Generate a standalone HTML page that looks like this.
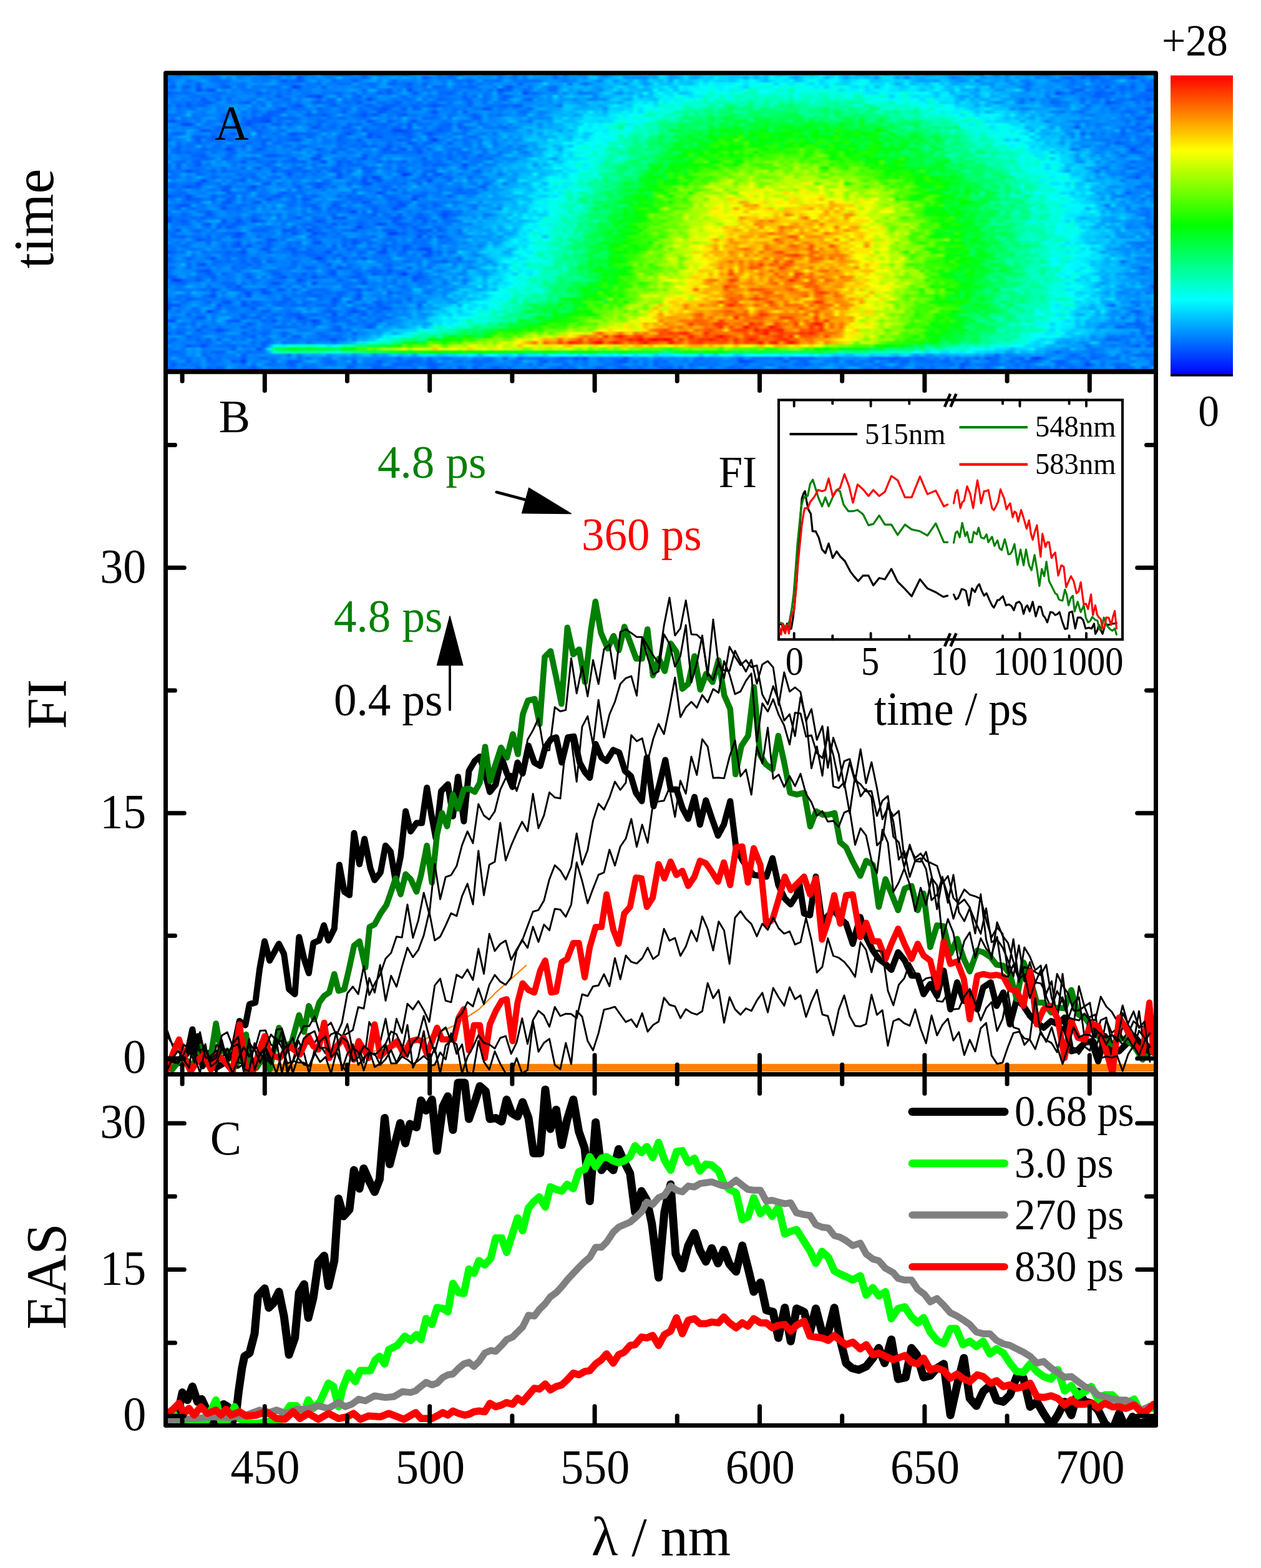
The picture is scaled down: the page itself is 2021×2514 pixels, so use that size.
<!DOCTYPE html>
<html><head><meta charset="utf-8"><title>Figure</title><style>html,body{margin:0;padding:0;background:#fff}#fig{position:relative;width:2021px;height:2514px;overflow:hidden;background:#fff}#fig>svg{position:absolute;left:0;top:0;display:block}#hm{position:absolute;overflow:hidden}#hm>div{position:absolute;left:-4px;right:-4px;top:0;filter:blur(1.2px)}#hm i{display:block;height:5px}</style></head><body><div id="fig"><div id="hm" style="left:266px;top:117px;width:1586px;height:479px"><div><i style="background:linear-gradient(90deg,#00a4ff,#0085ff,#007bff,#0051ff,#0073ff,#0074ff,#007aff,#006eff,#0078ff,#006fff,#005dff,#008dff,#0094ff,#00a1ff,#0080ff,#0071ff,#006dff,#005aff,#008eff,#0063ff,#005eff,#0076ff,#009cff,#0080ff,#0066ff,#006bff,#008bff,#0073ff,#0069ff,#0077ff,#008dff,#00a9ff,#0062ff,#006bff,#0067ff,#0048ff,#0064ff,#0065ff,#0093ff,#0078ff,#0056ff,#0088ff,#0077ff,#0056ff,#006eff,#0070ff,#006bff,#007bff,#004dff,#0077ff,#0094ff,#0095ff,#0094ff,#0097ff,#009fff,#0065ff,#008dff,#0052ff,#006bff,#0058ff,#0096ff,#009dff,#007fff,#00a5ff,#0072ff,#0082ff,#0084ff,#0065ff,#008bff,#00aaff,#0069ff,#0094ff,#007dff,#00abff,#008fff,#0093ff,#0091ff,#0089ff,#0062ff,#00a2ff,#0068ff,#008dff,#0097ff,#007aff,#0090ff,#00aeff,#0095ff,#007cff,#0050ff,#007eff,#008dff,#0092ff,#0086ff,#00a7ff,#0093ff,#00a0ff,#00b3ff,#0095ff,#00a3ff,#00e4ff,#00c6ff,#0090ff,#00adff,#00c2ff,#00d7ff,#00bbff,#00a9ff,#00aaff,#00cdff,#00c6ff,#00b7ff,#00beff,#00bbff,#00d5ff,#00b7ff,#00d4ff,#00dcff,#00d7ff,#00b5ff,#00ecff,#00bcff,#00dbff,#00bbff,#00a4ff,#00d4ff,#00d3ff,#00c8ff,#00d3ff,#00beff,#00b9ff,#00caff,#00fdff,#00dcff,#00bdff,#00d7ff,#00b9ff,#00b5ff,#00d6ff,#00b2ff,#0095ff,#00a4ff,#00bdff,#00bbff,#00d8ff,#00abff,#00c9ff,#00bcff,#00b0ff,#00bfff,#00bbff,#009aff,#00c1ff,#008eff,#00a8ff,#00a8ff,#00adff,#0091ff,#009bff,#009aff,#00b2ff,#008aff,#009aff,#0093ff,#0079ff,#00d1ff,#0093ff,#0070ff,#00afff,#0077ff,#0098ff,#009fff,#007fff,#007fff,#007eff,#0080ff,#0061ff,#0067ff,#0081ff,#009dff,#0091ff,#00a7ff,#0090ff,#0075ff,#0077ff,#0050ff,#0063ff,#0064ff,#0082ff,#008cff,#006fff,#006cff,#0058ff,#0077ff,#007cff,#0084ff,#006cff,#00aaff,#009bff,#007bff)"></i><i style="background:linear-gradient(90deg,#0072ff,#0073ff,#007dff,#0079ff,#0087ff,#008aff,#0099ff,#0094ff,#007dff,#0082ff,#006fff,#0070ff,#00a2ff,#0077ff,#00a5ff,#0077ff,#0081ff,#0091ff,#007dff,#0081ff,#0073ff,#0070ff,#007bff,#006fff,#0097ff,#0079ff,#009cff,#0042ff,#0077ff,#0088ff,#007bff,#0095ff,#0089ff,#0077ff,#0083ff,#00b2ff,#0082ff,#0080ff,#0072ff,#007cff,#0060ff,#007cff,#00b2ff,#0091ff,#008dff,#0095ff,#00a1ff,#008dff,#00a4ff,#0095ff,#0084ff,#00a2ff,#0050ff,#0071ff,#0085ff,#0069ff,#0079ff,#006eff,#0070ff,#00b1ff,#008eff,#007eff,#0098ff,#0081ff,#008eff,#0088ff,#009dff,#0061ff,#0091ff,#0086ff,#0066ff,#0096ff,#006fff,#00a4ff,#008eff,#0091ff,#0089ff,#0098ff,#005fff,#0089ff,#0078ff,#0092ff,#008eff,#009dff,#0085ff,#00c2ff,#00cbff,#0093ff,#0099ff,#00a7ff,#00bcff,#00ceff,#008fff,#0099ff,#0095ff,#0092ff,#008bff,#00b9ff,#009dff,#00dcff,#00d1ff,#009eff,#00a7ff,#00b2ff,#00e3ff,#00b0ff,#00a3ff,#00c6ff,#00d2ff,#00c1ff,#00f1ff,#00d6ff,#00daff,#00bfff,#00d0ff,#00d3ff,#00a4ff,#00dfff,#00b0ff,#00d7ff,#00b6ff,#00fff4,#00e7ff,#00efff,#00f1ff,#00bfff,#00a2ff,#00d1ff,#00f0ff,#00e2ff,#00efff,#00f1ff,#00b9ff,#00dfff,#00fff8,#00c5ff,#00a0ff,#00cbff,#00c5ff,#00d6ff,#00baff,#00c8ff,#0096ff,#00dcff,#00eaff,#00e3ff,#00a2ff,#00c3ff,#007fff,#00c0ff,#00b4ff,#00a1ff,#00b9ff,#00b6ff,#00c3ff,#00b5ff,#00b0ff,#007eff,#008bff,#009aff,#00a7ff,#00a7ff,#00bbff,#008aff,#009cff,#009fff,#0091ff,#00a4ff,#0086ff,#00b2ff,#0091ff,#00a4ff,#008dff,#00aaff,#0071ff,#0092ff,#007fff,#008bff,#009eff,#006eff,#0069ff,#006cff,#0083ff,#0059ff,#007dff,#005fff,#0064ff,#0074ff,#0084ff,#006eff,#0073ff,#007dff,#0074ff,#0045ff,#0072ff,#007aff,#0098ff,#00a7ff,#008dff)"></i><i style="background:linear-gradient(90deg,#007dff,#0067ff,#007bff,#008fff,#0096ff,#006bff,#0083ff,#008cff,#00a2ff,#0083ff,#006fff,#006bff,#0074ff,#006eff,#0090ff,#0092ff,#008bff,#0097ff,#0075ff,#0083ff,#0074ff,#007eff,#0097ff,#0079ff,#0057ff,#0073ff,#006dff,#0057ff,#006cff,#0090ff,#009eff,#0074ff,#0094ff,#0093ff,#0066ff,#007dff,#007bff,#007dff,#005dff,#0075ff,#0090ff,#0097ff,#00a6ff,#007cff,#00a7ff,#008aff,#0063ff,#008cff,#0079ff,#0086ff,#007dff,#009aff,#007cff,#0077ff,#0093ff,#0083ff,#0075ff,#009aff,#0076ff,#0073ff,#0074ff,#005dff,#0077ff,#00a1ff,#0070ff,#007dff,#006cff,#0072ff,#00a1ff,#0093ff,#0074ff,#007eff,#006fff,#0074ff,#0071ff,#0074ff,#0094ff,#0097ff,#0093ff,#0088ff,#0073ff,#008bff,#0084ff,#00a9ff,#00a1ff,#00aeff,#009bff,#007bff,#00b9ff,#00c5ff,#008eff,#00b4ff,#00c4ff,#009dff,#00dcff,#00aeff,#009dff,#00d9ff,#00c8ff,#00b6ff,#00d6ff,#0099ff,#00efff,#00b8ff,#00d4ff,#00c3ff,#00daff,#00ebff,#00c6ff,#00ebff,#00d8ff,#00ceff,#00daff,#00c7ff,#00d2ff,#00fbff,#00dfff,#00fffa,#00f0ff,#00d1ff,#00b9ff,#00deff,#00f0ff,#00efff,#00deff,#00fdff,#00c0ff,#00ccff,#00f1ff,#00ffe2,#00f8ff,#00d1ff,#00f1ff,#00faff,#00fdff,#00d6ff,#00c8ff,#00e1ff,#00eaff,#00fff8,#00fff2,#00c8ff,#00c6ff,#00d3ff,#00d5ff,#00dfff,#00d4ff,#00d3ff,#00e7ff,#00c3ff,#00acff,#009eff,#00a7ff,#00a8ff,#0098ff,#00c8ff,#00bfff,#00a6ff,#0099ff,#008bff,#009bff,#00d0ff,#007eff,#00a3ff,#00b1ff,#00a2ff,#0099ff,#00aeff,#0083ff,#00a4ff,#00b3ff,#0080ff,#007cff,#0094ff,#00a3ff,#00acff,#0099ff,#007cff,#0072ff,#0088ff,#0089ff,#0069ff,#0082ff,#0085ff,#0099ff,#006aff,#0085ff,#0064ff,#0073ff,#007aff,#009eff,#00c2ff,#0085ff,#0081ff,#008fff,#0062ff,#0088ff,#0067ff,#009eff)"></i><i style="background:linear-gradient(90deg,#0099ff,#0083ff,#0069ff,#00a0ff,#0082ff,#007aff,#0086ff,#0057ff,#0088ff,#0091ff,#0083ff,#007bff,#0065ff,#0083ff,#0083ff,#007cff,#0070ff,#0092ff,#0094ff,#0085ff,#008eff,#0098ff,#009dff,#0080ff,#0075ff,#0073ff,#0075ff,#0081ff,#008eff,#0075ff,#007fff,#0069ff,#0093ff,#0079ff,#0080ff,#006eff,#0075ff,#0070ff,#009bff,#0083ff,#007bff,#006aff,#0070ff,#008bff,#00a3ff,#0063ff,#0066ff,#0079ff,#006dff,#0059ff,#007cff,#008dff,#005dff,#0084ff,#0091ff,#0091ff,#0076ff,#00b2ff,#008aff,#006dff,#008eff,#0064ff,#008bff,#006bff,#008dff,#0076ff,#0094ff,#0093ff,#008aff,#0081ff,#0094ff,#005eff,#008aff,#008aff,#0092ff,#009eff,#00d7ff,#0092ff,#009dff,#0096ff,#00b2ff,#006fff,#00bbff,#0091ff,#006eff,#008cff,#009fff,#00a9ff,#00afff,#00c3ff,#00b1ff,#00b5ff,#008cff,#00c2ff,#00d7ff,#00b9ff,#0094ff,#00aaff,#00eeff,#00beff,#00c1ff,#00b9ff,#00e3ff,#00caff,#00c4ff,#00b8ff,#00dcff,#00fcff,#00e3ff,#00fffe,#00edff,#00edff,#00f2ff,#00f0ff,#00fff4,#00fffe,#00e2ff,#00fcff,#00f9ff,#00fffa,#00ffff,#00fffa,#00d8ff,#00fff7,#00ffe5,#00e2ff,#00ffdf,#00fffc,#00f5ff,#00d3ff,#00fff0,#00deff,#00e6ff,#00fffb,#00deff,#00dbff,#00d2ff,#00eaff,#00f9ff,#00fcff,#00f4ff,#00dfff,#00e1ff,#00d4ff,#00ffee,#00e4ff,#00aeff,#00bfff,#00fbff,#00b8ff,#00c6ff,#00d5ff,#00b4ff,#00e1ff,#00eeff,#00baff,#00daff,#00abff,#00a6ff,#00baff,#00bdff,#00adff,#00bcff,#008eff,#0099ff,#008dff,#00b4ff,#00b5ff,#00aaff,#0083ff,#009dff,#009bff,#006dff,#0080ff,#00a1ff,#00a1ff,#0094ff,#0095ff,#0090ff,#008cff,#0082ff,#006fff,#007eff,#007aff,#00b1ff,#0084ff,#007dff,#0077ff,#0075ff,#0079ff,#0089ff,#0080ff,#008cff,#006cff,#0085ff,#008bff,#0064ff,#007bff,#0085ff)"></i><i style="background:linear-gradient(90deg,#0074ff,#006fff,#0054ff,#0095ff,#0067ff,#0061ff,#0088ff,#004fff,#008dff,#0083ff,#0085ff,#007aff,#005fff,#0057ff,#0097ff,#0073ff,#006fff,#009bff,#0071ff,#0076ff,#007aff,#0079ff,#0068ff,#0070ff,#0095ff,#0086ff,#003eff,#0050ff,#0082ff,#0078ff,#0076ff,#008eff,#005bff,#0092ff,#0081ff,#0087ff,#0082ff,#008eff,#007dff,#0073ff,#0089ff,#0081ff,#0066ff,#0099ff,#009aff,#0095ff,#007fff,#0081ff,#0076ff,#0061ff,#007dff,#0082ff,#006eff,#00a0ff,#005fff,#006bff,#006fff,#009bff,#0079ff,#0074ff,#006dff,#006aff,#0065ff,#008fff,#0090ff,#0090ff,#0078ff,#00aeff,#006aff,#0052ff,#007dff,#0083ff,#0091ff,#0071ff,#0098ff,#00afff,#0082ff,#007aff,#006bff,#009aff,#00b1ff,#00a8ff,#00b6ff,#00beff,#00a8ff,#00b9ff,#0095ff,#0099ff,#00b5ff,#00a6ff,#00c9ff,#00daff,#00c7ff,#00b2ff,#00b6ff,#00e4ff,#00b3ff,#00cbff,#00d2ff,#00d4ff,#00efff,#00ceff,#00bbff,#00fffc,#00e9ff,#00f6ff,#00edff,#00fffb,#00ffed,#00ffe5,#00f2ff,#00efff,#00fffa,#00fffd,#00ffed,#00edff,#00c9ff,#00ffec,#00ffe1,#00ffe3,#00ffcb,#00ffde,#00fffc,#00ffda,#00fff0,#00ffd1,#00ffea,#00ffe8,#00fff0,#00fff9,#00e5ff,#00fffd,#00ceff,#00ffed,#00ffe4,#00ffd1,#00fff6,#00e7ff,#00d5ff,#00ffd9,#00d4ff,#00fffb,#00bbff,#00eaff,#00fffc,#00f1ff,#00e1ff,#00ccff,#00cfff,#00f5ff,#00e7ff,#00d5ff,#00d9ff,#00c3ff,#00f0ff,#00ebff,#00bcff,#00c7ff,#00deff,#00b4ff,#00eaff,#00dcff,#00b0ff,#00c8ff,#00d2ff,#0091ff,#00b4ff,#00a2ff,#00a0ff,#00adff,#0096ff,#007cff,#0070ff,#0092ff,#00a0ff,#0093ff,#008bff,#008eff,#00a5ff,#0095ff,#0078ff,#007bff,#0096ff,#0073ff,#007dff,#007dff,#0067ff,#008aff,#0052ff,#0097ff,#0073ff,#0060ff,#007fff,#0057ff,#0087ff,#008eff,#006aff,#0070ff,#008fff)"></i><i style="background:linear-gradient(90deg,#006bff,#0077ff,#007eff,#009bff,#006fff,#0079ff,#0090ff,#0045ff,#0074ff,#0053ff,#0056ff,#00a0ff,#007fff,#0097ff,#007aff,#0086ff,#0071ff,#0072ff,#0078ff,#007bff,#0099ff,#0077ff,#0082ff,#0074ff,#007fff,#0061ff,#008bff,#006fff,#007bff,#0077ff,#008fff,#008aff,#0079ff,#0081ff,#0083ff,#008bff,#0088ff,#009aff,#009dff,#008aff,#0063ff,#00a2ff,#00a8ff,#0075ff,#0073ff,#0052ff,#0089ff,#006cff,#00a2ff,#004aff,#007aff,#008aff,#0076ff,#0070ff,#0081ff,#006fff,#0073ff,#007bff,#0070ff,#007aff,#008aff,#0076ff,#007fff,#0072ff,#0090ff,#0067ff,#0091ff,#0042ff,#0068ff,#005eff,#0095ff,#008aff,#0064ff,#0077ff,#00a2ff,#008cff,#0095ff,#006dff,#006cff,#00a4ff,#00c9ff,#0096ff,#00acff,#008fff,#00bdff,#009fff,#009eff,#0085ff,#00adff,#00bdff,#00d8ff,#00a5ff,#00d8ff,#00bbff,#00c0ff,#00b7ff,#00abff,#00b5ff,#00fcff,#00c5ff,#00d7ff,#00f8ff,#00b6ff,#00f1ff,#00dfff,#00f5ff,#00fff3,#00f8ff,#00faff,#00ffe5,#00ffed,#00f3ff,#00fffd,#00edff,#00ffd3,#00f0ff,#00ffe9,#00ffbb,#00ffd0,#00fff1,#00fff9,#00fff5,#00ffd0,#00ffda,#00ffe2,#00ff9f,#00fff9,#00fff2,#00fff0,#00ffe3,#00ffe4,#00ffee,#00ffdc,#00ffdf,#00fff5,#00d6ff,#00ffe0,#00f0ff,#00f4ff,#00fffb,#00ddff,#00e8ff,#00f4ff,#00f1ff,#00fcff,#00deff,#00e8ff,#00d4ff,#00e5ff,#00efff,#00e2ff,#00c0ff,#00dbff,#00ddff,#00f2ff,#00d7ff,#00c6ff,#00b0ff,#00f6ff,#00afff,#00aaff,#00b6ff,#008eff,#00ceff,#00bcff,#00b5ff,#0096ff,#009aff,#00b5ff,#00b7ff,#00daff,#00aeff,#006cff,#0096ff,#008dff,#00a7ff,#008bff,#0096ff,#007fff,#0092ff,#00a1ff,#0071ff,#0058ff,#0069ff,#009bff,#0082ff,#0070ff,#0067ff,#008bff,#0080ff,#0078ff,#006bff,#0078ff,#0070ff,#0087ff,#0092ff,#004fff,#0058ff,#0078ff)"></i><i style="background:linear-gradient(90deg,#007bff,#0058ff,#006bff,#0073ff,#0070ff,#006fff,#0079ff,#0087ff,#0089ff,#0083ff,#007aff,#006dff,#0071ff,#008aff,#007cff,#008cff,#0080ff,#007bff,#0082ff,#005aff,#0077ff,#006eff,#008bff,#0069ff,#007dff,#0070ff,#0086ff,#0087ff,#0076ff,#0078ff,#007dff,#0085ff,#0073ff,#007dff,#0074ff,#0065ff,#007fff,#0087ff,#006dff,#0097ff,#006dff,#008cff,#0084ff,#005aff,#0077ff,#0057ff,#007bff,#0088ff,#00a3ff,#0088ff,#005bff,#0076ff,#0099ff,#007fff,#009fff,#006bff,#006cff,#005eff,#0073ff,#0094ff,#0069ff,#008cff,#0084ff,#008fff,#0077ff,#007cff,#00abff,#005fff,#0088ff,#0099ff,#008dff,#00a1ff,#0044ff,#0078ff,#006dff,#007eff,#008bff,#0092ff,#0082ff,#00a4ff,#007dff,#00b0ff,#009aff,#0077ff,#007eff,#007fff,#008eff,#00afff,#00d0ff,#00c8ff,#009eff,#0087ff,#00bbff,#00a4ff,#00c6ff,#00bcff,#00fff6,#00aeff,#00e7ff,#00fff4,#00ddff,#00d9ff,#00ffec,#00c1ff,#00c6ff,#00d7ff,#00fff7,#00ffeb,#00fff5,#00ffba,#00fff4,#00ffeb,#00fff1,#00ffcf,#00ffde,#00ffe9,#00ffb2,#00ffb7,#00ffbd,#00fffc,#00fff8,#00ffdf,#00ffdb,#00ffe2,#00ffdd,#00ffbf,#00fff6,#00ffd2,#00ffe2,#00ffe4,#00ffe1,#00ffc8,#00ffd2,#00fff3,#00ffd9,#00ffe2,#00ffdb,#00fff0,#00ffce,#00ffe1,#00edff,#00e8ff,#00e5ff,#00ffef,#00f3ff,#00eeff,#00f8ff,#00ffe6,#00ffd1,#00f1ff,#00ffe3,#00f7ff,#00fffd,#00dcff,#00c1ff,#00e7ff,#00f3ff,#00adff,#00ccff,#00c9ff,#00ccff,#00a7ff,#00a8ff,#00d0ff,#00e0ff,#00b4ff,#00bfff,#00aeff,#00b1ff,#009aff,#009dff,#0091ff,#0097ff,#00afff,#0099ff,#00a2ff,#007fff,#009aff,#0047ff,#0067ff,#007fff,#005eff,#0089ff,#0082ff,#006fff,#007cff,#0059ff,#0064ff,#0071ff,#005bff,#008fff,#006eff,#0091ff,#0078ff,#0080ff,#0068ff,#006eff,#006eff,#0081ff)"></i><i style="background:linear-gradient(90deg,#0095ff,#006eff,#0076ff,#0083ff,#008bff,#0079ff,#0071ff,#0070ff,#0078ff,#0081ff,#006eff,#0070ff,#008aff,#0079ff,#0071ff,#008bff,#008cff,#0089ff,#0087ff,#0073ff,#0080ff,#007fff,#007eff,#0056ff,#0078ff,#0080ff,#0088ff,#0076ff,#007bff,#0058ff,#0059ff,#003cff,#0076ff,#009bff,#009dff,#0069ff,#0088ff,#0097ff,#0071ff,#0056ff,#0095ff,#0071ff,#0074ff,#009dff,#0089ff,#008dff,#009bff,#007bff,#006aff,#008bff,#007bff,#008fff,#0086ff,#006fff,#007fff,#0072ff,#0075ff,#0079ff,#0083ff,#0083ff,#0060ff,#0087ff,#0065ff,#00abff,#006eff,#007dff,#00a0ff,#0077ff,#0062ff,#0065ff,#008aff,#0090ff,#008dff,#0086ff,#007dff,#0093ff,#00aaff,#0082ff,#00deff,#0091ff,#00b1ff,#00c8ff,#00b2ff,#00a7ff,#00b3ff,#00beff,#0070ff,#00b6ff,#00acff,#00acff,#00c0ff,#00c3ff,#00ceff,#00baff,#00eaff,#00a4ff,#00c6ff,#00bdff,#00e4ff,#00e8ff,#00fbff,#00e3ff,#00ffe3,#00ffec,#00f2ff,#00daff,#00eeff,#00eeff,#00ffc5,#00ffce,#00fffa,#00ffac,#00ffe0,#00f3ff,#00ffb4,#00ffae,#00ffc9,#00ffdc,#00ffa8,#00ffd6,#00ffc7,#00ffb8,#00ffbc,#00ffd1,#00ffe0,#00ffaf,#00fdff,#00ffc0,#00ffbd,#00ffbc,#00ffd3,#00ffc1,#00ffb4,#00ffe9,#00ffce,#00ffc9,#00fff3,#00fff0,#00ffae,#00ffbd,#00fff5,#00ffd6,#00ffe1,#00ffc9,#00ffda,#00caff,#00fbff,#00ffd7,#00ffd3,#00e9ff,#00daff,#00f3ff,#00e3ff,#00e9ff,#00c5ff,#00f1ff,#00eaff,#00ddff,#00b3ff,#009fff,#00a9ff,#00c5ff,#0094ff,#00c7ff,#00ddff,#00a6ff,#00adff,#00bfff,#00b9ff,#0095ff,#0099ff,#0099ff,#0093ff,#00a0ff,#009dff,#00acff,#006cff,#00a3ff,#0095ff,#0084ff,#0091ff,#0097ff,#008aff,#007aff,#0083ff,#006eff,#005dff,#0068ff,#0069ff,#007fff,#008cff,#0080ff,#009aff,#0077ff,#006cff,#0069ff,#0063ff,#0072ff,#0096ff)"></i><i style="background:linear-gradient(90deg,#005dff,#0086ff,#007bff,#008cff,#0074ff,#0087ff,#0071ff,#0084ff,#0052ff,#0081ff,#0087ff,#005dff,#008eff,#0065ff,#008eff,#007dff,#0089ff,#0081ff,#0069ff,#0099ff,#0096ff,#006cff,#0086ff,#0082ff,#006eff,#0067ff,#0096ff,#0075ff,#0092ff,#00a2ff,#0082ff,#0064ff,#008dff,#0062ff,#006dff,#00b7ff,#006fff,#0083ff,#0066ff,#0072ff,#0081ff,#0046ff,#006fff,#008cff,#0090ff,#0085ff,#006cff,#0081ff,#0072ff,#006dff,#007fff,#00aaff,#006fff,#0090ff,#0080ff,#005eff,#006aff,#0077ff,#0076ff,#0084ff,#0066ff,#0067ff,#0090ff,#0082ff,#0069ff,#0081ff,#00a5ff,#0072ff,#0060ff,#0091ff,#00aeff,#009dff,#0069ff,#005aff,#009fff,#0089ff,#0099ff,#008aff,#00bcff,#0096ff,#0095ff,#00a1ff,#0086ff,#00a3ff,#00a3ff,#007eff,#008cff,#0095ff,#0091ff,#00c0ff,#00d8ff,#00c8ff,#00a8ff,#00a5ff,#00e8ff,#00d2ff,#00daff,#00c7ff,#00bbff,#00ffd8,#00ecff,#00f7ff,#00f0ff,#00ffd0,#00fff6,#00fff0,#00ffe4,#00ffde,#00ffb1,#00fffd,#00ffc2,#00ffd4,#00ffd2,#00ffd9,#00ffb8,#00ffdc,#00ffcc,#00ffab,#00ffc6,#00ffc7,#00ffa9,#00ffb2,#00ffbf,#00ffb1,#00ffce,#00ff9a,#00ffd8,#00ffde,#00ffac,#00ffdd,#00ffd4,#00ffc0,#00ffa7,#00ffcb,#00ffc9,#00ffcd,#00ffbf,#00ffd2,#00ffbf,#00ffa8,#00ffdd,#00ffe5,#00fff6,#00fff5,#00faff,#00f6ff,#00fbff,#00ffeb,#00ffe9,#00f5ff,#00fffe,#00d8ff,#00ffdd,#00ffd1,#00e5ff,#00ecff,#00e0ff,#00e9ff,#00bdff,#00a7ff,#00d5ff,#00aaff,#00bfff,#00a8ff,#00a6ff,#00c4ff,#00ccff,#00a6ff,#009fff,#00a9ff,#008fff,#0072ff,#0093ff,#0067ff,#009bff,#0087ff,#008dff,#006aff,#0077ff,#0092ff,#00a2ff,#0099ff,#008bff,#0066ff,#008cff,#007dff,#0073ff,#0095ff,#0067ff,#009aff,#006dff,#006bff,#007aff,#005fff,#006bff,#0078ff,#0053ff,#0067ff,#005cff)"></i><i style="background:linear-gradient(90deg,#0070ff,#008fff,#0072ff,#0074ff,#007bff,#0061ff,#007bff,#006dff,#0064ff,#0055ff,#006eff,#008cff,#0094ff,#0073ff,#007dff,#0071ff,#0062ff,#0058ff,#0097ff,#006aff,#007eff,#009bff,#0073ff,#0077ff,#007fff,#0070ff,#007eff,#0070ff,#0092ff,#008bff,#0062ff,#005eff,#006eff,#0069ff,#0067ff,#0090ff,#006bff,#0070ff,#0079ff,#0052ff,#0081ff,#0081ff,#0095ff,#0069ff,#0070ff,#007dff,#006eff,#005dff,#008aff,#0074ff,#007eff,#0069ff,#008bff,#0074ff,#0069ff,#0086ff,#008eff,#0069ff,#0090ff,#009eff,#007fff,#005bff,#008aff,#0092ff,#0069ff,#009dff,#007dff,#007aff,#0090ff,#0086ff,#009bff,#0082ff,#008aff,#0083ff,#0090ff,#0095ff,#0097ff,#008aff,#00a7ff,#0091ff,#00b6ff,#00acff,#009dff,#0094ff,#00a7ff,#00c7ff,#00b5ff,#00c6ff,#00b5ff,#00b9ff,#00b8ff,#009fff,#00d2ff,#00d2ff,#00e2ff,#00f5ff,#00d7ff,#00ffe9,#00d0ff,#00fff3,#00e9ff,#00fff7,#00ffd4,#00f8ff,#00ffda,#00ffd7,#00ffd0,#00ffc8,#00ffb2,#00ffb6,#00ffb1,#00ffa6,#00ffa1,#00ffb5,#00ffcd,#00ffa1,#00ffb3,#00ff79,#00ffba,#00ffc9,#00ff88,#00ffbc,#00ffcb,#00ff82,#00ffc6,#00ff7b,#00ffbc,#00ff9c,#00ff9f,#00ffdb,#00ffaf,#00ffb6,#00ffa5,#00ff9e,#00ff84,#00ffb6,#00ffb2,#00ff7f,#00ffa8,#00ffaa,#00ffe8,#00ffed,#00ffdf,#00ffd9,#00ffca,#00ff9a,#00ffff,#00ffef,#00ffd8,#00ffea,#00ffdb,#00f8ff,#00edff,#00ffce,#00fbff,#00d4ff,#00deff,#00e0ff,#00b5ff,#00e2ff,#00d4ff,#00bfff,#00b4ff,#00e3ff,#00b6ff,#00a6ff,#0088ff,#0095ff,#00b9ff,#00c7ff,#0087ff,#006fff,#009cff,#0096ff,#00abff,#0084ff,#0090ff,#0062ff,#006bff,#007cff,#007fff,#0096ff,#009eff,#0068ff,#009fff,#0071ff,#0076ff,#0094ff,#0048ff,#005dff,#0067ff,#007bff,#0091ff,#0090ff,#0068ff,#0088ff,#0070ff,#0097ff,#0071ff)"></i><i style="background:linear-gradient(90deg,#0090ff,#0068ff,#0088ff,#005dff,#0079ff,#0056ff,#0073ff,#0069ff,#0065ff,#007cff,#008bff,#007fff,#0083ff,#008cff,#0099ff,#0090ff,#0086ff,#00a0ff,#0074ff,#0088ff,#0068ff,#00adff,#0077ff,#007cff,#0093ff,#0076ff,#0065ff,#0052ff,#0075ff,#00a5ff,#0080ff,#0099ff,#008aff,#006fff,#005dff,#0077ff,#0083ff,#0074ff,#0081ff,#0081ff,#0072ff,#005cff,#0072ff,#0081ff,#0064ff,#0061ff,#0064ff,#0071ff,#0075ff,#0079ff,#005dff,#0075ff,#0070ff,#0064ff,#0050ff,#0064ff,#006dff,#007bff,#0082ff,#007dff,#007dff,#0062ff,#008aff,#008dff,#0083ff,#0071ff,#007aff,#0071ff,#0063ff,#0077ff,#0060ff,#005dff,#008fff,#0090ff,#009cff,#0087ff,#0092ff,#009cff,#008dff,#006eff,#00d0ff,#00c1ff,#00bfff,#00a9ff,#009bff,#00b5ff,#00bbff,#009eff,#00b2ff,#00d5ff,#00efff,#00ddff,#00d0ff,#00c3ff,#00ffe4,#00f4ff,#00fff7,#00fffc,#00e1ff,#00ffbf,#00ffd8,#00ffc7,#00fff0,#00ffdd,#00ffab,#00ffce,#00ffd8,#00ffdc,#00ffd8,#00ff9a,#00ffb0,#00ffd5,#00ff79,#00ff76,#00ff82,#00ffca,#00ff97,#00ff71,#00ffb7,#00ffaf,#00ff98,#00ffce,#00ff90,#00ff74,#00ff7e,#00ff63,#00ff8e,#00ff93,#00ff9a,#00ffaf,#00ffb5,#00ffae,#00ff98,#00ffaa,#00ff96,#00ff9e,#00ff93,#00ffae,#00ffe0,#00ffc4,#00ff84,#00ff9d,#00ffc1,#00ffc8,#00ffca,#00ffd3,#00ffcd,#00ffc5,#00ffba,#00ffea,#00ffe7,#00fff7,#00fff4,#00ffd8,#00f1ff,#00ffd3,#00fffc,#00fff7,#00ceff,#00d8ff,#00ceff,#00d1ff,#00a0ff,#00d6ff,#00a3ff,#00c7ff,#00ceff,#00b5ff,#00b1ff,#00a9ff,#00a2ff,#00a5ff,#00b4ff,#00aeff,#00beff,#009bff,#008bff,#0087ff,#0074ff,#0084ff,#0080ff,#00b4ff,#009bff,#00a7ff,#0060ff,#0088ff,#0098ff,#0089ff,#0074ff,#007dff,#007eff,#0082ff,#0084ff,#0093ff,#0081ff,#0083ff,#007aff,#0087ff,#006eff)"></i><i style="background:linear-gradient(90deg,#008bff,#0077ff,#0090ff,#006fff,#007bff,#0079ff,#006aff,#0091ff,#0084ff,#0082ff,#009aff,#0078ff,#007fff,#0098ff,#00b3ff,#0088ff,#009eff,#0086ff,#006bff,#0088ff,#0097ff,#0085ff,#0084ff,#0064ff,#004fff,#007fff,#0060ff,#0075ff,#0070ff,#0081ff,#0090ff,#005cff,#0077ff,#0078ff,#0094ff,#007bff,#0067ff,#0070ff,#009fff,#006aff,#0078ff,#007cff,#0063ff,#0064ff,#004dff,#0064ff,#0084ff,#007cff,#0054ff,#0096ff,#005fff,#0069ff,#009bff,#0082ff,#0073ff,#0097ff,#007aff,#0082ff,#006fff,#007bff,#0078ff,#0090ff,#0072ff,#0078ff,#0052ff,#0059ff,#008bff,#0077ff,#0079ff,#008fff,#007dff,#0083ff,#0080ff,#0063ff,#009dff,#00afff,#00adff,#009aff,#00a0ff,#00a5ff,#00caff,#00c4ff,#00a8ff,#00afff,#00aeff,#00b1ff,#00b2ff,#00beff,#0091ff,#00d9ff,#00cfff,#00c2ff,#00dfff,#00d7ff,#00ffeb,#00deff,#00fffb,#00ffea,#00f9ff,#00ffff,#00ffd7,#00ffe2,#00ffe9,#00ffec,#00ffac,#00ff94,#00ffbf,#00ffa3,#00ff8b,#00ff84,#00ffae,#00ff8c,#00ff7c,#00ff47,#00ff87,#00ff77,#00ff74,#00ff74,#00ffa2,#00ff7f,#00ff5c,#00ff8f,#00ff7d,#00ff94,#00ff78,#00ff74,#00ff6d,#00ff90,#00ff93,#00ff94,#00ff83,#00ff80,#00ff4c,#00ff9a,#00ff78,#00ff9c,#00ff9d,#00ff7a,#00ff8f,#00ff93,#00ffb8,#00ff5c,#00ff74,#00ffc2,#00ffd4,#00ffcc,#00ffb4,#00ffd9,#00ffc1,#00ffda,#00ff8f,#00ffe2,#00ffeb,#00ffb9,#00ffe9,#00fff5,#00fffb,#00fff6,#00e8ff,#00f3ff,#00dcff,#00c2ff,#00cdff,#00ddff,#00eeff,#00d1ff,#00c2ff,#00c5ff,#00c6ff,#0087ff,#00a4ff,#007cff,#0082ff,#0098ff,#00a0ff,#009fff,#009eff,#00b0ff,#009bff,#0096ff,#008aff,#00b8ff,#00a5ff,#007eff,#0078ff,#0096ff,#0099ff,#007dff,#0095ff,#0068ff,#007bff,#0090ff,#0070ff,#007eff,#007cff,#0078ff,#0054ff,#0072ff,#007fff)"></i><i style="background:linear-gradient(90deg,#0083ff,#008aff,#008fff,#0073ff,#0079ff,#00a3ff,#008cff,#007fff,#0078ff,#0092ff,#0095ff,#007bff,#0083ff,#007dff,#0083ff,#00a1ff,#0068ff,#008aff,#0064ff,#0071ff,#008cff,#0060ff,#0066ff,#0061ff,#0070ff,#0083ff,#0091ff,#0073ff,#008aff,#0063ff,#00a5ff,#0070ff,#006eff,#007fff,#007fff,#0079ff,#0059ff,#008aff,#008bff,#006fff,#005fff,#007fff,#0089ff,#0055ff,#0061ff,#0078ff,#006bff,#0071ff,#0072ff,#008cff,#0088ff,#008eff,#008fff,#006eff,#0048ff,#0082ff,#0085ff,#0082ff,#006dff,#00a0ff,#005cff,#008bff,#0086ff,#008fff,#0099ff,#0086ff,#0088ff,#007bff,#0093ff,#0090ff,#0098ff,#0071ff,#006aff,#0090ff,#009eff,#0077ff,#0084ff,#0096ff,#00a9ff,#00aeff,#00c1ff,#00afff,#00baff,#00d3ff,#00beff,#00f6ff,#00c4ff,#00d1ff,#00a7ff,#00dcff,#00d9ff,#00dfff,#00f7ff,#00e0ff,#00fff8,#00d6ff,#00fff5,#00ffc0,#00ffd9,#00ffcc,#00ffe4,#00ffe6,#00ff9e,#00ffa0,#00ff92,#00ffa5,#00ff81,#00ffa5,#00ff81,#00ff7a,#00ffa5,#00ff61,#00ff7c,#00ff64,#00ffa6,#00ff9e,#00ff89,#00ff66,#00ff5a,#00ff69,#00ff78,#00ff66,#00ff77,#00ff70,#00ff65,#00ff80,#00ff64,#00ff9e,#00ff91,#00ff6c,#00ff88,#00ff6e,#00ff6d,#00ff84,#00ff4f,#00ff72,#00ff96,#00ff8f,#00ff83,#00ffaf,#00ff73,#00ff8d,#00ffc0,#00ffb9,#00ff7f,#00ffa1,#00ff71,#00ffb4,#00ffab,#00ff8e,#00ff86,#00ffe1,#00ffc3,#00fff0,#00ffef,#00edff,#00ffe3,#00f1ff,#00efff,#00ffd7,#00fff2,#00e9ff,#00bdff,#00e8ff,#00adff,#00c3ff,#00e1ff,#00dfff,#00caff,#00d1ff,#00bdff,#009eff,#00b0ff,#00cdff,#00a8ff,#00a8ff,#00acff,#0082ff,#0080ff,#0075ff,#0099ff,#008aff,#0075ff,#006eff,#0094ff,#0097ff,#008eff,#0083ff,#008dff,#007eff,#0085ff,#0074ff,#0067ff,#006aff,#0081ff,#009bff,#0066ff,#0066ff,#008aff)"></i><i style="background:linear-gradient(90deg,#0087ff,#006dff,#006eff,#0070ff,#0081ff,#00baff,#006fff,#007eff,#0071ff,#0080ff,#0086ff,#007eff,#0064ff,#0066ff,#008bff,#0085ff,#007aff,#0086ff,#0068ff,#008dff,#0067ff,#005dff,#0063ff,#0074ff,#00abff,#007aff,#0080ff,#0096ff,#0074ff,#0059ff,#006dff,#006eff,#0057ff,#0070ff,#007cff,#009fff,#0085ff,#007dff,#006eff,#0066ff,#004eff,#0072ff,#004fff,#0072ff,#0097ff,#0071ff,#007fff,#0063ff,#0056ff,#007cff,#0074ff,#0084ff,#007aff,#0081ff,#0069ff,#0083ff,#008fff,#006dff,#0075ff,#0092ff,#0083ff,#0075ff,#0059ff,#0075ff,#009eff,#0076ff,#007cff,#006fff,#0085ff,#008aff,#0090ff,#007cff,#0078ff,#00bbff,#0099ff,#0081ff,#0094ff,#00a8ff,#00beff,#00b0ff,#00acff,#00bcff,#009bff,#00acff,#00e2ff,#00d7ff,#00d0ff,#00cbff,#00c0ff,#00ebff,#00efff,#00ffdf,#00eaff,#00fffe,#00fff9,#00fcff,#00ffb8,#00ffb4,#00ffce,#00ffed,#00ffbc,#00ffb2,#00ffc2,#00ffce,#00ff6f,#00ffb9,#00ff77,#00ff9f,#00ff91,#00ff63,#00ff9e,#00ff81,#00ff73,#00ff4e,#00ff58,#00ff73,#00ff93,#00ff4f,#00ff6f,#00ff64,#00ff9c,#00ff6d,#00ff5b,#00ff6e,#00ff52,#00ff40,#00ff37,#00ff79,#00ff9b,#00ffb0,#00ff7b,#00ff9a,#00ff64,#00ffae,#00ff54,#00ff71,#00ff9f,#00ff70,#00ff6a,#00ff6c,#00ff7c,#00ff74,#00ff7e,#00ff95,#00ff8d,#00ffbc,#00ff8a,#00ffc6,#00ffb5,#00ffcd,#00ff9b,#00ffc0,#00ffe1,#00ffcb,#00ffdb,#00ffcd,#00ffe1,#00ffed,#00fff9,#00e1ff,#00fff0,#00fff2,#00d8ff,#00f7ff,#00fdff,#00f7ff,#00f9ff,#00e8ff,#00c3ff,#00f7ff,#00c1ff,#00afff,#00d2ff,#00a3ff,#00beff,#0098ff,#00bdff,#00b7ff,#0092ff,#00a2ff,#00a5ff,#0092ff,#0099ff,#0087ff,#007fff,#0075ff,#008bff,#0090ff,#0094ff,#008dff,#008dff,#0077ff,#009cff,#006dff,#0088ff,#0079ff,#0075ff,#00a4ff,#008bff)"></i><i style="background:linear-gradient(90deg,#0065ff,#007eff,#0070ff,#009fff,#006dff,#0082ff,#0071ff,#006fff,#008cff,#0094ff,#0096ff,#007aff,#006cff,#0088ff,#0077ff,#009cff,#0061ff,#0081ff,#005fff,#0065ff,#0055ff,#005aff,#0083ff,#006bff,#0068ff,#0063ff,#0066ff,#0074ff,#008cff,#007aff,#0078ff,#0076ff,#0083ff,#0069ff,#007eff,#0068ff,#0067ff,#0087ff,#007cff,#0074ff,#0065ff,#0080ff,#00a1ff,#0088ff,#008bff,#0076ff,#0091ff,#0075ff,#00b4ff,#0082ff,#0079ff,#0093ff,#0066ff,#006dff,#006bff,#0079ff,#009dff,#006cff,#00aeff,#0094ff,#009cff,#0080ff,#005dff,#0065ff,#009fff,#007eff,#008cff,#008fff,#00aaff,#00adff,#009bff,#0094ff,#00a8ff,#0084ff,#008eff,#0083ff,#008fff,#0087ff,#00c3ff,#00b3ff,#00deff,#00b9ff,#00c6ff,#00c1ff,#00e6ff,#00e7ff,#00d9ff,#00eaff,#00d9ff,#00e4ff,#00e8ff,#00ffe3,#00f4ff,#00f9ff,#00ffce,#00ffe3,#00fff3,#00ffe6,#00ffd3,#00ffd7,#00ffb2,#00ffca,#00ffc3,#00ff83,#00ff60,#00ff66,#00ff86,#00ff6e,#00ff7a,#00ff3a,#00ff65,#00ff5a,#00ff2c,#00ff39,#00ff58,#00ff78,#00ff6a,#00ff84,#00ff2b,#00ff58,#00ff45,#00ff51,#00ff69,#00ff4c,#00ff49,#00ff55,#00ff4f,#00ff4c,#00ff77,#00ff5f,#00ff69,#00ff72,#00ff5c,#00ffa1,#00ff87,#00ff66,#00ff38,#00ff50,#00ff79,#00ff3c,#00ff69,#00ff85,#00ff76,#00ff4b,#00ff69,#00ff9e,#00ffa8,#00ff85,#00ffb6,#00ffad,#00ff90,#00ffc3,#00ffcb,#00ffb5,#00ffc8,#00ffa6,#00ffcc,#00ffc8,#00ffd2,#00fff5,#00ffd4,#00ffd2,#00fffd,#00f0ff,#00eeff,#00fff0,#00e7ff,#00d3ff,#00b9ff,#00d2ff,#00afff,#00d1ff,#00afff,#009bff,#00c9ff,#00b3ff,#00afff,#0093ff,#00aeff,#00a4ff,#009dff,#00a6ff,#00a7ff,#008dff,#00a8ff,#0093ff,#0086ff,#0093ff,#008aff,#00a0ff,#0086ff,#0079ff,#007dff,#008aff,#005cff,#005eff,#0076ff,#0088ff,#008aff)"></i><i style="background:linear-gradient(90deg,#0074ff,#005bff,#004fff,#0077ff,#006cff,#007bff,#0089ff,#006dff,#0094ff,#0073ff,#0078ff,#007cff,#0055ff,#00a8ff,#0076ff,#0090ff,#0068ff,#0054ff,#005fff,#005eff,#004dff,#0044ff,#0083ff,#0068ff,#007bff,#008cff,#006eff,#0079ff,#008fff,#0080ff,#007dff,#0063ff,#0068ff,#0084ff,#0075ff,#0089ff,#0088ff,#0082ff,#0087ff,#007cff,#008fff,#0051ff,#006bff,#0081ff,#0098ff,#0059ff,#0071ff,#0081ff,#0098ff,#006dff,#0053ff,#007fff,#0088ff,#0082ff,#0083ff,#0085ff,#006eff,#0082ff,#0091ff,#007aff,#006fff,#0073ff,#008bff,#0070ff,#009bff,#0088ff,#0084ff,#0098ff,#0092ff,#00bcff,#00b2ff,#0087ff,#0090ff,#0070ff,#00aeff,#00a7ff,#00aaff,#008bff,#00d3ff,#00d1ff,#00b7ff,#00b4ff,#00beff,#00dfff,#00e4ff,#00ddff,#00deff,#00ccff,#00e3ff,#00d5ff,#00ffe4,#00ffee,#00ffea,#00fff5,#00fff5,#00f4ff,#00ffe2,#00ffd0,#00ffc5,#00ff94,#00ff8b,#00ffb5,#00ffae,#00ff6e,#00ffb7,#00ff81,#00ff5e,#00ff67,#00ff74,#00ff4c,#00ff73,#00ff70,#00ff4d,#00ff57,#00ff3f,#00ff34,#00ff2e,#00ff93,#00ff40,#00ff3b,#00ff2c,#00ff52,#00ff54,#00ff3d,#00ff5d,#00ff77,#00ff36,#00ff35,#00ff6a,#00ff2a,#00ff63,#00ff43,#00ff70,#00ff59,#00ff6a,#00ff5d,#00ff47,#00ff42,#00ff76,#00ff27,#00ff78,#00ff91,#00ff6e,#00ff36,#00ff7c,#00ff9d,#00ff94,#00ff76,#00ff7c,#00ff80,#00ff70,#00ff6a,#00ffa0,#00ffa2,#00ffb5,#00ffad,#00ffa2,#00ffbf,#00ffe8,#00ffc8,#00ffba,#00ffe1,#00ffc0,#00ffdd,#00dcff,#00ecff,#00d5ff,#00dbff,#00cbff,#00ddff,#00dcff,#00a4ff,#00d2ff,#00baff,#00ceff,#00acff,#007cff,#00a0ff,#00abff,#00a7ff,#0098ff,#0082ff,#007dff,#007fff,#0077ff,#008aff,#008dff,#0095ff,#008aff,#0081ff,#008bff,#007dff,#0067ff,#008fff,#0074ff,#0077ff,#0092ff,#0086ff,#0089ff)"></i><i style="background:linear-gradient(90deg,#00a2ff,#0091ff,#0088ff,#007cff,#004fff,#0046ff,#0068ff,#00a4ff,#007bff,#0071ff,#0084ff,#008fff,#007eff,#008bff,#007eff,#0074ff,#006aff,#0049ff,#0071ff,#0077ff,#007aff,#0088ff,#0061ff,#005eff,#0087ff,#005bff,#007bff,#007dff,#0085ff,#0069ff,#007eff,#005dff,#0085ff,#0077ff,#006dff,#007dff,#008fff,#0061ff,#0073ff,#0062ff,#008aff,#0082ff,#0064ff,#006fff,#0061ff,#0075ff,#0088ff,#006cff,#007aff,#0053ff,#0096ff,#0063ff,#0078ff,#0073ff,#008dff,#0072ff,#006bff,#005cff,#0091ff,#0055ff,#0094ff,#0096ff,#00a2ff,#006fff,#0072ff,#0086ff,#009aff,#0075ff,#009fff,#007cff,#00a1ff,#0096ff,#009fff,#009bff,#00b0ff,#0080ff,#00bdff,#00a0ff,#00b0ff,#00abff,#00cdff,#00d1ff,#00c3ff,#00c6ff,#00fff6,#00e1ff,#00f9ff,#00ebff,#00ffea,#00ffd8,#00ffd3,#00ffb5,#00ffb8,#00efff,#00ffe1,#00ffe8,#00ffad,#00ffac,#00ffc5,#00ff72,#00ff87,#00ff61,#00ff90,#00ff5b,#00ff4f,#00ff71,#00ff58,#00ff5e,#00ff64,#00ff46,#00ff85,#00ff39,#00ff42,#00ff66,#00ff2d,#00ff77,#00ff5f,#00ff24,#00ff29,#00ff4a,#00ff0e,#00ff43,#00ff3e,#00ff33,#00ff25,#00ff2a,#00ff51,#00ff43,#00ff25,#00ff14,#00ff31,#00ff22,#00ff24,#00ff5c,#00ff46,#00ff05,#00ff45,#00ff30,#00ff6c,#12ff00,#00ff5f,#00ff41,#00ff44,#00ff7d,#00ff66,#00ff46,#00ff79,#00ff58,#00ff7d,#00ff5c,#00ff40,#00ffa2,#00ff8c,#00ffac,#00ffb9,#00ffa9,#00ffa7,#00ffab,#00ffb5,#00faff,#00ffe3,#00ecff,#00ffd8,#00ffd6,#00ffee,#00f2ff,#00fffa,#00fff6,#00fbff,#00daff,#00d7ff,#00eeff,#00ccff,#00c9ff,#00c3ff,#00c8ff,#00baff,#00a2ff,#00a3ff,#009bff,#00a1ff,#00a1ff,#0072ff,#00b0ff,#0078ff,#008dff,#0072ff,#007dff,#0085ff,#008dff,#0086ff,#008dff,#0076ff,#0098ff,#005cff,#007fff,#0080ff,#0070ff,#007dff)"></i><i style="background:linear-gradient(90deg,#006cff,#0086ff,#0075ff,#008aff,#007fff,#0081ff,#007dff,#006dff,#0084ff,#0088ff,#0074ff,#0064ff,#006fff,#008fff,#005cff,#0080ff,#0073ff,#0084ff,#005eff,#007fff,#0067ff,#0087ff,#009bff,#0076ff,#009fff,#007eff,#008cff,#00acff,#0094ff,#0081ff,#004eff,#0067ff,#0080ff,#006bff,#0066ff,#0083ff,#005fff,#0060ff,#0086ff,#00a1ff,#006bff,#007dff,#0082ff,#006bff,#0067ff,#007fff,#0062ff,#0066ff,#0099ff,#0052ff,#00a2ff,#0095ff,#0070ff,#0090ff,#007fff,#0064ff,#006bff,#0069ff,#009dff,#0062ff,#0062ff,#0076ff,#0079ff,#00abff,#007bff,#0077ff,#0079ff,#0078ff,#0065ff,#008dff,#0085ff,#0094ff,#00b6ff,#00b4ff,#00b7ff,#0092ff,#00adff,#00a6ff,#00b0ff,#00b5ff,#00bbff,#00e0ff,#00c4ff,#00fcff,#00f2ff,#00e9ff,#00fdff,#00f2ff,#00faff,#00ffd9,#00ffe9,#00ff76,#00fff2,#00fffa,#00ffa9,#00ffcb,#00ffc3,#00ffc2,#00ffab,#00ffa2,#00ff78,#00ff86,#00ff75,#00ff57,#00ff5d,#00ff6d,#00ff76,#00ff81,#00ff7c,#00ff30,#00ff57,#00ff46,#00ff34,#00ff32,#00ff16,#00ff2d,#00ff44,#00ff53,#00ff27,#00ff32,#00ff2d,#00ff50,#00ff26,#00ff17,#00ff2b,#00ff18,#00ff2d,#00ff35,#00ff0b,#00ff32,#00ff25,#00ff5c,#00ff17,#00ff41,#00ff34,#00ff37,#00ff30,#00ff4b,#00ff5d,#00ff33,#00ff3b,#00ff51,#00ff2d,#00ff2b,#00ff64,#00ff4b,#00ff56,#00ff8d,#00ff95,#00ffae,#00ff4f,#00ff8e,#00ff8f,#00ff82,#00ff6d,#00ff92,#00ff7a,#00ff8b,#00ff56,#00ffd9,#00ffda,#00ffea,#00ffcd,#00fff4,#00ffdb,#00deff,#00ffe5,#00fff2,#00ffe3,#00fbff,#00e9ff,#00e6ff,#00a5ff,#00c0ff,#00ccff,#00e3ff,#00b9ff,#008fff,#00d9ff,#0091ff,#009dff,#0084ff,#004cff,#00a1ff,#0086ff,#009bff,#007bff,#0092ff,#00a6ff,#0091ff,#0080ff,#0070ff,#007cff,#0062ff,#0076ff,#0083ff,#005dff,#005cff,#00a2ff)"></i><i style="background:linear-gradient(90deg,#0076ff,#00a0ff,#0085ff,#0087ff,#007fff,#00a2ff,#0097ff,#0077ff,#0054ff,#0061ff,#0073ff,#0064ff,#0083ff,#0083ff,#007dff,#0087ff,#007eff,#0082ff,#0080ff,#0061ff,#0075ff,#007aff,#008dff,#0070ff,#006dff,#009eff,#0089ff,#0094ff,#009bff,#0075ff,#0089ff,#007bff,#0066ff,#007cff,#0080ff,#0085ff,#0070ff,#006cff,#0063ff,#008bff,#0054ff,#0073ff,#006dff,#006cff,#007aff,#006fff,#004eff,#0049ff,#0050ff,#0060ff,#0073ff,#0075ff,#0076ff,#007aff,#006dff,#0058ff,#006bff,#006dff,#009dff,#008cff,#0067ff,#007cff,#0099ff,#008aff,#0097ff,#008dff,#008cff,#009aff,#0081ff,#0084ff,#008fff,#00b1ff,#00a8ff,#0089ff,#00bfff,#00b4ff,#00c8ff,#00bdff,#00beff,#0097ff,#00cbff,#00a9ff,#00d1ff,#00ffef,#00eeff,#00f5ff,#00efff,#00fff9,#00e6ff,#00fff1,#00ffe0,#00ffd8,#00fff5,#00f7ff,#00ffcd,#00ffc9,#00ffbd,#00ff97,#00ffc6,#00ff78,#00ff9f,#00ff31,#00ff42,#00ff4c,#00ff6e,#00ff4d,#00ff46,#00ff56,#00ff54,#00ff13,#00ff30,#0aff00,#00ff08,#00ff2a,#00ff14,#00ff20,#00ff51,#00ff18,#00ff38,#0cff00,#00ff05,#00ff69,#00ff20,#00ff3a,#13ff00,#00ff1d,#00ff12,#00ff0f,#00ff40,#00ff1d,#08ff00,#00ff39,#00ff13,#00ff2f,#21ff00,#14ff00,#00ff25,#00ff30,#00ff1c,#00ff2f,#00ff34,#00ff46,#03ff00,#06ff00,#00ff37,#00ff75,#00ff7b,#00ff50,#00ff7e,#00ff79,#00ff64,#00ff7d,#00ff5c,#00ffa6,#00ff87,#00ffb4,#00ff97,#00ffd9,#00ffb2,#00ff9d,#00ffd4,#00ffc7,#00ffe3,#00ffd7,#00ffeb,#00ffe3,#00f2ff,#00fffe,#00fff0,#00e7ff,#00feff,#00f7ff,#00d9ff,#00a7ff,#00ecff,#00a9ff,#00b7ff,#00bbff,#00d5ff,#00aaff,#008eff,#00a7ff,#00b9ff,#007fff,#009dff,#008cff,#008eff,#0082ff,#0090ff,#0091ff,#00b1ff,#0057ff,#009dff,#007cff,#0065ff,#005fff,#0094ff,#005dff,#00a2ff)"></i><i style="background:linear-gradient(90deg,#005dff,#0084ff,#0068ff,#0060ff,#0072ff,#00a8ff,#0081ff,#007fff,#008bff,#0091ff,#0066ff,#0081ff,#007aff,#0071ff,#0050ff,#0091ff,#008cff,#0074ff,#00c6ff,#0061ff,#0077ff,#007fff,#006dff,#0079ff,#0098ff,#0067ff,#004fff,#006dff,#0069ff,#006bff,#006cff,#007cff,#00a7ff,#0080ff,#00a7ff,#0077ff,#0069ff,#0050ff,#007bff,#0088ff,#00abff,#0051ff,#0066ff,#006bff,#0073ff,#0074ff,#0062ff,#0071ff,#005eff,#005eff,#007bff,#0091ff,#006cff,#004eff,#006aff,#0076ff,#0077ff,#008fff,#0069ff,#0077ff,#006dff,#009eff,#0086ff,#007cff,#0076ff,#0097ff,#006eff,#00a5ff,#00aaff,#009fff,#009cff,#009dff,#00b2ff,#009fff,#00c0ff,#008fff,#00cfff,#00b8ff,#00d9ff,#00cdff,#00c1ff,#00caff,#00ceff,#00f8ff,#00c6ff,#00d0ff,#00ffed,#00fff1,#00f2ff,#00ffdd,#00feff,#00ffd0,#00fff1,#00ffb0,#00ffb3,#00ffa5,#00ffde,#00ffb2,#00ffb9,#00ff85,#00ff79,#00ff98,#00ff69,#00ff58,#00ff42,#00ff45,#00ff37,#00ff17,#00ff62,#00ff06,#00ff52,#00ff26,#00ff35,#00ff18,#00ff23,#0cff00,#00ff50,#06ff00,#00ff0b,#13ff00,#00ff20,#10ff00,#00ff0e,#00ff01,#00ff0b,#03ff00,#16ff00,#00ff1b,#00ff57,#00ff11,#02ff00,#00ff30,#00ff29,#00ff4b,#00ff08,#00ff39,#00ff03,#01ff00,#1cff00,#02ff00,#00ff05,#00ff22,#11ff00,#00ff6b,#00ff5d,#00ff11,#00ff5c,#00ff6f,#00ff6b,#00ff3c,#00ff3b,#00ff53,#00ff7d,#00ff7e,#00ff6b,#00ff93,#00ff84,#00ffc1,#00ff84,#00ffa5,#00ffba,#00ffd2,#00f7ff,#00ffb2,#00ffe8,#00ffe5,#00fff1,#00ffdf,#00fffe,#00ffd7,#00fff7,#00e2ff,#00d8ff,#00fff4,#00c1ff,#00b4ff,#00a4ff,#00baff,#00b2ff,#00c2ff,#008dff,#007eff,#00c1ff,#0059ff,#0092ff,#0067ff,#0093ff,#0075ff,#0092ff,#0079ff,#0085ff,#005eff,#007bff,#0080ff,#007bff,#008dff,#0090ff,#00aeff,#0062ff)"></i><i style="background:linear-gradient(90deg,#007fff,#0077ff,#0084ff,#0095ff,#00a5ff,#00a2ff,#0066ff,#0062ff,#0066ff,#0076ff,#0055ff,#0070ff,#0057ff,#006dff,#0073ff,#0091ff,#007aff,#0072ff,#008aff,#0066ff,#0090ff,#0077ff,#0083ff,#0072ff,#007bff,#006dff,#0065ff,#0076ff,#0086ff,#005eff,#0077ff,#0091ff,#0078ff,#0091ff,#008dff,#0060ff,#006aff,#0091ff,#0093ff,#0081ff,#0080ff,#0046ff,#0073ff,#0054ff,#0073ff,#0076ff,#0075ff,#0080ff,#0077ff,#005cff,#0073ff,#0090ff,#00a6ff,#005fff,#007cff,#0091ff,#0085ff,#007dff,#0093ff,#00a4ff,#007fff,#0070ff,#0065ff,#0091ff,#00a4ff,#0088ff,#0089ff,#0090ff,#00c0ff,#0087ff,#00a9ff,#0091ff,#00b6ff,#00b7ff,#00cbff,#00acff,#00a8ff,#00b4ff,#00b1ff,#00e2ff,#00cfff,#00b0ff,#00e6ff,#00e0ff,#00c1ff,#00ecff,#00fffc,#00fbff,#00ffff,#00fbff,#00fff9,#00ff9a,#00ffe2,#00ffa5,#00ff97,#00ffa2,#00ffd2,#00ff6e,#00ff90,#00ff32,#00ff73,#00ff82,#00ff34,#00ff4f,#00ff37,#00ff1a,#00ff4a,#00ff50,#00ff2b,#04ff00,#00ff21,#00ff1e,#18ff00,#10ff00,#00ff04,#3bff00,#00ff1c,#00ff05,#00ff29,#0dff00,#1bff00,#00ff0a,#00ff33,#02ff00,#00ff0e,#0bff00,#00ff2f,#03ff00,#00ff25,#0dff00,#00ff07,#00ff10,#00ff0c,#05ff00,#2aff00,#00ff19,#00ff09,#00ff2c,#00ff13,#00ff42,#00ff21,#10ff00,#00ff17,#00ff3c,#00ff3b,#00ff48,#00ff28,#00ff4c,#00ff59,#00ff14,#00ff2e,#00ff4c,#00ff76,#00ff45,#00ff34,#00ff79,#00ff79,#00ff83,#00ff69,#00ff90,#00ffa2,#00ffbf,#00ffd5,#00ffb7,#00ffca,#00ffe0,#00fffd,#00ffec,#00f8ff,#00fff6,#00ffef,#00fff7,#00fff6,#00bcff,#00efff,#00b0ff,#00c9ff,#00bbff,#00c3ff,#009aff,#00b2ff,#007bff,#00b9ff,#007eff,#00c1ff,#0081ff,#0086ff,#0080ff,#008eff,#007dff,#0077ff,#006eff,#0078ff,#0094ff,#0070ff,#007cff,#006eff,#0078ff,#0080ff)"></i><i style="background:linear-gradient(90deg,#007eff,#0062ff,#0085ff,#0079ff,#0085ff,#00acff,#0078ff,#0053ff,#008eff,#0065ff,#0068ff,#006aff,#0080ff,#0059ff,#0069ff,#0069ff,#0085ff,#007aff,#0077ff,#0074ff,#0062ff,#0062ff,#0088ff,#006bff,#0076ff,#006aff,#005aff,#005bff,#0084ff,#00a0ff,#0079ff,#009aff,#0074ff,#0078ff,#0083ff,#005fff,#0072ff,#0071ff,#0081ff,#004eff,#008bff,#008bff,#007eff,#007dff,#0074ff,#0070ff,#007bff,#005dff,#0066ff,#0069ff,#00a1ff,#0077ff,#00a1ff,#0064ff,#0033ff,#0073ff,#007eff,#009bff,#006dff,#0087ff,#006aff,#0082ff,#008aff,#0070ff,#009fff,#0094ff,#0078ff,#00a3ff,#0088ff,#00a1ff,#008fff,#008cff,#00bfff,#00d2ff,#00c6ff,#00c2ff,#00b1ff,#00f0ff,#00cbff,#00daff,#00c8ff,#00bfff,#00f1ff,#00faff,#00dcff,#00f0ff,#00fff8,#00fff0,#00f8ff,#00faff,#00ffe2,#00ffba,#00ffaa,#00ffb6,#00ff72,#00ffba,#00ffa0,#00ff79,#00ff70,#00ff59,#00ff78,#00ff72,#00ff73,#00ff2b,#00ff4b,#00ff2a,#00ff0f,#00ff21,#00ff47,#00ff1f,#00ff06,#2bff00,#0aff00,#00ff1a,#65ff00,#22ff00,#0eff00,#00ff21,#00ff2f,#00ff03,#08ff00,#00ff14,#0eff00,#00ff07,#00ff2e,#36ff00,#00ff37,#22ff00,#00ff15,#00ff4a,#00ff1f,#23ff00,#00ff30,#00ff19,#26ff00,#00ff29,#0bff00,#00ff3e,#00ff1a,#00ff21,#00ff1f,#00ff27,#09ff00,#00ff51,#00ff08,#00ff30,#00ff4c,#00ff29,#00ff28,#00ff42,#00ff50,#00ff1a,#00ff55,#00ff7e,#00ff31,#00ff59,#00ff83,#00ffa2,#00ff73,#00ffa3,#00ffad,#00ffbe,#00ffdd,#00ff8c,#00ffbb,#00ffba,#00ffee,#00ffc8,#00c4ff,#00f3ff,#00bcff,#00feff,#00ffff,#00ebff,#00bcff,#00cdff,#00c1ff,#00c8ff,#00d2ff,#009fff,#00bfff,#00b1ff,#00b2ff,#0086ff,#0089ff,#0085ff,#0076ff,#0077ff,#0072ff,#0087ff,#0070ff,#0088ff,#0073ff,#00a2ff,#007cff,#0076ff,#005fff,#008aff,#0094ff)"></i><i style="background:linear-gradient(90deg,#0075ff,#0087ff,#009fff,#0068ff,#008aff,#0079ff,#0076ff,#0064ff,#0078ff,#007aff,#0087ff,#006cff,#0076ff,#00a0ff,#007dff,#0085ff,#007fff,#0065ff,#0079ff,#007cff,#0058ff,#009fff,#0071ff,#006cff,#007eff,#0086ff,#0089ff,#007bff,#0098ff,#008bff,#007dff,#008aff,#0074ff,#0076ff,#0085ff,#0069ff,#006bff,#007aff,#0076ff,#0072ff,#006bff,#0099ff,#0076ff,#008bff,#0085ff,#0062ff,#007cff,#0080ff,#008eff,#0059ff,#0062ff,#008aff,#0067ff,#0064ff,#0081ff,#0079ff,#008eff,#0055ff,#008bff,#0090ff,#0072ff,#0072ff,#0098ff,#006cff,#00baff,#00a1ff,#006fff,#0090ff,#009aff,#00aaff,#0091ff,#00a3ff,#00a0ff,#00a4ff,#00a5ff,#00c4ff,#00bcff,#00d2ff,#00d2ff,#00d4ff,#00fffd,#00f5ff,#00f9ff,#00deff,#00ffe7,#00fff5,#00fff1,#00fffa,#00ffeb,#00ffac,#00ffb7,#00ffc0,#00ffab,#00ffb2,#00ff84,#00ff9e,#00ff98,#00ff4f,#00ff6c,#00ff45,#00ff6b,#00ff59,#00ff2d,#00ff2c,#00ff2d,#00ff26,#00ff58,#00ff0b,#00ff12,#00ff3d,#14ff00,#23ff00,#3fff00,#01ff00,#22ff00,#00ff2c,#55ff00,#05ff00,#12ff00,#05ff00,#00ff10,#00ff23,#1fff00,#00ff21,#1fff00,#02ff00,#1dff00,#0cff00,#00ff02,#00ff0c,#1eff00,#24ff00,#29ff00,#00ff23,#00ff05,#00ff04,#2aff00,#00ff0c,#00ff40,#00ff21,#00ff52,#16ff00,#00ff0b,#00ff0d,#00ff70,#00ff31,#00ff51,#00ff2e,#00ff17,#00ff61,#00ff1f,#00ff4c,#00ff44,#00ff69,#00ff5d,#00ff4e,#00ffbe,#00ff72,#00ff79,#00ff7a,#00ff8e,#00ffb6,#00ffbf,#00ffd8,#00ffb5,#00ffbb,#00fff2,#00fff6,#00fffb,#00fffc,#00fffe,#00ffe6,#00e0ff,#00e4ff,#00ddff,#00e2ff,#00adff,#00cfff,#00b6ff,#008dff,#00cbff,#0098ff,#0090ff,#008cff,#0098ff,#0092ff,#00a9ff,#0096ff,#0071ff,#0081ff,#0056ff,#0068ff,#0079ff,#0085ff,#0082ff,#0066ff,#0072ff,#0076ff,#0081ff)"></i><i style="background:linear-gradient(90deg,#0086ff,#0077ff,#008fff,#005fff,#007bff,#006fff,#0073ff,#00adff,#0074ff,#0092ff,#0077ff,#006bff,#008eff,#0060ff,#006eff,#0079ff,#005fff,#0099ff,#0072ff,#0080ff,#0062ff,#007cff,#0078ff,#0091ff,#0071ff,#006bff,#008cff,#0072ff,#0062ff,#007aff,#007cff,#008dff,#0089ff,#008dff,#0095ff,#0065ff,#0080ff,#0075ff,#006aff,#0077ff,#005dff,#0072ff,#0060ff,#007eff,#007bff,#004fff,#007eff,#0071ff,#0088ff,#008cff,#0068ff,#0073ff,#006cff,#0090ff,#0092ff,#00a0ff,#0079ff,#0087ff,#0080ff,#008dff,#007aff,#0073ff,#00a2ff,#006dff,#0098ff,#00bfff,#0077ff,#008dff,#009dff,#0075ff,#00a2ff,#0083ff,#007eff,#00aaff,#0098ff,#00c8ff,#00cdff,#00d8ff,#00b8ff,#00bcff,#00e1ff,#00bbff,#00f9ff,#00fff6,#00ffdd,#00fff9,#00f6ff,#00ffce,#00fff7,#00ffbc,#00ffc6,#00fff1,#00ffb4,#00ff98,#00ff83,#00ff80,#00ffad,#00ff65,#00ff7c,#00ff6a,#00ff3d,#00ff67,#00ff17,#00ff23,#00ff5d,#00ff3a,#00ff3c,#00ff26,#00ff05,#16ff00,#32ff00,#00ff02,#21ff00,#00ff0a,#07ff00,#02ff00,#36ff00,#00ff17,#05ff00,#00ff13,#1dff00,#21ff00,#2dff00,#00ff2f,#04ff00,#0bff00,#25ff00,#00ff02,#2cff00,#2aff00,#18ff00,#00ff41,#00ff1c,#2aff00,#02ff00,#00ff27,#00ff2b,#00ff0b,#00ff05,#00ff47,#00ff1b,#14ff00,#12ff00,#00ff23,#00ff4e,#00ff19,#00ff4c,#00ff0a,#00ff26,#00ff76,#00ff49,#00ff61,#00ff90,#00ff34,#00ff63,#00ff72,#00ff76,#00ff85,#00ff99,#00ff84,#00ffa6,#00ff8e,#00ffca,#00ffcc,#00ff95,#00ffc6,#00ffdb,#00ffb6,#00ffe3,#00efff,#00fcff,#00ffee,#00fffd,#00d0ff,#00e5ff,#00cbff,#00ceff,#00c3ff,#00caff,#00b1ff,#00cbff,#009bff,#00adff,#0082ff,#007aff,#0099ff,#007fff,#0082ff,#0076ff,#009dff,#0087ff,#0089ff,#0067ff,#0071ff,#006dff,#0076ff,#0083ff,#0078ff,#0065ff)"></i><i style="background:linear-gradient(90deg,#00a0ff,#0090ff,#0067ff,#0064ff,#007eff,#0074ff,#007eff,#0077ff,#0061ff,#0072ff,#006eff,#0076ff,#0072ff,#0041ff,#0067ff,#0096ff,#0070ff,#009fff,#0072ff,#005bff,#006bff,#0084ff,#007cff,#008eff,#007eff,#0088ff,#0075ff,#005cff,#008dff,#008eff,#007dff,#005aff,#0077ff,#008eff,#0071ff,#006dff,#0064ff,#008aff,#008fff,#0071ff,#008cff,#007eff,#00a7ff,#007bff,#0054ff,#0061ff,#008cff,#0067ff,#0051ff,#0098ff,#006bff,#005cff,#0087ff,#0062ff,#0092ff,#00afff,#0081ff,#0071ff,#006bff,#006dff,#00b2ff,#0084ff,#008dff,#007dff,#0070ff,#009cff,#0086ff,#0096ff,#0083ff,#0089ff,#0093ff,#0078ff,#0099ff,#00baff,#0097ff,#00acff,#00aeff,#00e7ff,#00cdff,#009bff,#00e9ff,#00fff7,#00fff0,#00ffdc,#00ffe6,#00ffe0,#00ffeb,#00ffe8,#00ffce,#00ff9c,#00ff95,#00ffb8,#00ffba,#00ff70,#00ff80,#00ff9a,#00ff70,#00ff6c,#00ff85,#00ff71,#00ff6e,#00ff1f,#00ff30,#00ff15,#00ff1d,#00ff1a,#00ff14,#00ff17,#00ff35,#00ff06,#04ff00,#00ff0b,#0dff00,#04ff00,#17ff00,#13ff00,#3fff00,#48ff00,#40ff00,#1cff00,#00ff01,#2dff00,#17ff00,#0bff00,#2eff00,#32ff00,#29ff00,#66ff00,#2eff00,#1cff00,#3aff00,#2fff00,#0bff00,#2dff00,#00ff05,#00ff1b,#00ff0a,#23ff00,#00ff15,#00ff3f,#00ff1d,#0fff00,#0fff00,#00ff0d,#00ff11,#00ff09,#07ff00,#00ff17,#00ff50,#00ff10,#00ff22,#00ff68,#00ff83,#00ff61,#00ff2e,#00ff4f,#00ffad,#00ff7c,#00ff77,#00ff92,#00ff7f,#00ffcf,#00ffa0,#00ffa2,#00ffa6,#00ffc7,#00ffad,#00ffe6,#00ffc9,#00ffea,#00ffdb,#00ffc2,#00f4ff,#00e4ff,#00f0ff,#00ccff,#00d9ff,#00e9ff,#00c4ff,#00d1ff,#00caff,#0073ff,#0083ff,#00a7ff,#00b7ff,#009cff,#008fff,#007cff,#008eff,#0087ff,#009dff,#00a6ff,#0084ff,#004aff,#0079ff,#008dff,#007bff,#009bff,#0069ff)"></i><i style="background:linear-gradient(90deg,#005aff,#008fff,#006eff,#0064ff,#0074ff,#0065ff,#0071ff,#0069ff,#006eff,#008fff,#0068ff,#0084ff,#0088ff,#006bff,#005fff,#008cff,#0090ff,#0077ff,#0071ff,#0075ff,#007cff,#007cff,#0074ff,#008bff,#0086ff,#0077ff,#0097ff,#008dff,#00a4ff,#007aff,#009cff,#0073ff,#0074ff,#007cff,#0059ff,#008bff,#0088ff,#006cff,#0079ff,#0097ff,#0078ff,#0076ff,#008cff,#0075ff,#0061ff,#006dff,#005bff,#006bff,#0072ff,#0074ff,#0070ff,#004fff,#007cff,#0088ff,#0074ff,#006dff,#008dff,#0067ff,#008aff,#0066ff,#006bff,#0071ff,#009bff,#009cff,#006aff,#009aff,#00a0ff,#006eff,#008cff,#008dff,#00bcff,#008dff,#0077ff,#0092ff,#00bcff,#00a1ff,#00d7ff,#00d9ff,#00e4ff,#00c2ff,#00eeff,#00dcff,#00f2ff,#00f6ff,#00ffea,#00fff4,#00ffba,#00fffe,#00ffd3,#00ffb6,#00ffbf,#00ff7c,#00ffa1,#00ff77,#00ff78,#00ff7c,#00ff97,#00ff8e,#00ff82,#00ff5b,#00ff4b,#00ff1c,#00ff62,#00ff48,#00ff01,#1aff00,#00ff0b,#00ff07,#36ff00,#02ff00,#06ff00,#2bff00,#3bff00,#01ff00,#45ff00,#15ff00,#40ff00,#33ff00,#01ff00,#38ff00,#1eff00,#23ff00,#20ff00,#35ff00,#18ff00,#1eff00,#20ff00,#5dff00,#2aff00,#10ff00,#64ff00,#3aff00,#15ff00,#00ff05,#0dff00,#43ff00,#00ff03,#00ff0e,#00ff10,#1cff00,#24ff00,#0fff00,#0aff00,#00ff36,#00ff0a,#00ff54,#00ff18,#00ff6c,#00ff76,#00ff44,#00ff44,#00ff39,#00ff6c,#00ff2f,#00ff8b,#00ff55,#00ff6e,#00ff86,#00ff9c,#00ff7b,#00ff82,#00ffb0,#00ff83,#00ff5a,#00ffc4,#00ff8e,#00ff95,#00ffc1,#00ffa8,#00ffb5,#00ffd2,#00ffca,#00faff,#00e7ff,#00e6ff,#00e9ff,#00ffe3,#00b0ff,#00e8ff,#00beff,#00d7ff,#00d4ff,#00a4ff,#00baff,#00c6ff,#0099ff,#0080ff,#008fff,#00a4ff,#008aff,#0079ff,#00a1ff,#007cff,#0063ff,#0060ff,#006eff,#008cff,#007eff,#0080ff)"></i><i style="background:linear-gradient(90deg,#006dff,#0078ff,#0096ff,#007eff,#007aff,#0084ff,#0063ff,#0068ff,#005bff,#0081ff,#008bff,#008bff,#0086ff,#005eff,#0073ff,#009bff,#008aff,#009cff,#0088ff,#00a3ff,#006fff,#0058ff,#005bff,#0065ff,#0075ff,#0070ff,#0086ff,#007eff,#008eff,#009dff,#007cff,#004fff,#0086ff,#0090ff,#0093ff,#0087ff,#0085ff,#0082ff,#0091ff,#009dff,#0051ff,#0077ff,#0084ff,#0068ff,#008cff,#008bff,#008aff,#008bff,#007eff,#0079ff,#007dff,#0079ff,#007fff,#0089ff,#006eff,#0077ff,#007eff,#0066ff,#007eff,#007bff,#0066ff,#0082ff,#0083ff,#005bff,#007cff,#007dff,#0074ff,#0080ff,#00abff,#00c0ff,#009fff,#00a0ff,#008fff,#0091ff,#00adff,#00b0ff,#00d6ff,#00f8ff,#00c7ff,#00cfff,#00fbff,#00cfff,#00ffd4,#00ffea,#00ffec,#00ffde,#00ffd2,#00ffe2,#00ffc9,#00ffa9,#00ffa9,#00ffc9,#00ffb3,#00ff94,#00ff9f,#00ff71,#00ff91,#00ff72,#00ff56,#00ff58,#00ff3a,#00ff53,#00ff2c,#08ff00,#03ff00,#37ff00,#00ff38,#04ff00,#0dff00,#25ff00,#2dff00,#00ff02,#28ff00,#00ff00,#13ff00,#18ff00,#27ff00,#00ff0a,#51ff00,#0cff00,#3bff00,#4bff00,#47ff00,#65ff00,#30ff00,#44ff00,#38ff00,#59ff00,#0fff00,#36ff00,#5eff00,#84ff00,#56ff00,#00ff07,#0bff00,#43ff00,#07ff00,#00ff0e,#21ff00,#0dff00,#02ff00,#1eff00,#00ff38,#00ff4a,#0eff00,#00ff53,#00ff33,#00ff45,#00ff3a,#00ff58,#00ff3d,#00ff26,#00ff41,#00ff56,#00ff75,#00ff49,#00ffad,#00ffb5,#00ff85,#00ff8a,#00ff6a,#00ff7b,#00ffc3,#00ffb1,#00ffd6,#00ff9a,#00ffcf,#00ffcb,#00ffca,#00ffa9,#00ffc9,#00fffb,#00ffe6,#00ffdb,#00e0ff,#00e8ff,#00ffd4,#00fffb,#00eeff,#00d6ff,#00d2ff,#00b6ff,#0090ff,#00d7ff,#00b0ff,#008dff,#00b0ff,#0084ff,#00b6ff,#0099ff,#008dff,#006bff,#0089ff,#009dff,#008dff,#0074ff,#007eff,#0075ff,#0081ff)"></i><i style="background:linear-gradient(90deg,#007eff,#0072ff,#008fff,#0088ff,#007aff,#007cff,#0074ff,#006fff,#0063ff,#006aff,#0077ff,#009eff,#0064ff,#0067ff,#007cff,#008bff,#0074ff,#006dff,#005fff,#0073ff,#0084ff,#007cff,#007fff,#0083ff,#0086ff,#0076ff,#0058ff,#0091ff,#0096ff,#0086ff,#004cff,#005eff,#009aff,#00a2ff,#0073ff,#007bff,#0065ff,#0087ff,#0079ff,#0067ff,#0051ff,#0089ff,#006aff,#0079ff,#00a0ff,#0081ff,#00a4ff,#00a5ff,#008bff,#0091ff,#0082ff,#0078ff,#0058ff,#0094ff,#0074ff,#0072ff,#008cff,#005dff,#0078ff,#008bff,#0062ff,#0081ff,#0074ff,#0073ff,#007aff,#0067ff,#008cff,#0095ff,#0087ff,#008aff,#0085ff,#009fff,#00a6ff,#00caff,#00dfff,#00c0ff,#00cfff,#00b1ff,#009bff,#00d4ff,#00e4ff,#00e5ff,#00dfff,#00e9ff,#00f3ff,#00ffe1,#00ffeb,#00ffd5,#00ffbf,#00ff99,#00ffc6,#00ffd9,#00ffc8,#00ff99,#00ff90,#00ff64,#00ff51,#00ff85,#00ff62,#00ff33,#00ff38,#06ff00,#00ff29,#00ff07,#00ff50,#00ff23,#24ff00,#3eff00,#16ff00,#00ff25,#1dff00,#2fff00,#2eff00,#21ff00,#20ff00,#1cff00,#43ff00,#2cff00,#64ff00,#50ff00,#34ff00,#3bff00,#52ff00,#6eff00,#49ff00,#64ff00,#5dff00,#3cff00,#31ff00,#5cff00,#54ff00,#42ff00,#3fff00,#00ff07,#0eff00,#16ff00,#46ff00,#12ff00,#12ff00,#00ff3e,#00ff0c,#03ff00,#00ff09,#00ff08,#00ff37,#00ff1e,#00ff1d,#34ff00,#00ff09,#00ff3f,#00ff28,#00ff39,#00ff54,#00ff4f,#00ff3f,#00ff48,#00ff3e,#00ff9e,#00ff71,#00ff5c,#00ffab,#00ffa2,#00ff77,#00ffa2,#00ff94,#00ffaf,#00ffaf,#00ffbc,#00ffca,#00ffc5,#00ffe6,#00fff1,#00ffd2,#00fff1,#00ffe1,#00e6ff,#00ffde,#00c3ff,#00fff6,#00d6ff,#00d6ff,#00beff,#0098ff,#00abff,#00c1ff,#00a5ff,#00c1ff,#0096ff,#0092ff,#00a8ff,#008cff,#008bff,#009bff,#009eff,#00aaff,#0088ff,#006cff,#005fff,#0071ff)"></i><i style="background:linear-gradient(90deg,#0066ff,#009bff,#007dff,#006eff,#0069ff,#008aff,#006aff,#005bff,#0091ff,#0083ff,#00a2ff,#0080ff,#009bff,#0078ff,#0077ff,#007aff,#0051ff,#0088ff,#0084ff,#0067ff,#0078ff,#006eff,#005bff,#008dff,#006fff,#006bff,#0065ff,#006cff,#0061ff,#0095ff,#0077ff,#0075ff,#0041ff,#009fff,#0089ff,#0057ff,#006fff,#005eff,#0087ff,#006aff,#008aff,#0085ff,#0082ff,#0062ff,#0084ff,#0068ff,#0075ff,#0070ff,#005dff,#008eff,#0075ff,#0080ff,#0064ff,#006dff,#0077ff,#0067ff,#0085ff,#0090ff,#0072ff,#007dff,#009dff,#007eff,#0071ff,#0075ff,#0093ff,#00aeff,#0087ff,#0092ff,#00a2ff,#008cff,#009eff,#00b8ff,#00a9ff,#00c0ff,#00b6ff,#00d2ff,#00c0ff,#00f4ff,#00cdff,#00bbff,#00e8ff,#00fffe,#00f1ff,#00ffed,#00ffe8,#00ffed,#00ffce,#00f3ff,#00ff96,#00ffa4,#00ffc8,#00ffbc,#00ff88,#00ff62,#00ff60,#00ff81,#00ff9f,#00ff73,#00ff58,#00ff3a,#00ff5b,#00ff3d,#00ff1f,#00ff1f,#00ff24,#05ff00,#34ff00,#33ff00,#61ff00,#00ff13,#02ff00,#1bff00,#52ff00,#49ff00,#05ff00,#00ff08,#60ff00,#49ff00,#68ff00,#53ff00,#7cff00,#71ff00,#81ff00,#4fff00,#70ff00,#45ff00,#87ff00,#34ff00,#62ff00,#3aff00,#2eff00,#59ff00,#6bff00,#41ff00,#3bff00,#0fff00,#3dff00,#2dff00,#27ff00,#3dff00,#00ff17,#0aff00,#01ff00,#58ff00,#00ff2f,#00ff14,#08ff00,#0dff00,#00ff29,#00ff32,#00ff4a,#00ff2f,#00ff60,#00ff53,#00ff38,#00ff3a,#01ff00,#00ff88,#00ff7a,#00ff78,#00ff5c,#00ff5d,#00ff9f,#00ff84,#00ffba,#00ff9b,#00ffa5,#00ffb5,#00ffb5,#00ff96,#00ffc5,#00fffc,#00ffd6,#00ffec,#00ffc9,#00ffe5,#00fff5,#00f8ff,#00faff,#00d1ff,#00d9ff,#00ccff,#0091ff,#0093ff,#00d0ff,#00c1ff,#0089ff,#00adff,#0096ff,#0081ff,#0097ff,#0091ff,#0086ff,#0069ff,#007aff,#007eff,#0079ff,#007dff,#0066ff)"></i><i style="background:linear-gradient(90deg,#009eff,#006dff,#0097ff,#0056ff,#0096ff,#0078ff,#0073ff,#0052ff,#0085ff,#006cff,#0094ff,#0091ff,#009aff,#009bff,#006dff,#008aff,#0083ff,#0089ff,#008cff,#0090ff,#006eff,#0062ff,#007fff,#00abff,#007aff,#0090ff,#006eff,#0095ff,#0079ff,#008cff,#006eff,#008fff,#008eff,#0095ff,#0081ff,#0057ff,#007bff,#0068ff,#0068ff,#006aff,#006fff,#0093ff,#0083ff,#00b6ff,#007eff,#0076ff,#008fff,#006bff,#007aff,#0071ff,#007dff,#0087ff,#0064ff,#0074ff,#0061ff,#0064ff,#0066ff,#007bff,#0093ff,#0082ff,#0047ff,#0081ff,#0071ff,#00a8ff,#007bff,#0078ff,#0082ff,#00b3ff,#009bff,#00aaff,#00b9ff,#00b9ff,#00bbff,#00daff,#0087ff,#00c8ff,#00afff,#00cbff,#00edff,#00dcff,#00f4ff,#00f4ff,#00ffe3,#00ffd5,#00e6ff,#00ffea,#00ffdb,#00ffac,#00ff9b,#00ffa5,#00ff82,#00ff82,#00ff77,#00ff91,#00ff51,#00ff75,#00ff7a,#00ff21,#00ff34,#11ff00,#00ff56,#00ff0c,#00ff09,#00ff17,#05ff00,#09ff00,#00ff07,#11ff00,#0cff00,#12ff00,#36ff00,#4cff00,#0bff00,#22ff00,#00ff02,#48ff00,#85ff00,#4cff00,#38ff00,#2eff00,#4cff00,#42ff00,#9cff00,#70ff00,#5cff00,#78ff00,#9bff00,#82ff00,#88ff00,#5aff00,#93ff00,#55ff00,#6dff00,#1fff00,#4aff00,#34ff00,#2dff00,#55ff00,#30ff00,#40ff00,#15ff00,#26ff00,#00ff03,#2cff00,#00ff08,#00ff0f,#09ff00,#22ff00,#00ff34,#00ff4e,#00ff39,#00ff35,#00ff45,#00ff3c,#00ff27,#00ff0f,#00ff72,#00ff4b,#00ff6b,#00ff3a,#00ff8a,#00ff7c,#00ff6e,#00ff64,#00ff9a,#00ffc6,#00ff93,#00ffaa,#00ffc9,#00ffba,#00ffc3,#00ffeb,#00ffcd,#00ffe1,#00ffc4,#00fffa,#00ddff,#00fbff,#00eeff,#00f4ff,#00b6ff,#00beff,#00dbff,#00c0ff,#00d1ff,#00c9ff,#00a0ff,#00a0ff,#0086ff,#00a0ff,#0093ff,#0084ff,#0076ff,#008aff,#0083ff,#0079ff,#0080ff,#0089ff,#005dff)"></i><i style="background:linear-gradient(90deg,#0067ff,#006eff,#0092ff,#005bff,#008fff,#0083ff,#0072ff,#006fff,#0076ff,#008cff,#007bff,#008aff,#0066ff,#008bff,#007dff,#0084ff,#0060ff,#00aaff,#0073ff,#0056ff,#008bff,#007dff,#0067ff,#0066ff,#0095ff,#0083ff,#006aff,#005cff,#007eff,#00a4ff,#0076ff,#0078ff,#006aff,#0078ff,#0061ff,#0068ff,#007aff,#0076ff,#0081ff,#008cff,#0059ff,#006bff,#0066ff,#0084ff,#0075ff,#006bff,#0094ff,#006cff,#006cff,#0099ff,#0080ff,#0081ff,#007aff,#007eff,#0072ff,#008eff,#007cff,#009eff,#00aaff,#007dff,#0061ff,#0093ff,#009bff,#007eff,#008bff,#0090ff,#00a5ff,#009eff,#00bcff,#00aaff,#00c1ff,#00aaff,#00b0ff,#00d3ff,#00c1ff,#00b1ff,#00dfff,#00d3ff,#00fff9,#00f7ff,#00dfff,#00f1ff,#00f8ff,#00ffe3,#00f1ff,#00f8ff,#00ffcd,#00ffc2,#00ff98,#00ff9b,#00ff70,#00ff6e,#00ff55,#00ff76,#00ff99,#00ff74,#00ff92,#00ff2d,#00ff0a,#00ff2f,#00ff4a,#00ff02,#09ff00,#00ff0b,#10ff00,#16ff00,#0dff00,#29ff00,#41ff00,#21ff00,#0cff00,#47ff00,#6bff00,#30ff00,#59ff00,#6aff00,#74ff00,#66ff00,#79ff00,#4aff00,#49ff00,#4aff00,#45ff00,#7aff00,#79ff00,#52ff00,#c3ff00,#72ff00,#67ff00,#95ff00,#a1ff00,#21ff00,#01ff00,#8dff00,#62ff00,#36ff00,#13ff00,#73ff00,#76ff00,#4cff00,#53ff00,#00ff13,#25ff00,#0cff00,#16ff00,#00ff0b,#00ff07,#00ff15,#00ff26,#00ff1d,#00ff29,#00ff20,#00ff32,#00ff16,#00ff23,#00ff24,#00ff43,#00ff68,#00ff6a,#00ff4e,#00ff63,#00ff59,#00ff64,#00ff65,#00ff74,#00ff88,#00ff9c,#00ffa2,#00ffc8,#00ffdb,#00ff9e,#00fff0,#00ffe1,#00ffee,#00ffea,#00fff2,#00d7ff,#00ffd8,#00ffd5,#00daff,#00b4ff,#00e0ff,#00d0ff,#00c9ff,#009dff,#009bff,#009eff,#0071ff,#007eff,#00a8ff,#0093ff,#008cff,#0069ff,#006bff,#007dff,#008cff,#006cff,#007dff,#0061ff)"></i><i style="background:linear-gradient(90deg,#005eff,#0067ff,#0072ff,#007cff,#006dff,#0049ff,#0065ff,#006bff,#007eff,#0077ff,#005fff,#0087ff,#0062ff,#0074ff,#0076ff,#0078ff,#0085ff,#007aff,#0085ff,#007aff,#008aff,#008dff,#0054ff,#007cff,#0067ff,#0061ff,#006fff,#0070ff,#0065ff,#0064ff,#007fff,#0060ff,#0097ff,#006eff,#005cff,#0063ff,#008bff,#005eff,#0082ff,#00baff,#006bff,#005fff,#007dff,#00acff,#0083ff,#007cff,#0081ff,#005bff,#0069ff,#0085ff,#0079ff,#009aff,#006cff,#0064ff,#005dff,#00abff,#009eff,#007cff,#0093ff,#009dff,#0086ff,#0094ff,#006cff,#0063ff,#009cff,#0085ff,#00b3ff,#0089ff,#00bdff,#009aff,#00a0ff,#00aaff,#00acff,#00b2ff,#00c8ff,#00bcff,#00c1ff,#00bdff,#00d2ff,#00cbff,#00f0ff,#00e1ff,#00eaff,#00fff7,#00ffea,#00ffca,#00ffd3,#00ffc6,#00ffbd,#00ffac,#00ffa5,#00ff69,#00ff85,#00ffa2,#00ff78,#00ff55,#00ff39,#00ff37,#00ff0e,#00ff56,#0dff00,#00ff16,#00ff05,#11ff00,#00ff3d,#3cff00,#07ff00,#41ff00,#3fff00,#4cff00,#66ff00,#47ff00,#70ff00,#6fff00,#4fff00,#8eff00,#7bff00,#51ff00,#97ff00,#9fff00,#b0ff00,#4cff00,#a1ff00,#a0ff00,#62ff00,#77ff00,#a9ff00,#90ff00,#c2ff00,#77ff00,#a8ff00,#56ff00,#3fff00,#81ff00,#90ff00,#6cff00,#61ff00,#70ff00,#70ff00,#36ff00,#45ff00,#63ff00,#37ff00,#37ff00,#00ff00,#05ff00,#0fff00,#16ff00,#1bff00,#02ff00,#00ff2c,#4bff00,#00ff28,#00ff28,#00ff4c,#00ff15,#00ff39,#00ff3b,#00ff49,#00ff6a,#00ff98,#00ff87,#00ff49,#00ff6a,#00ff87,#00ff74,#00ff8f,#00ff87,#00ffa5,#00ffcd,#00ffb3,#00ffbb,#00ffdc,#00fffa,#00ffe2,#00ffe6,#00f5ff,#00feff,#00f0ff,#00cdff,#009dff,#00d8ff,#00c0ff,#00ceff,#00c4ff,#009bff,#006cff,#00a9ff,#0083ff,#008fff,#0090ff,#0075ff,#009dff,#009bff,#008aff,#0067ff,#007aff,#0077ff,#00aeff)"></i><i style="background:linear-gradient(90deg,#0080ff,#0090ff,#006cff,#007aff,#00a0ff,#008aff,#0094ff,#0065ff,#0075ff,#0087ff,#0072ff,#0085ff,#008cff,#0084ff,#0088ff,#006aff,#0078ff,#0073ff,#0069ff,#0096ff,#0079ff,#0097ff,#007cff,#0096ff,#0085ff,#004fff,#0079ff,#0085ff,#006eff,#0082ff,#006dff,#0083ff,#0079ff,#00a3ff,#009fff,#004dff,#007aff,#0078ff,#00a9ff,#00a1ff,#0072ff,#0069ff,#0083ff,#008bff,#0092ff,#0077ff,#009eff,#0077ff,#0036ff,#004eff,#0095ff,#0087ff,#0058ff,#009bff,#005dff,#004eff,#0083ff,#0074ff,#0095ff,#006fff,#008aff,#0085ff,#0078ff,#007cff,#00a7ff,#00a1ff,#00a3ff,#006eff,#0094ff,#00bcff,#0089ff,#00b5ff,#00c1ff,#00b5ff,#00fffb,#00aeff,#00b7ff,#00d0ff,#00dbff,#00ecff,#00d1ff,#00ffec,#00fdff,#00ffc8,#00ffc6,#00ffc8,#00fffc,#00ff93,#00ff98,#00ff7e,#00ff80,#00ff70,#00ff98,#00ff9b,#00ff6f,#00ff66,#00ff35,#00ff07,#00ff39,#00ff2c,#00ff26,#45ff00,#00ff22,#2fff00,#00ff1d,#39ff00,#54ff00,#50ff00,#60ff00,#6eff00,#73ff00,#61ff00,#44ff00,#79ff00,#99ff00,#abff00,#90ff00,#70ff00,#a0ff00,#6cff00,#93ff00,#92ff00,#9dff00,#b5ff00,#7bff00,#b7ff00,#72ff00,#87ff00,#a7ff00,#87ff00,#89ff00,#6fff00,#b4ff00,#53ff00,#7aff00,#61ff00,#77ff00,#7aff00,#47ff00,#4dff00,#44ff00,#3bff00,#45ff00,#29ff00,#02ff00,#26ff00,#13ff00,#1bff00,#1fff00,#13ff00,#00ff2a,#00ff0c,#00ff22,#00ff46,#00ff5e,#00ff49,#00ff4c,#00ff28,#00ff50,#00ff4c,#00ff78,#00ff6b,#00ff67,#00ff63,#00ffa6,#00ff82,#00ff58,#00ff79,#00ff94,#00ffe9,#00ffe0,#00ffcf,#00ffe0,#00ffd8,#00ffeb,#00ffeb,#00ffef,#00f9ff,#00feff,#00fff4,#00fffc,#00c2ff,#00c1ff,#00d7ff,#00b5ff,#00b9ff,#0093ff,#00c6ff,#0092ff,#0083ff,#0089ff,#0078ff,#0087ff,#007aff,#0064ff,#0076ff,#0082ff,#0062ff,#0062ff)"></i><i style="background:linear-gradient(90deg,#0067ff,#006aff,#006cff,#0079ff,#0091ff,#0074ff,#008bff,#00abff,#008eff,#0080ff,#0067ff,#0077ff,#0084ff,#006dff,#0084ff,#0081ff,#0069ff,#0077ff,#0063ff,#007bff,#009aff,#0079ff,#006eff,#0066ff,#0099ff,#006cff,#007cff,#0072ff,#0078ff,#008eff,#007cff,#007bff,#0092ff,#008dff,#0080ff,#0052ff,#007aff,#0087ff,#0075ff,#0095ff,#0055ff,#0079ff,#0044ff,#005cff,#0097ff,#0096ff,#0078ff,#007eff,#006cff,#0094ff,#0093ff,#0068ff,#0062ff,#006eff,#0070ff,#0088ff,#006cff,#0064ff,#0085ff,#0090ff,#009aff,#005fff,#0088ff,#007eff,#007cff,#009eff,#0099ff,#0097ff,#00a8ff,#009fff,#0099ff,#00bdff,#00b8ff,#00cfff,#00c9ff,#00b6ff,#00deff,#00fff4,#00f1ff,#00f4ff,#00dbff,#00fff6,#00fff3,#00ffd6,#00ffcd,#00ffd6,#00ffcc,#00ffca,#00ff79,#00ffac,#00ff9d,#00ff8b,#00ff56,#00ff73,#00ff8f,#00ff2a,#00ff27,#01ff00,#00ff1b,#00ff0c,#00ff46,#2bff00,#0cff00,#5bff00,#0eff00,#10ff00,#28ff00,#4dff00,#41ff00,#2cff00,#55ff00,#71ff00,#91ff00,#57ff00,#84ff00,#89ff00,#87ff00,#bfff00,#86ff00,#71ff00,#59ff00,#74ff00,#7bff00,#8cff00,#c2ff00,#c5ff00,#82ff00,#a9ff00,#b2ff00,#b9ff00,#9eff00,#5eff00,#61ff00,#8fff00,#a6ff00,#8aff00,#84ff00,#92ff00,#7eff00,#6eff00,#67ff00,#58ff00,#2eff00,#20ff00,#1eff00,#27ff00,#05ff00,#3bff00,#1eff00,#14ff00,#00ff11,#00ff04,#31ff00,#04ff00,#00ff16,#0dff00,#00ff3d,#00ff07,#00ff22,#00ff43,#00ff6d,#00ff6c,#00ff5b,#00ff7c,#00ff92,#00ff91,#00ff84,#00ff63,#00ff7f,#00ff7f,#00ffce,#00ffcc,#00ffc0,#00ffd7,#00ffc3,#00ffe7,#00ffdf,#00edff,#00fff2,#00ffdf,#00fff7,#00daff,#00e0ff,#00caff,#00b2ff,#00caff,#008fff,#009eff,#00b2ff,#0091ff,#00a1ff,#009bff,#0075ff,#0070ff,#0053ff,#0094ff,#008cff,#006bff,#0074ff)"></i><i style="background:linear-gradient(90deg,#006aff,#00b7ff,#007eff,#0096ff,#008dff,#007aff,#0088ff,#007bff,#0043ff,#0077ff,#0080ff,#009fff,#007aff,#009aff,#006bff,#006cff,#0053ff,#00a3ff,#0075ff,#006eff,#0082ff,#0077ff,#0081ff,#009eff,#0085ff,#0095ff,#007eff,#007eff,#00a5ff,#0090ff,#007fff,#00abff,#006dff,#006eff,#0096ff,#0096ff,#0098ff,#0082ff,#006cff,#0080ff,#0048ff,#0089ff,#006eff,#0047ff,#0082ff,#0082ff,#0068ff,#0082ff,#0074ff,#0086ff,#0066ff,#0075ff,#0083ff,#0040ff,#008eff,#008cff,#0084ff,#0060ff,#00a4ff,#008fff,#00b9ff,#0073ff,#0094ff,#00a5ff,#0089ff,#0083ff,#0092ff,#00e0ff,#00bcff,#0093ff,#0090ff,#00e3ff,#00d9ff,#00c5ff,#00c2ff,#00d4ff,#00e9ff,#00fff2,#00fbff,#00fff2,#00ffdf,#00ffe0,#00fffe,#00ffab,#00ffed,#00ffbf,#00ff90,#00ffbe,#00ff5a,#00ff82,#00ff9e,#00ff70,#00ff78,#00ff4c,#00ff7f,#00ff1a,#00ff23,#00ff22,#00ff18,#27ff00,#00ff14,#00ff06,#00ff0e,#36ff00,#3eff00,#16ff00,#6aff00,#39ff00,#33ff00,#50ff00,#54ff00,#8dff00,#aeff00,#e1ff00,#83ff00,#69ff00,#96ff00,#bfff00,#7fff00,#93ff00,#adff00,#b6ff00,#78ff00,#a5ff00,#c1ff00,#b5ff00,#c4ff00,#a6ff00,#b4ff00,#c3ff00,#a9ff00,#b9ff00,#b4ff00,#99ff00,#7bff00,#d4ff00,#74ff00,#a0ff00,#a0ff00,#5fff00,#3bff00,#78ff00,#6bff00,#2dff00,#50ff00,#63ff00,#5eff00,#45ff00,#19ff00,#34ff00,#01ff00,#00ff05,#20ff00,#1aff00,#03ff00,#00ff25,#00ff1f,#00ff30,#00ff38,#00ff3c,#00ff4c,#00ff6e,#00ff82,#00ff52,#00ff5f,#00ff67,#00ff83,#00ff76,#00ffad,#00ff98,#00ffaf,#00ffab,#00ffaa,#00ffdc,#00ffd5,#00eeff,#00ffe9,#00ffe3,#00ffec,#00fffc,#00ffe9,#00f2ff,#00f0ff,#00ceff,#009bff,#00a9ff,#00b2ff,#00a6ff,#00bbff,#00aeff,#00a9ff,#0072ff,#009aff,#0097ff,#0098ff,#008cff,#0091ff,#008dff,#0095ff)"></i><i style="background:linear-gradient(90deg,#0054ff,#0074ff,#0065ff,#0079ff,#0078ff,#0073ff,#0071ff,#004dff,#0071ff,#0074ff,#0082ff,#0069ff,#0097ff,#0077ff,#0072ff,#008eff,#007fff,#0087ff,#0093ff,#00a3ff,#005dff,#0059ff,#009aff,#0067ff,#007eff,#008fff,#006aff,#0081ff,#0086ff,#006aff,#0066ff,#0053ff,#0060ff,#006fff,#008fff,#0086ff,#008cff,#0059ff,#0084ff,#0071ff,#0055ff,#004cff,#0084ff,#0076ff,#0073ff,#0070ff,#0077ff,#0071ff,#0066ff,#0092ff,#0092ff,#005eff,#00a4ff,#007cff,#0086ff,#0072ff,#0082ff,#00a7ff,#007cff,#0079ff,#009eff,#0086ff,#0072ff,#00a2ff,#006bff,#0075ff,#00aeff,#00b8ff,#0071ff,#00a6ff,#00a8ff,#00bdff,#00a1ff,#00c6ff,#00f6ff,#00deff,#00abff,#00f8ff,#00ffd6,#00ffe6,#00edff,#00efff,#00ffe0,#00ffb2,#00ffc9,#00ff80,#00ff9c,#00ff8c,#00ff8b,#00ff86,#00ff6e,#00ff6d,#00ff1f,#00ff3b,#00ff52,#00ff4d,#00ff13,#00ff2b,#00ff1a,#29ff00,#00ff13,#0cff00,#00ff11,#2dff00,#06ff00,#52ff00,#3aff00,#59ff00,#38ff00,#afff00,#8bff00,#b4ff00,#c3ff00,#c1ff00,#57ff00,#baff00,#92ff00,#f7ff00,#a4ff00,#68ff00,#78ff00,#91ff00,#c6ff00,#abff00,#b6ff00,#c1ff00,#b9ff00,#d1ff00,#ffeb00,#ebff00,#4fff00,#90ff00,#d6ff00,#bcff00,#a6ff00,#eaff00,#0aff00,#52ff00,#91ff00,#84ff00,#84ff00,#6eff00,#94ff00,#4eff00,#22ff00,#5bff00,#37ff00,#2eff00,#35ff00,#43ff00,#00ff08,#00ff12,#00ff06,#09ff00,#13ff00,#0aff00,#00ff02,#00ff17,#00ff14,#00ff37,#00ff45,#00ff32,#00ff53,#00ff6a,#00ff80,#00ff64,#00ff98,#00ff8b,#00ff7e,#00ffb5,#00ff86,#00ffdd,#00ffa7,#00ffc4,#00ffb7,#00ffd3,#00fff0,#00e1ff,#00e1ff,#00faff,#00caff,#00ffdf,#00baff,#00c4ff,#00e4ff,#00d1ff,#00cfff,#00a3ff,#00bdff,#00a9ff,#00b1ff,#00aaff,#0090ff,#0093ff,#009fff,#007bff,#0074ff,#0085ff,#0062ff)"></i><i style="background:linear-gradient(90deg,#007cff,#006eff,#0066ff,#007bff,#0066ff,#0050ff,#0065ff,#005eff,#0087ff,#009dff,#008eff,#0078ff,#0065ff,#0055ff,#0088ff,#0074ff,#007eff,#006aff,#004aff,#0076ff,#0078ff,#0091ff,#0094ff,#0080ff,#0081ff,#008dff,#0074ff,#0055ff,#0082ff,#009cff,#0067ff,#004dff,#0076ff,#007fff,#0067ff,#0092ff,#0099ff,#0074ff,#00a9ff,#0094ff,#006eff,#0078ff,#0085ff,#0077ff,#0063ff,#006aff,#0095ff,#0073ff,#008bff,#0088ff,#00b7ff,#0087ff,#0083ff,#0096ff,#0080ff,#0067ff,#007eff,#0085ff,#007eff,#006dff,#0093ff,#009bff,#0093ff,#0067ff,#0063ff,#00a7ff,#008eff,#00b7ff,#00acff,#00a8ff,#00b4ff,#00beff,#00bfff,#00b8ff,#00e9ff,#00ceff,#00e3ff,#00f6ff,#00e2ff,#00f6ff,#00e6ff,#00ffe4,#00ffde,#00ffc9,#00ffce,#00ffb4,#00ff9d,#00ffaa,#00ff72,#00ff81,#00ff89,#00ff5d,#00ff48,#00ff60,#00ff57,#00ff3f,#10ff00,#00ff13,#0bff00,#21ff00,#2dff00,#31ff00,#5dff00,#6fff00,#35ff00,#7dff00,#50ff00,#75ff00,#c3ff00,#d5ff00,#beff00,#9cff00,#a3ff00,#acff00,#86ff00,#ddff00,#bdff00,#faff00,#b3ff00,#70ff00,#e7ff00,#adff00,#a9ff00,#deff00,#d3ff00,#b2ff00,#f4ff00,#d2ff00,#b3ff00,#b7ff00,#dcff00,#fffd00,#91ff00,#87ff00,#b5ff00,#e0ff00,#89ff00,#94ff00,#97ff00,#7bff00,#37ff00,#7fff00,#7eff00,#9fff00,#72ff00,#27ff00,#4cff00,#28ff00,#7cff00,#54ff00,#30ff00,#00ff12,#00ff18,#00ff1b,#31ff00,#14ff00,#00ff14,#00ff42,#00ff2f,#00ff54,#00ff2d,#00ff50,#00ff23,#00ff5c,#00ff8a,#00ff63,#00ff4d,#00ff9a,#00ff5a,#00ff9f,#00ffb3,#00fff0,#00ff8d,#00ffa6,#00ffc5,#00fcff,#00ffd0,#00fff8,#00ffff,#00fff7,#00e1ff,#00fffe,#00c1ff,#00d3ff,#00f8ff,#00b8ff,#00a6ff,#00c4ff,#00a2ff,#0090ff,#008fff,#009eff,#0093ff,#0097ff,#0069ff,#0075ff,#0067ff,#0086ff,#0063ff)"></i><i style="background:linear-gradient(90deg,#0080ff,#008cff,#007fff,#006eff,#0084ff,#0093ff,#0080ff,#0076ff,#0090ff,#0078ff,#006fff,#0085ff,#0053ff,#0062ff,#00a3ff,#0089ff,#008aff,#0063ff,#0062ff,#0085ff,#0072ff,#008bff,#00a0ff,#0099ff,#00a4ff,#0070ff,#00a7ff,#0063ff,#007eff,#007eff,#0084ff,#0080ff,#006eff,#0096ff,#0087ff,#009aff,#00a0ff,#00a3ff,#0063ff,#007eff,#007dff,#0073ff,#007cff,#008cff,#0064ff,#007dff,#005bff,#008fff,#006bff,#00a1ff,#0082ff,#0091ff,#007cff,#0086ff,#0090ff,#006fff,#0080ff,#0075ff,#007aff,#005dff,#007aff,#006cff,#0073ff,#0092ff,#0073ff,#009bff,#0098ff,#0097ff,#00a8ff,#00b7ff,#00d1ff,#00d3ff,#00ccff,#00b0ff,#00c7ff,#00f7ff,#00c4ff,#00e6ff,#00ffdd,#00f6ff,#00ffd2,#00ffd7,#00fff0,#00fffb,#00ffd4,#00ffd3,#00ff9b,#00ff90,#00ff8f,#00ff8c,#00ff60,#00ff5d,#00ff31,#00ff2a,#00ff42,#09ff00,#00ff20,#00ff12,#0cff00,#00ff06,#33ff00,#3cff00,#21ff00,#98ff00,#6eff00,#77ff00,#3aff00,#60ff00,#71ff00,#8eff00,#cbff00,#e4ff00,#7aff00,#a2ff00,#bfff00,#bfff00,#d3ff00,#dbff00,#ffe800,#dfff00,#ddff00,#f5ff00,#bbff00,#a8ff00,#b6ff00,#b2ff00,#8eff00,#ffed00,#dcff00,#afff00,#aeff00,#faff00,#abff00,#e6ff00,#e2ff00,#d9ff00,#d2ff00,#91ff00,#8dff00,#83ff00,#98ff00,#c0ff00,#a4ff00,#95ff00,#4fff00,#97ff00,#70ff00,#4eff00,#59ff00,#24ff00,#19ff00,#16ff00,#24ff00,#00ff46,#0cff00,#00ff1b,#00ff11,#00ff49,#00ff25,#00ff65,#01ff00,#00ff33,#00ff5e,#00ff4e,#00ff56,#00ff71,#00ff86,#00ffa2,#00ff62,#00ff8a,#00ff8f,#00ffc4,#00ffaf,#00ffa9,#00ffc9,#00ffd4,#00ffdc,#00ffbd,#00fff2,#00ffec,#00f7ff,#00eaff,#00d1ff,#00d1ff,#00ddff,#00a1ff,#00beff,#00b3ff,#0095ff,#00a2ff,#00b1ff,#00a8ff,#0080ff,#008eff,#007eff,#008cff,#008bff,#006aff,#006eff)"></i><i style="background:linear-gradient(90deg,#009bff,#007cff,#0071ff,#006dff,#0068ff,#0084ff,#008eff,#007fff,#0079ff,#008fff,#0089ff,#009bff,#0094ff,#0053ff,#0071ff,#0075ff,#0070ff,#007aff,#00adff,#0077ff,#0075ff,#007fff,#0090ff,#0074ff,#005aff,#006fff,#0075ff,#006cff,#0071ff,#0095ff,#007eff,#008fff,#0095ff,#0083ff,#0093ff,#0083ff,#0076ff,#0087ff,#0064ff,#00b2ff,#0095ff,#007cff,#007fff,#0049ff,#006aff,#009aff,#0083ff,#0085ff,#0069ff,#0075ff,#0083ff,#0077ff,#0065ff,#0081ff,#0079ff,#0071ff,#00a3ff,#009eff,#0070ff,#0068ff,#0068ff,#0075ff,#0069ff,#0090ff,#00a5ff,#00a0ff,#0094ff,#00afff,#00b1ff,#00aeff,#00e2ff,#00e9ff,#00c6ff,#00c7ff,#00e0ff,#00e9ff,#00f4ff,#00eeff,#00fff7,#00ebff,#00ffcd,#00ffae,#00fffb,#00ff9e,#00ffa7,#00ffd2,#00ff95,#00ff80,#00ff67,#00ff5b,#00ff81,#00ff3e,#00ff52,#00ff46,#00ff3e,#00ff23,#00ff3a,#00ff3e,#3eff00,#1cff00,#0eff00,#53ff00,#56ff00,#4bff00,#7aff00,#13ff00,#7eff00,#b3ff00,#96ff00,#93ff00,#8aff00,#a4ff00,#c2ff00,#7fff00,#61ff00,#f5ff00,#f1ff00,#e9ff00,#e7ff00,#f6ff00,#b9ff00,#ddff00,#e2ff00,#d6ff00,#ffd900,#eeff00,#c5ff00,#efff00,#ffeb00,#dfff00,#d2ff00,#feff00,#c2ff00,#91ff00,#fcff00,#e2ff00,#77ff00,#b6ff00,#caff00,#7fff00,#b2ff00,#c1ff00,#c8ff00,#95ff00,#9cff00,#a3ff00,#59ff00,#47ff00,#52ff00,#46ff00,#3cff00,#17ff00,#0fff00,#00ff08,#00ff02,#00ff25,#00ff47,#00ff2b,#00ff0d,#00ff53,#00ff03,#00ff65,#00ff31,#00ffae,#00ff3a,#00ff3c,#00ff5e,#00ff9e,#00ff70,#00ffc7,#00ff77,#00ffb9,#00ffd9,#00ffc6,#00ffff,#00ffdd,#00ffec,#00ffe8,#00ffe7,#00d7ff,#00ebff,#00c1ff,#00f5ff,#00cdff,#00f8ff,#00dcff,#0099ff,#00a5ff,#00a8ff,#0086ff,#00bfff,#009eff,#005dff,#007fff,#0081ff,#0084ff,#00afff,#0075ff,#0064ff)"></i><i style="background:linear-gradient(90deg,#007bff,#004bff,#006bff,#0069ff,#0073ff,#0048ff,#0072ff,#008bff,#008eff,#0089ff,#005bff,#0076ff,#0068ff,#0076ff,#0061ff,#00abff,#006bff,#008cff,#009aff,#0064ff,#006fff,#0078ff,#0063ff,#0052ff,#0078ff,#006fff,#0069ff,#00a1ff,#0068ff,#0077ff,#005dff,#0077ff,#008fff,#0094ff,#0083ff,#005fff,#0084ff,#0058ff,#0079ff,#0066ff,#0075ff,#008fff,#007aff,#00a2ff,#0067ff,#0067ff,#006dff,#0080ff,#0083ff,#0090ff,#0059ff,#0065ff,#0063ff,#0097ff,#007bff,#0075ff,#0086ff,#0056ff,#0080ff,#00a1ff,#008eff,#0078ff,#008bff,#00b3ff,#0095ff,#00c4ff,#0093ff,#00a0ff,#00b1ff,#00beff,#00adff,#00b1ff,#00bbff,#00e7ff,#00e3ff,#00d0ff,#00c7ff,#00f0ff,#00ddff,#00fff3,#00ffcd,#00ffb6,#00ffd9,#00ffc9,#00ff9a,#00ff8e,#00ff88,#00ff84,#00ff86,#00ff43,#00ff68,#00ff57,#00ff30,#00ff2d,#09ff00,#10ff00,#00ff05,#00ff3d,#3eff00,#84ff00,#34ff00,#02ff00,#55ff00,#7aff00,#46ff00,#72ff00,#b3ff00,#8eff00,#ccff00,#d4ff00,#deff00,#9eff00,#dfff00,#fff900,#bdff00,#afff00,#f2ff00,#ffee00,#bcff00,#f6ff00,#cdff00,#deff00,#a7ff00,#b2ff00,#d5ff00,#ffeb00,#d1ff00,#e4ff00,#f1ff00,#f3ff00,#fffa00,#ffe500,#cdff00,#a7ff00,#d5ff00,#deff00,#78ff00,#eeff00,#aeff00,#abff00,#85ff00,#9aff00,#acff00,#9fff00,#8dff00,#5bff00,#3cff00,#6eff00,#36ff00,#18ff00,#00ff0c,#05ff00,#29ff00,#4dff00,#38ff00,#05ff00,#0fff00,#00ff10,#00ff4f,#00ff4b,#16ff00,#00ff74,#00ff5c,#00ff7c,#00ff38,#00ff47,#00ff87,#00ffa6,#00ff7a,#00ffcc,#00ffc7,#00ffa9,#00ff6d,#00ffb8,#00fbff,#00ffa7,#00fffa,#00ffec,#00f9ff,#00ffee,#00fdff,#00d8ff,#00dcff,#00cbff,#00d6ff,#00c0ff,#00c2ff,#00a0ff,#00caff,#008dff,#007aff,#0079ff,#0096ff,#0081ff,#0087ff,#00a5ff,#007aff,#006cff,#008fff)"></i><i style="background:linear-gradient(90deg,#007eff,#007dff,#0075ff,#009cff,#0073ff,#0056ff,#0061ff,#0065ff,#006eff,#0079ff,#0060ff,#0094ff,#008aff,#0059ff,#0068ff,#0095ff,#006aff,#0081ff,#007aff,#008cff,#0079ff,#0053ff,#0074ff,#0077ff,#009bff,#0080ff,#0067ff,#0087ff,#0056ff,#0061ff,#008bff,#0095ff,#0081ff,#00a1ff,#0099ff,#0089ff,#0079ff,#006fff,#0066ff,#005fff,#0072ff,#0070ff,#0074ff,#008bff,#0082ff,#0064ff,#0063ff,#0070ff,#007eff,#007cff,#0041ff,#0081ff,#0080ff,#0093ff,#0093ff,#0089ff,#0080ff,#0086ff,#008fff,#00a0ff,#0092ff,#0092ff,#009eff,#0094ff,#00a1ff,#0099ff,#0091ff,#0098ff,#009cff,#0099ff,#00bfff,#00cbff,#00b5ff,#00b5ff,#00e2ff,#00e7ff,#00f2ff,#00ffe1,#00fff7,#00fff5,#00fffa,#00ff9a,#00ffdf,#00ff7b,#00ff70,#00ffae,#00ff7f,#00ff96,#00ff93,#00ff63,#00ff6f,#00ff69,#00ff22,#00ff30,#08ff00,#00ff16,#06ff00,#00ff24,#1bff00,#3fff00,#68ff00,#46ff00,#4eff00,#58ff00,#2bff00,#9cff00,#a1ff00,#b8ff00,#6eff00,#ddff00,#e7ff00,#ceff00,#b6ff00,#ffd400,#ffef00,#d6ff00,#c0ff00,#f4ff00,#e1ff00,#fffd00,#c2ff00,#f1ff00,#faff00,#fffb00,#b2ff00,#ffe800,#ffd600,#ffee00,#fbff00,#fff100,#fff400,#ffb800,#eaff00,#f3ff00,#efff00,#f5ff00,#9dff00,#ceff00,#c3ff00,#ffed00,#beff00,#fff200,#faff00,#9cff00,#9bff00,#eaff00,#0fff00,#4aff00,#2bff00,#0aff00,#0cff00,#23ff00,#6dff00,#3aff00,#05ff00,#00ff00,#00ff29,#0aff00,#00ff2e,#0cff00,#00ff32,#00ff64,#00ff6e,#00ff31,#00ff41,#00ff49,#00ff50,#00ff81,#00ff64,#00ff81,#00ff8c,#00ffa9,#00ffaa,#00ffe5,#00ffd0,#00ffb7,#00ffdd,#00fff8,#00fffc,#00ffbe,#00ffe4,#00fff8,#00dfff,#00e8ff,#00c9ff,#00bdff,#00b2ff,#0090ff,#00c8ff,#0089ff,#00c0ff,#00a5ff,#00a0ff,#0082ff,#0095ff,#006bff,#0095ff,#007dff,#00a5ff)"></i><i style="background:linear-gradient(90deg,#007cff,#0092ff,#007dff,#0082ff,#0072ff,#0072ff,#0075ff,#006aff,#0096ff,#00afff,#006eff,#0091ff,#005dff,#0054ff,#0078ff,#009bff,#007aff,#0083ff,#0067ff,#0053ff,#009bff,#0076ff,#008aff,#0085ff,#007aff,#0075ff,#0067ff,#008cff,#006aff,#0079ff,#008aff,#0073ff,#008cff,#008cff,#0061ff,#006aff,#0072ff,#008bff,#006cff,#007dff,#0053ff,#0066ff,#0090ff,#0085ff,#0090ff,#006cff,#0077ff,#0056ff,#0065ff,#006cff,#00a7ff,#0076ff,#007dff,#007aff,#0064ff,#007aff,#0078ff,#0082ff,#0072ff,#007fff,#008cff,#00a3ff,#00b4ff,#007dff,#00b5ff,#00a3ff,#00a1ff,#00a8ff,#00b7ff,#00b8ff,#00aaff,#00e9ff,#00d3ff,#00c4ff,#00efff,#00ffed,#00ebff,#00ffe6,#00fff2,#00ffe2,#00ffd7,#00ffd0,#00ffc7,#00ff8d,#00ff85,#00ffa3,#00ff62,#00ff53,#00ff6a,#00ff59,#00ff52,#00ff08,#00ff2c,#00ff13,#00ff52,#00ff01,#26ff00,#00ff16,#35ff00,#18ff00,#3eff00,#11ff00,#54ff00,#50ff00,#3cff00,#67ff00,#a6ff00,#a4ff00,#bbff00,#d0ff00,#d6ff00,#ebff00,#c4ff00,#ffe800,#e3ff00,#ffa700,#ffb000,#dcff00,#f9ff00,#ffeb00,#ffd700,#dbff00,#ffef00,#ffee00,#fdff00,#ffd800,#ffdf00,#bdff00,#fffb00,#ffe600,#fffd00,#ecff00,#f9ff00,#ffa200,#fff200,#fff600,#d5ff00,#edff00,#b8ff00,#ffee00,#ecff00,#fffd00,#b6ff00,#a8ff00,#9eff00,#94ff00,#70ff00,#8fff00,#83ff00,#52ff00,#59ff00,#3eff00,#1fff00,#4cff00,#18ff00,#00ff0f,#00ff25,#00ff28,#00ff40,#03ff00,#00ff03,#00ff16,#00ff45,#00ff2e,#00ff48,#00ffa0,#00ff6a,#00ffb1,#00ffa0,#00ff8a,#00ff72,#00ff6c,#00ffbe,#00ffcd,#00ffaf,#00ffc1,#00ffec,#00ffd2,#00ffde,#00fffe,#00fffa,#00eaff,#00efff,#00deff,#00d7ff,#00d3ff,#00b7ff,#00c3ff,#00bdff,#00b6ff,#00a7ff,#0088ff,#00afff,#0096ff,#0089ff,#0087ff,#00a7ff,#007eff,#009dff)"></i><i style="background:linear-gradient(90deg,#0098ff,#0077ff,#0073ff,#0060ff,#0052ff,#005cff,#00a1ff,#007cff,#0070ff,#008fff,#0087ff,#0076ff,#005fff,#007dff,#007dff,#006bff,#0069ff,#007eff,#0075ff,#008cff,#007bff,#009dff,#0082ff,#00b7ff,#0097ff,#0065ff,#0073ff,#0084ff,#006dff,#0069ff,#005bff,#0080ff,#0099ff,#0081ff,#004fff,#006cff,#0098ff,#0077ff,#008dff,#0097ff,#007bff,#006aff,#006bff,#0078ff,#007fff,#0070ff,#006aff,#0054ff,#004fff,#0099ff,#0094ff,#0068ff,#0067ff,#0087ff,#005dff,#006aff,#008fff,#00b9ff,#0076ff,#0099ff,#0092ff,#007eff,#006dff,#009dff,#008fff,#0095ff,#00b9ff,#008eff,#00bbff,#00c0ff,#00afff,#00d1ff,#00beff,#00e0ff,#00ebff,#00efff,#00f3ff,#00ffe3,#00fff2,#00ffd4,#00ffb3,#00ffb4,#00ffb8,#00fffa,#00ffb0,#00ffa3,#00ff85,#00ff71,#00ff2f,#00ff69,#00ff45,#00ff84,#00ff67,#00ff18,#14ff00,#00ff12,#00ff01,#00ff1a,#36ff00,#30ff00,#42ff00,#48ff00,#5fff00,#79ff00,#78ff00,#59ff00,#cdff00,#8dff00,#e1ff00,#c8ff00,#e8ff00,#f9ff00,#c9ff00,#f0ff00,#e9ff00,#daff00,#ff9900,#ffb200,#ff9300,#fff000,#e1ff00,#cdff00,#faff00,#fbff00,#f9ff00,#fff700,#e7ff00,#ffd400,#ffcd00,#ffe500,#ffd200,#ffc300,#e0ff00,#ffa500,#ffb600,#ffc600,#ffdb00,#ffca00,#dcff00,#c8ff00,#f3ff00,#ddff00,#c6ff00,#9eff00,#78ff00,#bdff00,#aaff00,#86ff00,#6aff00,#3aff00,#95ff00,#65ff00,#1aff00,#29ff00,#0dff00,#36ff00,#00ff36,#00ff21,#00ff32,#00ff0f,#00ff38,#00ff3c,#00ff23,#00ff4f,#00ff76,#00ff89,#00ff4c,#00ff85,#00ff8c,#00ff5c,#00ffa7,#00ff8f,#00ff97,#00ffa0,#00ffd4,#00ff98,#00ffd2,#00ffe1,#00ffc9,#00e6ff,#00f9ff,#00fbff,#00f9ff,#00f4ff,#00eaff,#00fffb,#00c7ff,#00aaff,#006eff,#00e1ff,#0095ff,#009eff,#0085ff,#00a7ff,#00a1ff,#0092ff,#00a5ff,#00a3ff,#0088ff)"></i><i style="background:linear-gradient(90deg,#008cff,#0087ff,#0078ff,#005fff,#0097ff,#0070ff,#0069ff,#007fff,#007bff,#0090ff,#0099ff,#0085ff,#0055ff,#0074ff,#0076ff,#0060ff,#0087ff,#0083ff,#0066ff,#00a9ff,#007dff,#0093ff,#0074ff,#009fff,#007aff,#0076ff,#0081ff,#009bff,#0079ff,#0093ff,#005fff,#0065ff,#0099ff,#0062ff,#0071ff,#005eff,#006fff,#0067ff,#007fff,#007dff,#0080ff,#0080ff,#0056ff,#0076ff,#0080ff,#0082ff,#004eff,#0067ff,#0085ff,#008cff,#0089ff,#0086ff,#0066ff,#0079ff,#0074ff,#0087ff,#007bff,#008dff,#0097ff,#008fff,#00a5ff,#0090ff,#006cff,#00b0ff,#00aeff,#0094ff,#0098ff,#0078ff,#00e5ff,#00bcff,#00b3ff,#00c0ff,#00b5ff,#00dfff,#00f8ff,#00faff,#00efff,#00fff4,#00ffe2,#00ffe7,#00ffc2,#00ffb5,#00ffdd,#00ffd2,#00ffac,#00ff8d,#00ff42,#00ff6f,#00ff61,#00ff5e,#00ff37,#00ff46,#00ff22,#00ff32,#12ff00,#29ff00,#27ff00,#19ff00,#00ff11,#61ff00,#bbff00,#5fff00,#3bff00,#50ff00,#57ff00,#94ff00,#b6ff00,#afff00,#b2ff00,#c9ff00,#ffe500,#fffc00,#c8ff00,#e4ff00,#ffa200,#ffef00,#ffe700,#ffb100,#ffca00,#fff000,#ffd900,#ffbc00,#fff400,#afff00,#ffc600,#ffcb00,#ffdc00,#ffd000,#ffca00,#ff9c00,#f4ff00,#ffc800,#ffd400,#ffa500,#f5ff00,#ffb200,#fff800,#f0ff00,#fff000,#a5ff00,#fffd00,#e1ff00,#b0ff00,#c2ff00,#dcff00,#d4ff00,#85ff00,#a7ff00,#b2ff00,#55ff00,#4eff00,#47ff00,#00ff1a,#00ff09,#09ff00,#00ff12,#00ff44,#00ff0a,#00ff11,#00ff41,#00ff35,#00ff5c,#00ff44,#00ff7b,#00ff49,#00ff80,#00ff89,#00ff6c,#00ff99,#00ff79,#00ff85,#00ff98,#00ff87,#00fff5,#00ffb9,#00ff9f,#00ffc2,#00fff1,#00ffd5,#00ffe6,#00ffdc,#00f4ff,#00f5ff,#00f8ff,#00adff,#00dfff,#00caff,#00c1ff,#009cff,#0093ff,#00a4ff,#00b5ff,#0071ff,#00a8ff,#0091ff,#0070ff,#007bff,#008eff,#0075ff)"></i><i style="background:linear-gradient(90deg,#0080ff,#0071ff,#009bff,#008eff,#0078ff,#0085ff,#0093ff,#006fff,#0072ff,#005aff,#0076ff,#008bff,#008cff,#0077ff,#007dff,#0073ff,#007dff,#008cff,#008cff,#0098ff,#0089ff,#0089ff,#009bff,#0091ff,#009aff,#0084ff,#0080ff,#0090ff,#006bff,#009eff,#007fff,#0072ff,#0086ff,#006bff,#007cff,#006bff,#007bff,#0063ff,#003fff,#0092ff,#005fff,#00b4ff,#005cff,#0073ff,#0074ff,#0085ff,#007aff,#0092ff,#008cff,#006fff,#008aff,#0074ff,#008aff,#0093ff,#007aff,#0073ff,#005aff,#0061ff,#0082ff,#0065ff,#0099ff,#008dff,#00a4ff,#009bff,#0098ff,#00aaff,#00b6ff,#00c3ff,#00daff,#00bcff,#00ceff,#00c2ff,#00b0ff,#00eeff,#00c8ff,#00fffc,#00d7ff,#00fcff,#00ffdf,#00ffed,#00ffe9,#00ff94,#00ffcf,#00ffb9,#00ffbf,#00ff97,#00ff6e,#00ff70,#00ff80,#00ff6b,#00ff3d,#00ff54,#03ff00,#00ff3a,#00ff10,#03ff00,#1cff00,#1eff00,#18ff00,#4fff00,#57ff00,#4dff00,#8bff00,#92ff00,#83ff00,#9cff00,#a4ff00,#adff00,#b7ff00,#ffef00,#fff800,#fff700,#c3ff00,#fff700,#fff600,#f5ff00,#ffb800,#fcff00,#ecff00,#fffb00,#ffee00,#ffe700,#ffd200,#ffda00,#ffb100,#ffd300,#ffde00,#ffe100,#efff00,#fffe00,#feff00,#fffe00,#ff9100,#fff100,#ffa200,#ffd800,#ccff00,#ffc100,#ffec00,#e8ff00,#fffa00,#b6ff00,#b2ff00,#f3ff00,#fffc00,#f9ff00,#8fff00,#a5ff00,#76ff00,#5aff00,#45ff00,#30ff00,#02ff00,#02ff00,#00ff13,#04ff00,#0dff00,#00ff39,#02ff00,#00ff16,#00ff35,#00ff3a,#00ff29,#00ff56,#00ff60,#00ff38,#00ff3f,#00ffba,#00ff5d,#00ff84,#00ffe1,#00ff6e,#00ff86,#00ffbf,#00ffe2,#00ffdb,#00ffd4,#00fff8,#00ffd9,#00ffe0,#00efff,#00f4ff,#00f6ff,#00deff,#00e3ff,#00ffeb,#00e5ff,#00a0ff,#00c8ff,#009aff,#00aaff,#00b1ff,#0090ff,#0084ff,#008bff,#0081ff,#006dff,#0094ff,#0091ff)"></i><i style="background:linear-gradient(90deg,#005fff,#007bff,#0073ff,#0085ff,#005fff,#0070ff,#0088ff,#0095ff,#0083ff,#0054ff,#006cff,#008dff,#0091ff,#007fff,#0081ff,#007bff,#009cff,#008cff,#006dff,#0073ff,#0084ff,#0073ff,#008aff,#0064ff,#0097ff,#0074ff,#0079ff,#0090ff,#0076ff,#0069ff,#007eff,#0082ff,#0087ff,#007bff,#005fff,#00a1ff,#008eff,#0080ff,#007aff,#0080ff,#006eff,#006dff,#0059ff,#0097ff,#006bff,#006dff,#008cff,#0054ff,#008eff,#0079ff,#0079ff,#0060ff,#0070ff,#007bff,#0093ff,#0067ff,#0048ff,#0069ff,#0068ff,#007cff,#0089ff,#0092ff,#0091ff,#00a8ff,#0076ff,#007bff,#0095ff,#00b3ff,#00c4ff,#00afff,#00ebff,#00baff,#00f1ff,#00d4ff,#00e2ff,#00cbff,#00ccff,#00ffee,#00fdff,#00ffc1,#00ffe4,#00ffda,#00ffcf,#00ffa6,#00ff78,#00ff66,#00ff69,#00ff66,#00ff68,#00ff42,#00ff17,#00ff31,#03ff00,#00ff2a,#06ff00,#02ff00,#14ff00,#83ff00,#63ff00,#54ff00,#54ff00,#75ff00,#83ff00,#61ff00,#c6ff00,#a4ff00,#9dff00,#bcff00,#d1ff00,#e8ff00,#ffee00,#eeff00,#fff400,#faff00,#fff500,#eaff00,#ecff00,#ffe600,#ffdf00,#fff800,#fffd00,#e4ff00,#ffbc00,#fff600,#ff7a00,#ff9600,#fff000,#ffb600,#ffe300,#fbff00,#fff200,#ffc700,#ffa800,#ffdf00,#ffda00,#ffd400,#ff9000,#ff8c00,#c1ff00,#f4ff00,#caff00,#b5ff00,#c9ff00,#bdff00,#b6ff00,#8dff00,#95ff00,#91ff00,#95ff00,#a0ff00,#49ff00,#35ff00,#00ff23,#10ff00,#08ff00,#01ff00,#00ff0e,#00ff29,#00ff05,#00ff0e,#00ff4c,#00ff1b,#00ff4b,#00ff58,#00ff47,#00ff37,#00ff70,#00ff92,#00ff5f,#00ff9e,#00ffa2,#00ff95,#00ff90,#00ffc0,#00ffca,#00ffad,#00ff90,#00ffeb,#00ffe6,#00ffeb,#00ebff,#00e5ff,#00ecff,#00daff,#00dbff,#00ccff,#00edff,#00bbff,#00caff,#00b4ff,#00b1ff,#00c3ff,#00b0ff,#00a9ff,#0083ff,#007aff,#006bff,#0093ff,#0058ff)"></i><i style="background:linear-gradient(90deg,#0075ff,#0052ff,#0071ff,#0071ff,#0070ff,#0079ff,#0069ff,#0074ff,#005eff,#0076ff,#006dff,#0080ff,#007aff,#0081ff,#0076ff,#0066ff,#008bff,#0073ff,#005dff,#0074ff,#0090ff,#0086ff,#00b6ff,#006aff,#009aff,#0075ff,#006dff,#0056ff,#0086ff,#009dff,#0066ff,#0075ff,#0072ff,#0099ff,#0058ff,#0063ff,#0052ff,#0097ff,#0091ff,#0078ff,#0075ff,#0069ff,#0079ff,#0077ff,#007cff,#006aff,#005aff,#0057ff,#0073ff,#0093ff,#006aff,#005dff,#0060ff,#0079ff,#00a1ff,#0083ff,#0055ff,#0075ff,#0086ff,#00a8ff,#00a0ff,#00a5ff,#0085ff,#00bdff,#0088ff,#00a5ff,#00a7ff,#00bcff,#00aaff,#00e2ff,#00c2ff,#00cbff,#00fff8,#00deff,#00ffff,#00deff,#00ffd8,#00ffd7,#00f9ff,#00ffc5,#00ffaa,#00ffca,#00ffae,#00ff88,#00ffa6,#00ff57,#00ff63,#00ff7d,#00ff64,#00ff2e,#00ff32,#00ff59,#00ff13,#00ff1e,#00ff08,#08ff00,#00ff00,#6aff00,#43ff00,#6dff00,#6dff00,#4eff00,#6aff00,#6eff00,#e0ff00,#87ff00,#a2ff00,#d4ff00,#98ff00,#baff00,#ceff00,#fff200,#e5ff00,#ceff00,#fff900,#ff8e00,#ffb800,#ffcd00,#ffbe00,#fff700,#ffcb00,#ffe200,#ffaf00,#ffcc00,#ffda00,#fcff00,#e9ff00,#ff9d00,#ff6600,#fffd00,#fff600,#ffb400,#fffe00,#ffbe00,#ffcc00,#eaff00,#ff8d00,#fffe00,#fff500,#ffef00,#ffff00,#c3ff00,#d5ff00,#b1ff00,#76ff00,#c2ff00,#a4ff00,#45ff00,#43ff00,#76ff00,#50ff00,#4bff00,#3cff00,#2bff00,#23ff00,#10ff00,#11ff00,#40ff00,#00ff1f,#00ff2c,#00ff27,#00ff18,#00ff5f,#00ff48,#00ff4d,#00ff73,#00ff8e,#00ff70,#00ff57,#00ff98,#00ffa0,#00ff73,#00ff73,#00ffcf,#00ffb7,#00ff88,#00ffc8,#00ffe7,#00ffd1,#00fffd,#00edff,#00f2ff,#00ccff,#00acff,#00bfff,#00cbff,#00c7ff,#00afff,#00a5ff,#0097ff,#00b5ff,#00d6ff,#00b4ff,#0099ff,#009cff,#00aeff,#006aff,#0086ff,#0061ff)"></i><i style="background:linear-gradient(90deg,#0064ff,#0042ff,#0077ff,#006dff,#0059ff,#006eff,#0094ff,#006bff,#0083ff,#00a1ff,#00a3ff,#00a8ff,#004cff,#007fff,#007aff,#004eff,#0074ff,#007fff,#004bff,#005fff,#0068ff,#009bff,#008dff,#0080ff,#0076ff,#0075ff,#0080ff,#008bff,#0081ff,#0082ff,#0070ff,#004fff,#0063ff,#008eff,#007eff,#0076ff,#007fff,#007cff,#007dff,#0067ff,#0072ff,#007dff,#0072ff,#0076ff,#0082ff,#008bff,#0052ff,#006bff,#0083ff,#0086ff,#006bff,#0088ff,#0053ff,#007eff,#0067ff,#0097ff,#006eff,#006fff,#006eff,#007bff,#00b4ff,#00a6ff,#00baff,#009cff,#00b2ff,#00acff,#00acff,#00c7ff,#00aeff,#00adff,#00d2ff,#00b4ff,#00b7ff,#00ccff,#00d7ff,#00f5ff,#00ffdc,#00ffef,#00ffd0,#00ffc9,#00ffa7,#00ffad,#00ffbe,#00ffab,#00ff8a,#00ff85,#00ffbe,#00ff6a,#00ff78,#00ff40,#00ff33,#00ff09,#00ff19,#00ff12,#00ff22,#06ff00,#22ff00,#29ff00,#67ff00,#38ff00,#40ff00,#78ff00,#75ff00,#70ff00,#abff00,#b0ff00,#b2ff00,#a9ff00,#c5ff00,#c1ff00,#b9ff00,#d7ff00,#ffff00,#fcff00,#d0ff00,#ffbc00,#ffea00,#ffcd00,#ffaa00,#ff7f00,#ffab00,#ff7000,#ffaa00,#ffcb00,#ffcf00,#ffd000,#ffcb00,#ffcc00,#ffbf00,#ffad00,#ff9100,#fff000,#ffc700,#ffa900,#ffc600,#ffd900,#ffbf00,#fdff00,#ffe300,#ffdd00,#ffe300,#fdff00,#90ff00,#9eff00,#a7ff00,#a7ff00,#8fff00,#79ff00,#64ff00,#6eff00,#79ff00,#83ff00,#51ff00,#19ff00,#14ff00,#00ff14,#25ff00,#0fff00,#00ff2a,#00ff40,#00ff19,#00ff22,#00ff53,#00ff34,#00ff37,#00ff9c,#00ff6b,#00ff6d,#00ff95,#00ff96,#00ffa2,#00ffab,#00ffc3,#00f7ff,#00ffc1,#00ffe2,#00ffc2,#00ffdc,#00ffd6,#00faff,#00d5ff,#00ffe8,#00cdff,#00dcff,#00dbff,#00c1ff,#00d8ff,#009dff,#00a2ff,#0098ff,#0098ff,#00aaff,#0092ff,#008aff,#0096ff,#008cff,#007dff,#0087ff,#007dff)"></i><i style="background:linear-gradient(90deg,#0089ff,#0096ff,#0073ff,#0076ff,#0068ff,#006cff,#0088ff,#009bff,#0068ff,#0056ff,#0098ff,#006aff,#0064ff,#0074ff,#005cff,#0065ff,#006cff,#0087ff,#0087ff,#00a4ff,#0084ff,#00a6ff,#008aff,#0092ff,#0067ff,#00adff,#0089ff,#007bff,#0067ff,#0065ff,#0072ff,#007cff,#0072ff,#007cff,#0055ff,#0085ff,#0064ff,#007dff,#0081ff,#0063ff,#006bff,#0080ff,#0072ff,#0047ff,#0057ff,#008aff,#006cff,#0058ff,#0062ff,#0067ff,#0080ff,#0071ff,#006cff,#0087ff,#0077ff,#0084ff,#007bff,#006fff,#009eff,#0084ff,#0088ff,#007bff,#00abff,#009eff,#00a8ff,#00b4ff,#00b9ff,#00b4ff,#00cbff,#00c6ff,#00bdff,#00c2ff,#00e0ff,#00ffeb,#00efff,#00ffe1,#00ffd9,#00f1ff,#00ffd4,#00ffd5,#00ffcf,#00ffae,#00ffbf,#00ff6b,#00ff8a,#00ff65,#00ff6c,#00ff3c,#00ff3f,#00ff5c,#0aff00,#00ff2a,#00ff32,#11ff00,#24ff00,#34ff00,#30ff00,#47ff00,#3aff00,#4fff00,#78ff00,#6bff00,#67ff00,#9dff00,#95ff00,#b2ff00,#afff00,#baff00,#cbff00,#e7ff00,#b5ff00,#8bff00,#eeff00,#e5ff00,#deff00,#ffc800,#ffcf00,#fff800,#ff8000,#ff9700,#ffb000,#ffb400,#ffc100,#ffcc00,#fff500,#ffb000,#ff9400,#ffcf00,#ffb200,#ff9f00,#ffe100,#ff7b00,#ffd000,#ffda00,#ffc500,#ffcc00,#ffd400,#ffd400,#ffd000,#d5ff00,#fffc00,#c3ff00,#daff00,#baff00,#71ff00,#86ff00,#9dff00,#9fff00,#cfff00,#84ff00,#96ff00,#2eff00,#4cff00,#30ff00,#62ff00,#00ff01,#00ff02,#16ff00,#1bff00,#00ff15,#00ff19,#00ff0b,#00ff69,#00ff3e,#00ff69,#00ff8d,#00ff94,#00ff93,#00ff80,#00ff66,#00ff8b,#00ff9a,#00ffd0,#00ffbd,#00ffc3,#00ffae,#00fff7,#00ffcd,#00fff5,#00fff4,#00ffde,#00ffdf,#00edff,#00ddff,#00ecff,#00e0ff,#00b0ff,#009fff,#00cfff,#00a9ff,#00c7ff,#00a3ff,#0089ff,#0089ff,#0096ff,#0082ff,#006dff,#007aff,#0071ff)"></i><i style="background:linear-gradient(90deg,#0077ff,#009eff,#0072ff,#0081ff,#0088ff,#0079ff,#007fff,#009bff,#007cff,#006bff,#009aff,#0055ff,#0083ff,#0051ff,#0067ff,#0083ff,#0096ff,#008cff,#0081ff,#006fff,#0079ff,#0062ff,#007bff,#007fff,#007cff,#008aff,#0056ff,#008fff,#0070ff,#0084ff,#0060ff,#0073ff,#007eff,#005aff,#007dff,#0092ff,#008fff,#008dff,#0078ff,#0038ff,#0072ff,#006dff,#0082ff,#00a1ff,#007fff,#007dff,#0084ff,#0070ff,#0062ff,#007fff,#005bff,#007dff,#008cff,#0092ff,#0070ff,#0064ff,#007eff,#0091ff,#008bff,#008eff,#00a0ff,#00a1ff,#0097ff,#0094ff,#00b3ff,#00afff,#00d1ff,#0097ff,#00caff,#00e7ff,#00b9ff,#00caff,#00f7ff,#00f6ff,#00eaff,#00faff,#00feff,#00ffdc,#00ffc3,#00ffc1,#00ffb8,#00ffb6,#00ffbe,#00ff6e,#00ffac,#00ff75,#00ff6f,#00ff3e,#00ff4c,#00ff58,#00ff35,#00ff36,#00ff0f,#07ff00,#03ff00,#37ff00,#1eff00,#6bff00,#68ff00,#5eff00,#4dff00,#70ff00,#5bff00,#87ff00,#6fff00,#b3ff00,#d3ff00,#bdff00,#efff00,#fffe00,#d1ff00,#ffed00,#ffbb00,#ffdd00,#ffbf00,#f4ff00,#ffd000,#ffcc00,#ffe100,#ff7a00,#ffef00,#ffcc00,#ffc400,#ff6100,#ff9400,#ff7e00,#ffa000,#ffac00,#ffc500,#ffb900,#fcff00,#ffac00,#ffe500,#fff100,#ff6d00,#ffe700,#fff700,#ffa400,#ff9d00,#ffdc00,#baff00,#fff800,#eeff00,#ffdf00,#a9ff00,#5fff00,#75ff00,#aaff00,#75ff00,#c9ff00,#71ff00,#40ff00,#37ff00,#4aff00,#4aff00,#0dff00,#00ff04,#00ff1c,#06ff00,#00ff0d,#00ff24,#00ff37,#00ff12,#00ff4c,#00ff7d,#00ff54,#00ff5b,#00ff6b,#00ff65,#00ff7e,#00ffb1,#00ffae,#00ffa6,#00ffa3,#00ffb7,#00ffbc,#00ffd0,#00ffaf,#00fff0,#00fff7,#00ffe8,#00ffde,#00feff,#00c8ff,#00d8ff,#00b2ff,#00a0ff,#00cfff,#009dff,#009fff,#00a6ff,#00b9ff,#0074ff,#008aff,#0087ff,#009cff,#0077ff,#005bff,#0060ff)"></i><i style="background:linear-gradient(90deg,#0071ff,#0081ff,#0076ff,#004eff,#009eff,#0088ff,#006cff,#0061ff,#007dff,#008eff,#0069ff,#0091ff,#0094ff,#007eff,#0082ff,#007fff,#00a5ff,#0081ff,#005eff,#006cff,#005eff,#0077ff,#0083ff,#0095ff,#0054ff,#005bff,#0060ff,#006fff,#0086ff,#003fff,#006cff,#0068ff,#008bff,#0082ff,#006eff,#0082ff,#0068ff,#0071ff,#0053ff,#007fff,#0075ff,#0088ff,#0071ff,#008fff,#005fff,#0060ff,#0062ff,#0086ff,#006eff,#0084ff,#0075ff,#0053ff,#0065ff,#0051ff,#008eff,#0054ff,#006fff,#0092ff,#008aff,#0067ff,#00baff,#009cff,#00abff,#00a3ff,#0096ff,#0098ff,#00c8ff,#009eff,#00aaff,#00cbff,#00a7ff,#00dcff,#00efff,#00dbff,#00fffb,#00f7ff,#00fff7,#00f9ff,#00ffc4,#00ffd4,#00ff97,#00ffd6,#00ff93,#00ff8a,#00ff80,#00ff76,#00ff6e,#00ff49,#00ff39,#00ff22,#00ff37,#00ff09,#00ff22,#00ff25,#1eff00,#03ff00,#49ff00,#4eff00,#4bff00,#43ff00,#7cff00,#91ff00,#98ff00,#77ff00,#9fff00,#d2ff00,#e5ff00,#a6ff00,#ddff00,#fff600,#f1ff00,#fbff00,#ffd900,#ffc500,#ffa300,#ffbf00,#efff00,#ffa800,#ffb900,#ffdd00,#ffd100,#fffb00,#ffc800,#ff7500,#ffb900,#ffaa00,#fffe00,#ff9400,#ffe300,#ffb300,#ff8c00,#fdff00,#ffcd00,#ffff00,#ffaf00,#ffd100,#ff8b00,#ffb600,#ffc200,#fffa00,#edff00,#ffe000,#d8ff00,#dcff00,#b9ff00,#58ff00,#b0ff00,#a7ff00,#a8ff00,#5bff00,#87ff00,#4fff00,#7bff00,#37ff00,#00ff21,#1cff00,#20ff00,#00ff34,#00ff1b,#00ff32,#00ff19,#00ff23,#00ff14,#00ff65,#00ff65,#00ff44,#00ff98,#00ff75,#00ff71,#00ff87,#00ffa2,#00ff7a,#00ffc8,#00ff99,#00ffb2,#00ff9d,#00ffd7,#00ffcc,#00feff,#00ffeb,#00ffdc,#00fffa,#00ffee,#00f7ff,#00dbff,#00cbff,#00c8ff,#00c9ff,#00d5ff,#00b4ff,#008dff,#00ccff,#009eff,#0097ff,#0097ff,#00a7ff,#009fff,#0075ff,#0085ff)"></i><i style="background:linear-gradient(90deg,#007fff,#0077ff,#0064ff,#008cff,#0086ff,#0097ff,#007eff,#0073ff,#008cff,#0076ff,#007eff,#007fff,#0068ff,#0068ff,#0067ff,#0049ff,#0065ff,#009bff,#0082ff,#0078ff,#007dff,#0077ff,#0076ff,#00a2ff,#0069ff,#0083ff,#0054ff,#0071ff,#008bff,#008cff,#0049ff,#0063ff,#0063ff,#007bff,#0079ff,#006bff,#0094ff,#0095ff,#0090ff,#0085ff,#007dff,#0094ff,#0086ff,#0096ff,#008eff,#0044ff,#003fff,#0065ff,#005fff,#0085ff,#0079ff,#0061ff,#0060ff,#0085ff,#0077ff,#0088ff,#0077ff,#0093ff,#008bff,#006dff,#0092ff,#00bcff,#00b3ff,#00a3ff,#00bcff,#0095ff,#00a8ff,#00d3ff,#00a5ff,#009fff,#00b3ff,#00e7ff,#00d9ff,#00fff0,#00ffc5,#00efff,#00ffe7,#00ffcf,#00ffca,#00ffd1,#00ffc3,#00ffcc,#00ff8f,#00ffc8,#00ff78,#00ff79,#00ff42,#00ff44,#00ff27,#00ff12,#00ff5d,#00ff1c,#00ff03,#01ff00,#00ff0a,#45ff00,#29ff00,#52ff00,#84ff00,#43ff00,#5aff00,#74ff00,#97ff00,#66ff00,#85ff00,#c6ff00,#d7ff00,#d0ff00,#c7ff00,#d9ff00,#fff500,#e5ff00,#ffe200,#ffbf00,#ffd900,#ffcc00,#ffc300,#ffa400,#ffbe00,#ffa600,#ff9900,#ff6800,#ff9600,#ff8500,#ffac00,#ffdf00,#ffbf00,#ff8f00,#ffab00,#ffbc00,#ffdb00,#ffcc00,#ff6b00,#ffa500,#ffac00,#ffca00,#ffe300,#fff300,#ffd200,#ffc600,#ffea00,#f6ff00,#eaff00,#ffff00,#b0ff00,#8fff00,#deff00,#a1ff00,#cfff00,#4bff00,#2fff00,#46ff00,#76ff00,#38ff00,#00ff08,#00ff1b,#00ff25,#00ff1a,#42ff00,#03ff00,#00ff37,#00ff2d,#00ff2f,#00ff2f,#00ff56,#00ff55,#00ff62,#00ff38,#00ff5e,#00ff72,#00ff89,#00ffb9,#00ffc3,#00ffc2,#00ffa9,#00ffa7,#00ffd7,#00ffc3,#00ffff,#00ffe1,#00ffea,#00ffed,#00ffe9,#00e1ff,#00ceff,#00d7ff,#00d0ff,#00b9ff,#00c8ff,#00c9ff,#0090ff,#0097ff,#00a8ff,#00a5ff,#008cff,#008dff,#00b4ff,#0065ff,#009bff)"></i><i style="background:linear-gradient(90deg,#0055ff,#0082ff,#0060ff,#0066ff,#005fff,#007fff,#006fff,#006dff,#0083ff,#0061ff,#008bff,#0070ff,#0073ff,#008eff,#005aff,#0053ff,#0075ff,#008dff,#0090ff,#0065ff,#0082ff,#0072ff,#008eff,#0083ff,#0075ff,#0076ff,#0088ff,#009cff,#00b3ff,#005fff,#006cff,#007fff,#006eff,#0083ff,#0073ff,#007aff,#0072ff,#0096ff,#0093ff,#0081ff,#0078ff,#0077ff,#0066ff,#009fff,#0088ff,#006bff,#007aff,#007fff,#0079ff,#0087ff,#007eff,#0046ff,#0097ff,#0060ff,#008fff,#0050ff,#0067ff,#0081ff,#008dff,#008eff,#0081ff,#0087ff,#009aff,#0099ff,#0091ff,#0096ff,#00b1ff,#0088ff,#00bfff,#00b8ff,#00caff,#00dfff,#00eaff,#00ffeb,#00ffe0,#00ffef,#00b6ff,#00ffed,#00ffc4,#00ffa6,#00ffdb,#00ffaa,#00ffb4,#00ffa5,#00ff69,#00ff46,#00ff41,#00ff5d,#00ff3a,#00ff40,#00ff1d,#00ff17,#00ff21,#37ff00,#2dff00,#2dff00,#1cff00,#3eff00,#54ff00,#26ff00,#44ff00,#8fff00,#b0ff00,#a7ff00,#66ff00,#bcff00,#e9ff00,#d0ff00,#d2ff00,#fffc00,#f4ff00,#a7ff00,#ffe400,#ffc900,#fff000,#ff9d00,#ff9a00,#ffab00,#ffd700,#ff8a00,#ffad00,#ffdb00,#ffd700,#ffa700,#ff8d00,#ff4f00,#ff5900,#fdff00,#ff9900,#ff8d00,#ff8d00,#ffa000,#ffbe00,#ffc300,#ffec00,#ffec00,#ffbc00,#ffff00,#ffd600,#ffb600,#f7ff00,#fffc00,#baff00,#ebff00,#e0ff00,#a1ff00,#b8ff00,#9dff00,#79ff00,#2aff00,#62ff00,#82ff00,#43ff00,#05ff00,#00ff04,#00ff0f,#1dff00,#00ff21,#00ff09,#00ff15,#00ff44,#00ff45,#00ff19,#00ff33,#00ff6c,#00ff34,#00ff99,#00ff81,#00ff6d,#00ff57,#00ff94,#00ffb7,#00ffbd,#00ffc9,#00ffc2,#00ffac,#00ffad,#00ffcb,#00ffcd,#00ffd2,#00feff,#00fff8,#00f4ff,#00ccff,#00caff,#00ccff,#00bbff,#00c0ff,#009dff,#00d1ff,#0098ff,#008aff,#0097ff,#008dff,#00c3ff,#007eff,#0094ff,#0090ff,#0077ff)"></i><i style="background:linear-gradient(90deg,#0083ff,#0075ff,#008cff,#0083ff,#007eff,#009dff,#0079ff,#0053ff,#0065ff,#006bff,#007bff,#006dff,#0092ff,#008fff,#0085ff,#0076ff,#0086ff,#0080ff,#009bff,#0093ff,#007eff,#0054ff,#0054ff,#0080ff,#0071ff,#00a2ff,#0090ff,#0086ff,#008fff,#008bff,#0067ff,#0072ff,#0093ff,#0082ff,#0081ff,#0086ff,#0063ff,#0073ff,#0055ff,#006fff,#006bff,#0072ff,#009eff,#0087ff,#0078ff,#006aff,#0072ff,#0092ff,#0078ff,#009eff,#006eff,#0078ff,#0072ff,#0077ff,#00abff,#0070ff,#0074ff,#006bff,#008dff,#009aff,#0099ff,#00c3ff,#0095ff,#00abff,#00a2ff,#0098ff,#00a2ff,#00a2ff,#00b0ff,#00d8ff,#00faff,#00e4ff,#00cfff,#00fff6,#00fff3,#00ffd2,#00fffd,#00ffe7,#00ffc0,#00ffa4,#00ffc6,#00ff73,#00ff95,#00ff91,#00ff79,#00ff64,#00ff4d,#00ff84,#00ff39,#00ff3a,#13ff00,#00ff2c,#0dff00,#08ff00,#1fff00,#29ff00,#3dff00,#3aff00,#35ff00,#7bff00,#8eff00,#93ff00,#c2ff00,#e8ff00,#97ff00,#ffe800,#ddff00,#dbff00,#f4ff00,#ffe500,#ff9700,#ffe000,#ffd600,#ff8900,#ffdd00,#ffc100,#ffaf00,#ffe400,#ffcc00,#ffde00,#ffd100,#ffd200,#ff4c00,#ff8600,#ffa500,#ffb700,#ff6d00,#ffb900,#ffbd00,#ffb900,#ffc100,#ff9600,#fff200,#ffe200,#ff7a00,#fdff00,#d3ff00,#ffaa00,#ffdb00,#ffd200,#fffa00,#ffda00,#afff00,#b3ff00,#ebff00,#caff00,#d4ff00,#95ff00,#91ff00,#38ff00,#48ff00,#6cff00,#43ff00,#4eff00,#54ff00,#49ff00,#a0ff00,#09ff00,#3dff00,#00ff2b,#00ff34,#00ff0e,#00ff11,#00ff4c,#00ff58,#00ff41,#00ff76,#00ff96,#00ff77,#00ff6d,#00ffb2,#00ffbf,#00ffb3,#00ffd1,#00ffc1,#00ffa1,#00ffcb,#00ffe0,#00ffbb,#00ffbe,#00ffd3,#00fcff,#00f1ff,#00e0ff,#00c7ff,#00d6ff,#00c0ff,#00c5ff,#00d3ff,#00aaff,#00beff,#00b5ff,#00aeff,#00afff,#00acff,#00adff,#0083ff,#008aff,#0098ff)"></i><i style="background:linear-gradient(90deg,#008bff,#008dff,#007bff,#0074ff,#008dff,#006dff,#0082ff,#0089ff,#0092ff,#0062ff,#009eff,#0084ff,#0071ff,#0084ff,#006dff,#004dff,#0097ff,#0077ff,#008dff,#005fff,#007bff,#005cff,#007bff,#0084ff,#0095ff,#0068ff,#007cff,#005fff,#00b0ff,#008bff,#0060ff,#004cff,#0083ff,#0089ff,#007cff,#0088ff,#0066ff,#0077ff,#0051ff,#0066ff,#0092ff,#0060ff,#0072ff,#0086ff,#0070ff,#0090ff,#0067ff,#0084ff,#007fff,#0080ff,#006cff,#0073ff,#006dff,#0089ff,#00a5ff,#0074ff,#0071ff,#0082ff,#007cff,#0093ff,#007fff,#009cff,#00a5ff,#0096ff,#0092ff,#00caff,#0092ff,#00a4ff,#00d9ff,#00deff,#00f8ff,#00e2ff,#00e5ff,#00ecff,#00ffd0,#00ffd1,#00ffdf,#00ffb1,#00ffb8,#00ffa5,#00ffca,#00ffc2,#00ff5c,#00ff84,#00ff57,#00ff72,#00ff54,#00ff38,#00ff09,#00ff2c,#00ff16,#00ff1b,#03ff00,#21ff00,#26ff00,#2eff00,#37ff00,#00ff0c,#89ff00,#6cff00,#78ff00,#7aff00,#b4ff00,#b8ff00,#b5ff00,#b8ff00,#8fff00,#b9ff00,#bcff00,#d4ff00,#ffc700,#fff900,#ffd000,#ff9700,#ff9200,#ffac00,#ffba00,#ffd300,#ffad00,#ffa500,#ff9600,#ffcb00,#ff9e00,#ff7100,#ffba00,#ff9000,#ffdc00,#ffa200,#ff8000,#ff9300,#ffc100,#ffaf00,#ff9e00,#ffc600,#ffe000,#ffc300,#ffbe00,#efff00,#ffeb00,#dfff00,#ffa200,#ffed00,#c6ff00,#ffea00,#e8ff00,#cfff00,#74ff00,#a6ff00,#acff00,#6dff00,#3dff00,#16ff00,#3bff00,#77ff00,#27ff00,#1cff00,#00ff28,#00ff0a,#0dff00,#04ff00,#00ff47,#00ff12,#00ff32,#00ff10,#00ff3f,#00ff46,#00ff2a,#00ff7a,#00ff91,#00ff79,#00ff64,#00ffaf,#00ff97,#00ffb7,#00ff8d,#00ffe1,#00fcff,#00ffc4,#00ffd2,#00ffe5,#00deff,#00ffed,#00e2ff,#00e7ff,#00c5ff,#00b9ff,#00beff,#00c8ff,#00c9ff,#009fff,#00baff,#00b3ff,#0086ff,#007aff,#007aff,#0073ff,#007cff,#007dff,#0085ff)"></i><i style="background:linear-gradient(90deg,#0070ff,#006bff,#0078ff,#007fff,#006aff,#006fff,#009bff,#0093ff,#0091ff,#007eff,#0095ff,#0083ff,#0061ff,#0084ff,#0059ff,#0052ff,#0080ff,#0051ff,#007bff,#0089ff,#0076ff,#005cff,#0076ff,#008cff,#0081ff,#0066ff,#007fff,#006fff,#0083ff,#007cff,#0075ff,#007eff,#0075ff,#009bff,#005cff,#0099ff,#005bff,#0084ff,#0067ff,#009eff,#009aff,#0073ff,#008eff,#007bff,#005fff,#006bff,#006eff,#007aff,#0058ff,#0063ff,#0085ff,#0075ff,#006dff,#0077ff,#009cff,#007fff,#00a1ff,#008dff,#0082ff,#0097ff,#009bff,#0092ff,#009fff,#007cff,#009eff,#00ddff,#00a8ff,#00c0ff,#00d6ff,#00e7ff,#00d2ff,#00eaff,#00d3ff,#00fffe,#00ffe1,#00ffe8,#00ffe0,#00ffc4,#00ffb7,#00ffa7,#00ffaf,#00ff76,#00ff81,#00ff5b,#00ff70,#00ff41,#00ff3d,#00ff37,#00ff52,#00ff09,#02ff00,#10ff00,#3aff00,#0cff00,#00ff03,#28ff00,#1bff00,#3eff00,#73ff00,#24ff00,#a1ff00,#a0ff00,#daff00,#bcff00,#a0ff00,#ddff00,#fff100,#ffff00,#ffe200,#ffc300,#ff9c00,#e8ff00,#ff9f00,#ffc100,#ff9d00,#ffe700,#ffd700,#ffab00,#ffb700,#ffcf00,#ff6100,#ff9c00,#ffa000,#ffc800,#ffaa00,#ff6000,#ff6600,#ff9a00,#ffbc00,#ff4100,#ffb400,#ffb800,#ffc500,#ff4300,#ff9500,#ffdb00,#ffde00,#ffcf00,#f5ff00,#f4ff00,#ff7c00,#fff500,#b2ff00,#e2ff00,#ebff00,#8dff00,#87ff00,#a3ff00,#79ff00,#7aff00,#7dff00,#86ff00,#4fff00,#66ff00,#22ff00,#44ff00,#1dff00,#2dff00,#26ff00,#11ff00,#00ff3a,#00ff36,#00ff48,#00ff2e,#00ff25,#00ff77,#00ff4a,#00ff6d,#00ff7a,#00ff8d,#00ff64,#00ff8f,#00ff5e,#00ff8c,#00ff88,#00ffb6,#00ffcb,#00ffe3,#00ffe6,#00e6ff,#00ffec,#00f5ff,#00ffd2,#00fffd,#00f6ff,#00e1ff,#00f2ff,#00d1ff,#00a9ff,#00bdff,#00b4ff,#008cff,#00b8ff,#0088ff,#007fff,#006fff,#009bff,#0090ff,#0098ff)"></i><i style="background:linear-gradient(90deg,#005dff,#0075ff,#0068ff,#008cff,#007fff,#007cff,#006dff,#0077ff,#0083ff,#009dff,#007eff,#0087ff,#0071ff,#007bff,#007bff,#0091ff,#005bff,#0096ff,#008eff,#007eff,#0051ff,#0060ff,#009aff,#0081ff,#006fff,#0061ff,#005aff,#007eff,#0090ff,#005bff,#0078ff,#0079ff,#007aff,#006fff,#0062ff,#0088ff,#0087ff,#005bff,#0074ff,#007fff,#007cff,#0065ff,#006bff,#0088ff,#0049ff,#008cff,#0068ff,#0086ff,#0057ff,#0068ff,#0078ff,#005aff,#0047ff,#004fff,#0091ff,#007bff,#0098ff,#0080ff,#0080ff,#0095ff,#008dff,#0099ff,#00a3ff,#0096ff,#00bcff,#00daff,#00cbff,#00d1ff,#00cfff,#00b0ff,#00caff,#00ffe3,#00e7ff,#00fdff,#00ffeb,#00fff8,#00ffec,#00ffbd,#00ffe4,#00ffb6,#00ffa2,#00ff8c,#00ff5b,#00ff8b,#00ff77,#00ff47,#00ff46,#00ff1a,#00ff47,#00ff16,#19ff00,#28ff00,#00ff16,#21ff00,#04ff00,#13ff00,#1cff00,#5dff00,#4bff00,#5aff00,#abff00,#53ff00,#a6ff00,#b2ff00,#c4ff00,#d1ff00,#dbff00,#fffe00,#fff200,#ffe900,#ff9000,#f8ff00,#ffc200,#ffbe00,#ff9b00,#ff8a00,#ff6800,#ff9300,#ffbd00,#ffd700,#ff6500,#ff8900,#ffa000,#ffa800,#ff9c00,#ff8d00,#ff7e00,#ff9f00,#ff8300,#ff4c00,#ffd900,#ff7600,#ffc800,#ffaa00,#ff8a00,#ffd500,#ffba00,#fff600,#ffe300,#ffee00,#ffe400,#d5ff00,#dbff00,#f4ff00,#f8ff00,#91ff00,#7eff00,#9bff00,#84ff00,#91ff00,#9cff00,#6cff00,#1eff00,#10ff00,#27ff00,#57ff00,#0fff00,#00ff1e,#05ff00,#0fff00,#1bff00,#00ff59,#00ff1b,#00ff33,#00ff5d,#00ff5e,#00ff5c,#00ff47,#00ff83,#00ff9b,#00ff91,#00ff85,#00ff9c,#00ffba,#00ffc1,#00ffb4,#00ffbf,#00ffea,#00ffca,#00ffd1,#00ffcc,#00ffde,#00fff1,#00d7ff,#00fff2,#00bfff,#00d6ff,#00d1ff,#00a3ff,#009dff,#008fff,#0094ff,#008aff,#009aff,#007aff,#00adff,#0075ff,#007bff,#0099ff)"></i><i style="background:linear-gradient(90deg,#008aff,#004cff,#0067ff,#0077ff,#006cff,#00b1ff,#0087ff,#009cff,#006dff,#007aff,#007bff,#006eff,#0076ff,#0058ff,#0075ff,#005fff,#0046ff,#008bff,#0096ff,#007dff,#0082ff,#005eff,#0078ff,#007dff,#0076ff,#007cff,#0058ff,#006bff,#0064ff,#0069ff,#006bff,#007bff,#0069ff,#0046ff,#0090ff,#0076ff,#0085ff,#0077ff,#0088ff,#0065ff,#0063ff,#00a3ff,#008cff,#0053ff,#004bff,#0083ff,#008aff,#006fff,#0062ff,#0097ff,#0084ff,#007dff,#007dff,#0048ff,#007eff,#005fff,#0097ff,#006fff,#0070ff,#00d7ff,#00b3ff,#00a0ff,#008cff,#00c2ff,#00d3ff,#00c5ff,#00d6ff,#00d6ff,#00a6ff,#00b2ff,#00fcff,#00fff1,#00f8ff,#00e6ff,#00ffee,#00ffad,#00ffc8,#00ffc0,#00ff9e,#00ffac,#00ff8c,#00ffcd,#00ff7d,#00ffa9,#00ff7a,#00ff49,#00ff3a,#00ff48,#00ff66,#00ff28,#00ff08,#07ff00,#00ff02,#25ff00,#0eff00,#34ff00,#57ff00,#aaff00,#78ff00,#74ff00,#77ff00,#b0ff00,#a1ff00,#b3ff00,#b5ff00,#c0ff00,#ffcf00,#c5ff00,#ffe000,#ffbc00,#ffac00,#ffad00,#ffce00,#ff7a00,#ffa500,#ffc200,#ff9500,#ff9500,#ffd500,#ff6800,#ffa300,#ff9200,#ff5800,#ff4300,#ff9200,#ffad00,#ff9200,#ffbc00,#ffc000,#ff6200,#ff6800,#ff9e00,#ff9b00,#ffb400,#ff7b00,#ffb800,#ffe200,#ffc200,#ffee00,#ffed00,#ffe500,#ffff00,#8eff00,#eeff00,#cfff00,#9eff00,#baff00,#69ff00,#0fff00,#b0ff00,#55ff00,#60ff00,#7dff00,#25ff00,#07ff00,#33ff00,#13ff00,#0cff00,#1fff00,#00ff27,#00ff03,#00ff71,#00ff3f,#00ff0b,#00ff4b,#00ff4b,#00ff6e,#00ff6b,#00ff6c,#00ff71,#00ff8e,#00ffad,#00ff96,#00ffd1,#00ffac,#00ffc7,#00ffd1,#00fdff,#00ffdc,#00ffe5,#00ebff,#00fff2,#00e7ff,#00f2ff,#00fcff,#00eeff,#00d1ff,#0099ff,#00b5ff,#00b4ff,#00a7ff,#009aff,#008cff,#00a6ff,#0093ff,#0097ff,#0086ff,#008cff,#0088ff)"></i><i style="background:linear-gradient(90deg,#0066ff,#007fff,#0077ff,#008aff,#008aff,#00a5ff,#006dff,#0091ff,#0085ff,#0071ff,#008cff,#0096ff,#006bff,#006eff,#0072ff,#006fff,#0069ff,#0082ff,#0086ff,#0079ff,#008bff,#008cff,#0093ff,#0086ff,#008dff,#0082ff,#0069ff,#0074ff,#007dff,#0062ff,#0066ff,#0066ff,#0069ff,#007bff,#0070ff,#005eff,#007dff,#0081ff,#0098ff,#006aff,#0086ff,#008dff,#0073ff,#0076ff,#006dff,#0085ff,#0096ff,#006dff,#0076ff,#007eff,#0073ff,#0095ff,#0051ff,#0054ff,#0082ff,#0071ff,#00a1ff,#0086ff,#00a6ff,#0095ff,#00afff,#009bff,#0081ff,#0089ff,#00abff,#00c8ff,#00d3ff,#00cfff,#00c0ff,#00bfff,#00deff,#00ecff,#00fffe,#00ffef,#00ffe2,#00ff99,#00ffd9,#00ffeb,#00ffa0,#00ffbf,#00ff73,#00ffaa,#00ff71,#00ff6c,#00ff54,#00ff27,#00ff62,#00ff6a,#00ff5d,#00ff1e,#14ff00,#00ff22,#33ff00,#22ff00,#33ff00,#56ff00,#8bff00,#71ff00,#6cff00,#44ff00,#b2ff00,#b3ff00,#98ff00,#86ff00,#d6ff00,#d4ff00,#faff00,#fff900,#ffbb00,#fff800,#ffb900,#ffb700,#ffd700,#ff9800,#ff9c00,#fff500,#ff7a00,#ffc500,#ff8f00,#ffbf00,#ffa300,#ff9600,#ff8900,#ff8000,#ff6000,#ff4b00,#ff3700,#ff6a00,#ff9800,#ff5f00,#ffb400,#ff7e00,#ffa100,#ff7600,#ff8100,#ff7900,#ff9800,#ffdf00,#ffff00,#f5ff00,#f2ff00,#ffd500,#d3ff00,#deff00,#eeff00,#b1ff00,#c4ff00,#a3ff00,#85ff00,#33ff00,#4eff00,#70ff00,#78ff00,#50ff00,#72ff00,#85ff00,#05ff00,#00ff12,#00ff18,#00ff12,#1cff00,#00ff53,#00ff20,#00ff04,#00ff18,#00ff2f,#00ff83,#00ff63,#00ff70,#00ff46,#00ffb8,#00ff7e,#00ff90,#00ff8d,#00ff98,#00ffd6,#00ffb8,#00ffe7,#00ffee,#00ffdc,#00ffd0,#00fffb,#00fff0,#00faff,#00fbff,#00d7ff,#00ecff,#00d6ff,#00d0ff,#00a0ff,#00bcff,#00aaff,#008dff,#00bfff,#00a2ff,#009bff,#00aaff,#008bff,#007dff)"></i><i style="background:linear-gradient(90deg,#0088ff,#005dff,#007fff,#0096ff,#0084ff,#0059ff,#0078ff,#0088ff,#007fff,#006cff,#004eff,#0088ff,#007bff,#006aff,#0097ff,#0073ff,#006aff,#0081ff,#005eff,#0075ff,#008aff,#0070ff,#007aff,#008aff,#008aff,#0075ff,#0084ff,#007bff,#0087ff,#0085ff,#0065ff,#003fff,#0068ff,#008bff,#006eff,#008eff,#0051ff,#0080ff,#0069ff,#0078ff,#0050ff,#0086ff,#006eff,#007bff,#007cff,#006cff,#00acff,#00a4ff,#008aff,#0075ff,#007fff,#007eff,#0086ff,#0073ff,#008bff,#0093ff,#007aff,#008fff,#0081ff,#005fff,#00b0ff,#00a4ff,#00a3ff,#00b9ff,#0098ff,#00b8ff,#00c5ff,#00daff,#00e7ff,#00e3ff,#00fffd,#00e1ff,#00e7ff,#00fff4,#00ffeb,#00fff5,#00ffaf,#00ffe3,#00ffb1,#00ff9e,#00ff65,#00ff95,#00ff71,#00ff7b,#00ff76,#00ff44,#00ff49,#00ff34,#00ff56,#00ff09,#0aff00,#00ff17,#16ff00,#2eff00,#34ff00,#4fff00,#6aff00,#63ff00,#7aff00,#61ff00,#a0ff00,#e3ff00,#d0ff00,#58ff00,#84ff00,#c4ff00,#feff00,#edff00,#ffe900,#ffd500,#ffee00,#ffcd00,#ffad00,#ffb800,#ff9600,#ffba00,#ffbe00,#ffb400,#ffe200,#ffb700,#ff6500,#ffd600,#ff7d00,#ff7800,#ffd300,#ff8400,#ff8600,#ff8700,#ffdb00,#ff6e00,#ff5a00,#ff6200,#ffb100,#ff5e00,#ffab00,#ff7900,#ffb100,#ffd800,#f8ff00,#feff00,#beff00,#d1ff00,#efff00,#9dff00,#f0ff00,#b4ff00,#a5ff00,#f8ff00,#9eff00,#38ff00,#7cff00,#8aff00,#53ff00,#4aff00,#37ff00,#2aff00,#00ff0f,#06ff00,#32ff00,#01ff00,#00ff0c,#00ff03,#00ff2d,#00ff25,#00ff56,#00ff2b,#00ff63,#00ff72,#00ff8e,#00ff91,#00ff7a,#00ff8e,#00ffae,#00ffb4,#00ffbb,#00ffac,#00ffde,#00fffc,#00f7ff,#00ffd0,#00ffc4,#00ffe3,#00ebff,#00efff,#00e4ff,#00e7ff,#00e5ff,#00d2ff,#00abff,#00ecff,#00c4ff,#00c3ff,#00a2ff,#00a4ff,#007bff,#0084ff,#0081ff,#0081ff,#0066ff)"></i><i style="background:linear-gradient(90deg,#0068ff,#0065ff,#006fff,#0088ff,#0080ff,#0077ff,#0088ff,#0075ff,#0080ff,#0095ff,#0070ff,#0067ff,#0073ff,#0067ff,#0077ff,#0079ff,#005cff,#0082ff,#006cff,#005cff,#009bff,#005eff,#0070ff,#0082ff,#007eff,#0082ff,#0067ff,#0077ff,#008cff,#0080ff,#0099ff,#0072ff,#0066ff,#008bff,#0094ff,#00a9ff,#0068ff,#0080ff,#0086ff,#00a5ff,#0093ff,#00b5ff,#0097ff,#0070ff,#007dff,#0076ff,#007eff,#008cff,#006bff,#006dff,#0084ff,#0072ff,#00acff,#0082ff,#0068ff,#006cff,#0059ff,#007fff,#0082ff,#007aff,#0089ff,#007fff,#0090ff,#00c5ff,#00a1ff,#008aff,#00baff,#00dcff,#00fffe,#00fff6,#00eeff,#00f7ff,#00ffc7,#00ffe2,#00fff5,#00ffe5,#00fff0,#00ffd1,#00ffb5,#00ff84,#00ffbe,#00ff82,#00ff9c,#00ff6d,#00ff68,#00ff26,#00ff44,#00ff29,#00ff29,#00ff10,#07ff00,#00ff0c,#00ff1d,#4dff00,#56ff00,#55ff00,#59ff00,#94ff00,#60ff00,#83ff00,#85ff00,#c4ff00,#c6ff00,#75ff00,#dbff00,#cbff00,#ebff00,#f3ff00,#ffff00,#ffe900,#ffd300,#ffa600,#ff9a00,#ff6500,#ffaf00,#ff6700,#ffb900,#ff7900,#ffa400,#ff7500,#ffa800,#ffad00,#ff4100,#ffbc00,#ff6500,#ff3f00,#ffba00,#ffbb00,#ffc500,#ff6a00,#ff8300,#ffa600,#ffd100,#ffd600,#ffb200,#ff8b00,#ff9e00,#ffa300,#ffc200,#fdff00,#fffa00,#ffdc00,#f8ff00,#e9ff00,#f8ff00,#b7ff00,#e6ff00,#c8ff00,#8fff00,#83ff00,#64ff00,#81ff00,#32ff00,#27ff00,#20ff00,#38ff00,#00ff01,#55ff00,#01ff00,#00ff05,#16ff00,#00ff22,#00ff08,#00ff2f,#00ff51,#00ff62,#00ff79,#00ff5e,#00ffb0,#00ff9a,#00ff8a,#00ff9b,#00ff84,#00ff9e,#00ffbf,#00ff81,#00ffb3,#00fdff,#00fff2,#00ffb8,#00edff,#00f6ff,#00f4ff,#00eeff,#00e0ff,#00c0ff,#00d7ff,#00c0ff,#00a3ff,#00bdff,#00b9ff,#0064ff,#0095ff,#00aeff,#009aff,#008fff,#007fff,#008cff,#005cff)"></i><i style="background:linear-gradient(90deg,#0097ff,#0076ff,#008aff,#0089ff,#00bdff,#0060ff,#008bff,#0062ff,#004bff,#008aff,#006dff,#0079ff,#0075ff,#0086ff,#0077ff,#0071ff,#0074ff,#005cff,#007cff,#006cff,#007eff,#008fff,#007eff,#0085ff,#007dff,#0082ff,#0063ff,#0087ff,#0079ff,#0088ff,#007aff,#0088ff,#007dff,#0059ff,#0096ff,#007cff,#00a1ff,#006bff,#007eff,#008eff,#0099ff,#0092ff,#0091ff,#009cff,#006fff,#0062ff,#0079ff,#0078ff,#008bff,#009cff,#0096ff,#0072ff,#00a5ff,#0074ff,#0083ff,#009bff,#00a3ff,#00b9ff,#0075ff,#00abff,#009bff,#0089ff,#00a9ff,#00a1ff,#009dff,#00c1ff,#0094ff,#00d5ff,#00c1ff,#00e3ff,#00ffd5,#00fff5,#00e6ff,#00ffb5,#00ffda,#00ffbb,#00ffdc,#00ffe9,#00ff89,#00ffa3,#00ffac,#00ff82,#00ffae,#00ff51,#00ff71,#00ff16,#00ff55,#00ff3e,#00ff56,#00ff07,#1fff00,#25ff00,#37ff00,#41ff00,#8eff00,#31ff00,#83ff00,#20ff00,#68ff00,#9eff00,#a2ff00,#aeff00,#beff00,#6cff00,#b6ff00,#ffe900,#bdff00,#e7ff00,#fffd00,#ffc900,#ffbf00,#ff9400,#ffb400,#ff9700,#ffc200,#ff7800,#ffb900,#ff6700,#ff8000,#ff3300,#ffaa00,#ff5600,#ff7400,#ff8100,#ff4600,#ff6700,#ffab00,#ff9400,#ffa900,#ffad00,#ffbc00,#ffd200,#ffaf00,#ffad00,#ffc800,#ff9b00,#ffbb00,#efff00,#ffc700,#feff00,#ffb800,#fff800,#fff300,#aeff00,#baff00,#74ff00,#d1ff00,#beff00,#42ff00,#37ff00,#3bff00,#48ff00,#37ff00,#35ff00,#2eff00,#2dff00,#21ff00,#0dff00,#33ff00,#00ff15,#00ff0b,#00ff16,#00ff15,#00ff49,#00ff61,#00ff3f,#00ff32,#00ff52,#00ff7e,#00ffa5,#00ff6f,#00ff9d,#00ff95,#00ffbe,#00ffa5,#00ffd4,#00ffcb,#00fffb,#00fff4,#00ffd3,#00fffd,#00fbff,#00f1ff,#00ffed,#00efff,#00beff,#00ccff,#00bbff,#00b5ff,#00ceff,#00b5ff,#0095ff,#00a7ff,#0092ff,#008bff,#0096ff,#00a7ff,#0092ff,#007bff)"></i><i style="background:linear-gradient(90deg,#00abff,#006dff,#0067ff,#0097ff,#008cff,#0063ff,#008bff,#007aff,#0082ff,#0070ff,#0098ff,#0076ff,#008cff,#0093ff,#005eff,#007bff,#0067ff,#008bff,#0074ff,#0071ff,#0087ff,#0092ff,#0096ff,#007aff,#007bff,#006dff,#006fff,#0096ff,#006dff,#005eff,#0064ff,#008dff,#007eff,#0073ff,#008aff,#004bff,#006cff,#0066ff,#0084ff,#0076ff,#00a2ff,#0086ff,#0069ff,#0087ff,#007dff,#0062ff,#008bff,#009fff,#008cff,#0057ff,#009eff,#007fff,#0087ff,#0068ff,#00a4ff,#0092ff,#009bff,#008cff,#0087ff,#00beff,#0095ff,#007cff,#0087ff,#00aaff,#00d8ff,#00dfff,#00c5ff,#00eeff,#00b7ff,#00f9ff,#00ffd5,#00f1ff,#00ffdb,#00ffde,#00ffc1,#00ffe0,#00ff99,#00ffaf,#00ff99,#00ffaa,#00ffd0,#00ff7b,#00ff6e,#00ff22,#00ff4f,#00ff44,#00ff3d,#02ff00,#00ff34,#00ff28,#00ff25,#1aff00,#00ff0f,#07ff00,#58ff00,#5eff00,#6bff00,#4eff00,#32ff00,#5aff00,#8cff00,#6bff00,#aaff00,#68ff00,#8bff00,#efff00,#c2ff00,#fffb00,#ffe000,#e0ff00,#ffc500,#ff8600,#ffc100,#ff9a00,#eeff00,#ff7c00,#ffa200,#ff5000,#ff6000,#ff7900,#ffc600,#ffaf00,#ffab00,#ff3500,#ff7200,#ffa200,#ffde00,#ff9b00,#ffa500,#ff6600,#ffd100,#ff9800,#ffcb00,#ff9200,#ffb200,#ffd200,#ffb500,#ffbf00,#ff8000,#f3ff00,#ffd600,#f8ff00,#fff000,#bbff00,#ffef00,#abff00,#dcff00,#abff00,#71ff00,#98ff00,#3bff00,#70ff00,#34ff00,#28ff00,#57ff00,#35ff00,#2eff00,#21ff00,#0cff00,#00ff19,#00ff2f,#00ff0f,#00ff26,#00ff0c,#00ff48,#00ff5d,#00ff83,#00ff42,#00ff43,#00ff6a,#00ff6c,#00ff7e,#00ffb9,#00ffb8,#00ffc9,#00ff9c,#00ffb1,#00ffe0,#00ffa3,#00ffe3,#00fffd,#00f6ff,#00f7ff,#00d9ff,#00ffe4,#00e0ff,#00c7ff,#00c3ff,#00beff,#00bdff,#00bfff,#00beff,#00acff,#008eff,#0082ff,#0067ff,#0077ff,#00a7ff,#009fff)"></i><i style="background:linear-gradient(90deg,#009aff,#0066ff,#008bff,#0092ff,#0085ff,#008aff,#0082ff,#0062ff,#0054ff,#0054ff,#007fff,#0086ff,#008aff,#008aff,#007aff,#006aff,#008cff,#008eff,#00a4ff,#00a2ff,#0085ff,#006fff,#0060ff,#0072ff,#0080ff,#007fff,#009aff,#008bff,#0089ff,#0079ff,#0080ff,#00a7ff,#0083ff,#0065ff,#005aff,#0096ff,#007dff,#0087ff,#0067ff,#0071ff,#0086ff,#0067ff,#0064ff,#0067ff,#007cff,#004cff,#0072ff,#006dff,#006fff,#0092ff,#0088ff,#006dff,#0091ff,#00acff,#0084ff,#0070ff,#0088ff,#00a4ff,#00b5ff,#00a9ff,#0084ff,#00c5ff,#00b9ff,#009cff,#0097ff,#00b6ff,#00a8ff,#00dcff,#00d3ff,#00e6ff,#00ffe8,#00e8ff,#00f8ff,#00e7ff,#00fffd,#00ffdc,#00ffb2,#00ffb2,#00ffc7,#00ff94,#00ffc1,#00ff85,#00ff86,#00ff5e,#00ff70,#00ff31,#00ff0d,#0dff00,#00ff34,#00ff00,#00ff1b,#00ff09,#00ff05,#3bff00,#69ff00,#52ff00,#4dff00,#57ff00,#60ff00,#5fff00,#8bff00,#88ff00,#72ff00,#ceff00,#e4ff00,#ffee00,#e1ff00,#ffc300,#ffcf00,#ffcb00,#e8ff00,#ffb700,#ffcf00,#ff4900,#fff800,#ff7700,#ffc100,#ff9900,#ffe200,#ff8b00,#ffb000,#ff6000,#ffa300,#ff7900,#ff9000,#ffa900,#ff7500,#ffa400,#f8ff00,#ffb600,#ffab00,#ff6e00,#ff6600,#ffa800,#ff7200,#ffb500,#ffd100,#ffbf00,#fff300,#ffce00,#ffbf00,#ffc300,#f3ff00,#f8ff00,#faff00,#c6ff00,#a1ff00,#c7ff00,#a6ff00,#98ff00,#bdff00,#2cff00,#6fff00,#25ff00,#2eff00,#00ff08,#4cff00,#00ff2e,#12ff00,#00ff35,#26ff00,#00ff0d,#00ff37,#00ff2c,#00ff1f,#00ff3e,#00ff62,#00ff23,#00ff4e,#00ff70,#00ff93,#00ff94,#00ffbb,#00ffcd,#00ffaa,#00ff84,#00ffbb,#00ffc7,#00ffb2,#00fff8,#00ffea,#00fdff,#00ddff,#00fffd,#00fcff,#00edff,#00d8ff,#00aaff,#00cbff,#00bdff,#00c0ff,#00aeff,#0098ff,#00c2ff,#0098ff,#007bff,#008aff,#007dff,#008aff)"></i><i style="background:linear-gradient(90deg,#007dff,#0068ff,#0084ff,#0095ff,#0092ff,#0085ff,#00a4ff,#0073ff,#0076ff,#0057ff,#006cff,#0096ff,#005fff,#0073ff,#007fff,#0095ff,#0078ff,#0069ff,#0080ff,#0096ff,#0099ff,#0081ff,#0066ff,#005dff,#007bff,#0084ff,#006eff,#007cff,#005aff,#007fff,#0067ff,#0089ff,#0082ff,#0064ff,#0051ff,#0097ff,#0089ff,#0082ff,#006eff,#005bff,#007dff,#0084ff,#0056ff,#006aff,#006fff,#0066ff,#0083ff,#0066ff,#0037ff,#007dff,#007eff,#005aff,#007cff,#008dff,#00aaff,#0092ff,#00a1ff,#0093ff,#009aff,#0083ff,#0081ff,#00bbff,#00baff,#00a6ff,#0095ff,#00adff,#00c6ff,#00d4ff,#00edff,#00f7ff,#00c5ff,#00fff3,#00ffec,#00e2ff,#00fffd,#00ffcb,#00ffb2,#00ffbf,#00ffd0,#00ff9f,#00ff96,#00ff6a,#00ff80,#00ff5a,#00ff67,#00ff47,#00ff61,#00ff35,#00ff03,#00ff15,#00ff18,#05ff00,#00ff08,#15ff00,#58ff00,#a8ff00,#61ff00,#3fff00,#74ff00,#acff00,#7eff00,#b5ff00,#8aff00,#c2ff00,#d4ff00,#bcff00,#fff200,#ffdd00,#f2ff00,#ffae00,#ffff00,#ff9500,#ffae00,#ff3700,#ffa600,#ff9300,#ffee00,#ffb100,#ffa700,#ff7000,#ffa500,#ffbd00,#ff5600,#ffa600,#ff8000,#f9ff00,#ff3c00,#ff4c00,#ffb000,#ff6300,#ffc100,#ffbd00,#ff9300,#ff9d00,#ffa000,#ffa000,#fff400,#ffd100,#ffef00,#f2ff00,#ffcb00,#f8ff00,#ceff00,#ccff00,#b6ff00,#eaff00,#a0ff00,#d5ff00,#64ff00,#a6ff00,#9fff00,#a0ff00,#37ff00,#50ff00,#45ff00,#00ff0d,#00ff0e,#00ff03,#00ff46,#00ff3f,#00ff08,#0dff00,#00ff40,#00ff1c,#00ff50,#00ff6a,#00ff73,#00ff7c,#00ff58,#00ff63,#00ff6d,#00ff62,#00ffa9,#00ffbd,#00ffcd,#00ff90,#00ffd1,#00ffb3,#00ffe6,#00f3ff,#00fff9,#00ffed,#00ffe0,#00eeff,#00e8ff,#00d3ff,#00b7ff,#00b9ff,#00aaff,#00c6ff,#009fff,#00a1ff,#0089ff,#0089ff,#0085ff,#0077ff,#0088ff,#0089ff,#008fff)"></i><i style="background:linear-gradient(90deg,#005fff,#0060ff,#005dff,#0081ff,#009aff,#0078ff,#0078ff,#0064ff,#0077ff,#007aff,#0058ff,#0082ff,#0082ff,#0071ff,#007eff,#0095ff,#007fff,#0059ff,#0078ff,#00a4ff,#0069ff,#009bff,#0078ff,#0065ff,#0050ff,#0081ff,#0074ff,#006eff,#0069ff,#007aff,#004aff,#0070ff,#0065ff,#007fff,#0070ff,#0079ff,#0080ff,#006aff,#0061ff,#005fff,#0072ff,#009dff,#0097ff,#0096ff,#0079ff,#009aff,#0086ff,#0073ff,#007fff,#0087ff,#0051ff,#005aff,#006cff,#0088ff,#0083ff,#0081ff,#00a6ff,#00afff,#0081ff,#00bcff,#009aff,#00a7ff,#00c2ff,#00d2ff,#009fff,#00ccff,#00dfff,#00d6ff,#00e5ff,#00fff6,#00ffe6,#00ffe9,#00fff6,#00ffcf,#00ffce,#00ffbd,#00ffc7,#00ffb7,#00ffae,#00ff72,#00ff99,#00ff75,#00ff9f,#00ff8a,#00ff5b,#00ff51,#00ff3a,#00ff2b,#0cff00,#00ff2a,#00ff01,#35ff00,#3bff00,#29ff00,#48ff00,#8fff00,#6cff00,#bfff00,#6fff00,#dfff00,#deff00,#90ff00,#ceff00,#a1ff00,#c8ff00,#ffd800,#ffd000,#ffe600,#fff100,#ffc100,#ffe800,#ffb200,#ffb100,#ff9900,#ff6400,#ffd200,#ffe200,#ff9900,#ffd600,#ff8c00,#ffc000,#ff8700,#ff9900,#ff5a00,#ff8f00,#ff9900,#ff3d00,#ff8c00,#ff7300,#ff6a00,#ff9d00,#ff7700,#ff8f00,#ff9b00,#ffde00,#ff6c00,#ff8c00,#ff8900,#cdff00,#ffda00,#efff00,#fbff00,#fffb00,#ffe700,#a8ff00,#d0ff00,#93ff00,#76ff00,#67ff00,#86ff00,#9eff00,#acff00,#6cff00,#22ff00,#2dff00,#18ff00,#00ff03,#00ff1b,#00ff26,#00ff19,#00ff1d,#00ff13,#00ff2a,#00ff30,#00ff6c,#00ff77,#00ff48,#00ff6a,#00ffa3,#00ff77,#00ff7d,#00ff9f,#00ff94,#00ffcf,#00ffbe,#00ffc4,#00ffbe,#00ffbb,#00ffcd,#00fffa,#00e3ff,#00ffdd,#00feff,#00ceff,#00d9ff,#00efff,#00f0ff,#00a5ff,#00b4ff,#00c5ff,#00a8ff,#00bbff,#009fff,#0086ff,#009bff,#00a0ff,#009aff,#0084ff,#0076ff)"></i><i style="background:linear-gradient(90deg,#008bff,#0084ff,#0049ff,#003cff,#0065ff,#0071ff,#0075ff,#0056ff,#0078ff,#009bff,#0062ff,#0083ff,#0077ff,#0077ff,#007fff,#0098ff,#0084ff,#0082ff,#006fff,#007aff,#0089ff,#0077ff,#0072ff,#0076ff,#0075ff,#008fff,#0094ff,#0045ff,#0068ff,#0086ff,#007fff,#007fff,#0092ff,#008eff,#0090ff,#005cff,#0077ff,#0082ff,#009fff,#0071ff,#0062ff,#008aff,#0087ff,#00a6ff,#0074ff,#0091ff,#0068ff,#0094ff,#007fff,#009aff,#0051ff,#0076ff,#0075ff,#0075ff,#0099ff,#0094ff,#0078ff,#00a4ff,#008aff,#00a6ff,#006cff,#009eff,#00c0ff,#00e0ff,#00a8ff,#00eaff,#00d4ff,#00c2ff,#00f0ff,#00fffb,#00f9ff,#00ffdc,#00ffe8,#00ffb1,#00ffad,#00ffc5,#00ff9e,#00ffc2,#00ffa3,#00ff5f,#00ff7a,#00ff8f,#00ff79,#00ff7f,#00ff79,#00ff75,#00ff5b,#00ff2a,#00ff06,#00ff20,#0aff00,#19ff00,#3dff00,#32ff00,#4cff00,#71ff00,#8bff00,#90ff00,#7cff00,#b9ff00,#ddff00,#f2ff00,#f8ff00,#d1ff00,#eaff00,#fff800,#ffe200,#ffe900,#ff9700,#ff6f00,#ff7d00,#ffcd00,#ff9e00,#ff3800,#ff5200,#ffc900,#ffad00,#ff8100,#ffc700,#ff9d00,#ffcb00,#ff6400,#ffb400,#ff9e00,#ff7a00,#ff2100,#ff6200,#ff9600,#ffef00,#ff5500,#ff7a00,#ffe800,#ff5b00,#ff7400,#ffab00,#ff9f00,#ff8700,#ffaa00,#ffca00,#ffe200,#ffc900,#e2ff00,#fdff00,#c3ff00,#c6ff00,#c5ff00,#deff00,#7aff00,#a7ff00,#96ff00,#7bff00,#94ff00,#1dff00,#58ff00,#37ff00,#35ff00,#30ff00,#24ff00,#00ff19,#00ff3c,#00ff16,#00ff1c,#00ff32,#00ff58,#00ff45,#00ff90,#00ff7e,#00ff4b,#00ff84,#00ff97,#00ffa7,#00ffa1,#00ffb0,#00ffa6,#00ffb4,#00ffcd,#00ff98,#00ffca,#00ffc5,#00ffcd,#00ffe8,#00ffe1,#00c4ff,#00eaff,#00caff,#00f6ff,#00e5ff,#00b5ff,#00a4ff,#00bfff,#00b0ff,#00a5ff,#009dff,#00a3ff,#0095ff,#0085ff,#008bff,#008dff,#007fff)"></i><i style="background:linear-gradient(90deg,#0094ff,#007bff,#0074ff,#0068ff,#0060ff,#0086ff,#008bff,#0084ff,#0099ff,#007eff,#0088ff,#0081ff,#0066ff,#0069ff,#0067ff,#0093ff,#0063ff,#008bff,#0071ff,#008cff,#0083ff,#0072ff,#0052ff,#0058ff,#0080ff,#0084ff,#007dff,#006dff,#0078ff,#00a7ff,#0040ff,#0084ff,#007cff,#0081ff,#0078ff,#0083ff,#0077ff,#006cff,#0071ff,#0077ff,#004fff,#0086ff,#0076ff,#0086ff,#007fff,#007fff,#006cff,#0095ff,#0076ff,#008eff,#0090ff,#0075ff,#0077ff,#0075ff,#0094ff,#009cff,#006dff,#0093ff,#00c8ff,#00abff,#007fff,#00c6ff,#00cdff,#00cbff,#00b5ff,#00dfff,#00b2ff,#00e6ff,#00dfff,#00edff,#00fff4,#00ffdf,#00fffd,#00ffd1,#00ffc7,#00ffc7,#00ff79,#00ffa8,#00ff95,#00ff68,#00ff71,#00ff73,#00ff34,#00ff52,#00ff65,#00ff18,#00ff25,#12ff00,#24ff00,#00ff04,#00ff15,#2aff00,#1eff00,#4eff00,#5fff00,#18ff00,#31ff00,#5eff00,#79ff00,#b6ff00,#5cff00,#94ff00,#c1ff00,#aaff00,#e1ff00,#ffe900,#dfff00,#ffdc00,#ff9c00,#ff9500,#ffd400,#ffaa00,#ff9500,#ff6200,#ff9e00,#ffa200,#ff8b00,#ff7f00,#ffa200,#ffcc00,#ffa300,#ff7500,#ff5b00,#ffcf00,#ff7900,#ff7600,#ff9500,#ff7a00,#ff7000,#ff5000,#ff8e00,#ff9a00,#ff8200,#ffaf00,#ff9f00,#ff8d00,#ffd200,#ffea00,#ffc100,#ffcb00,#feff00,#f3ff00,#efff00,#a9ff00,#e3ff00,#faff00,#a0ff00,#aeff00,#d8ff00,#9bff00,#71ff00,#73ff00,#68ff00,#4cff00,#1dff00,#5eff00,#1bff00,#24ff00,#25ff00,#00ff11,#00ff0b,#00ff0a,#00ff50,#00ff3a,#00ff3f,#00ff4c,#00ff67,#00ff5b,#00ff80,#00ff7d,#00ff5c,#00ff8c,#00ffaa,#00ffa0,#00ffae,#00ffce,#00ffc6,#00ffbd,#00ffe3,#00ffea,#00e0ff,#00ffef,#00f2ff,#00e4ff,#00e2ff,#00d1ff,#00b1ff,#0092ff,#00b1ff,#00c6ff,#00b9ff,#009fff,#00b8ff,#0092ff,#00b2ff,#0084ff,#009aff,#0081ff,#0076ff)"></i><i style="background:linear-gradient(90deg,#0066ff,#0079ff,#008dff,#0070ff,#0083ff,#00acff,#0099ff,#0087ff,#009bff,#0063ff,#0089ff,#0081ff,#0085ff,#0061ff,#0072ff,#004aff,#008aff,#0095ff,#0096ff,#008cff,#0091ff,#0075ff,#007aff,#007cff,#0090ff,#0070ff,#0098ff,#0098ff,#0069ff,#0093ff,#008fff,#0091ff,#0086ff,#0087ff,#0094ff,#00a4ff,#0067ff,#0077ff,#007fff,#009cff,#009eff,#007fff,#0079ff,#008eff,#006bff,#00a0ff,#008dff,#0071ff,#0069ff,#0087ff,#0098ff,#0078ff,#0086ff,#00a4ff,#008eff,#0088ff,#0088ff,#009aff,#0090ff,#00a2ff,#00a8ff,#00b0ff,#00aeff,#00f4ff,#0099ff,#00e1ff,#00d0ff,#00efff,#00eaff,#00ffff,#00ffe0,#00fcff,#00ffd4,#00ffc9,#00ffd4,#00ffb7,#00ffa4,#00ff85,#00ff67,#00ff74,#00ff80,#00ff5e,#00ff4f,#00ff30,#00ff39,#00ff17,#00ff12,#19ff00,#2aff00,#00ff24,#3fff00,#1fff00,#27ff00,#25ff00,#7cff00,#41ff00,#55ff00,#99ff00,#86ff00,#c3ff00,#8eff00,#a4ff00,#f7ff00,#f8ff00,#e6ff00,#ffef00,#ffca00,#fff400,#fff000,#ffb100,#ffad00,#ffae00,#ff3200,#ff6b00,#ff6200,#ffd200,#ffb700,#ff9600,#ffa600,#ff8700,#ffa300,#ffa900,#ff9200,#ff9900,#ff7b00,#ff8b00,#ffe200,#ffbd00,#ff5900,#ff7100,#ff5600,#ff9300,#ffb700,#ffa700,#ff8b00,#ff8e00,#ffd700,#ffc800,#ffd500,#ffe000,#ffcf00,#fbff00,#fdff00,#fffe00,#fffd00,#d6ff00,#e2ff00,#bdff00,#a5ff00,#4bff00,#77ff00,#9dff00,#6aff00,#04ff00,#26ff00,#17ff00,#1cff00,#40ff00,#1bff00,#00ff0b,#00ff0a,#00ff2c,#00ff0c,#00ff2e,#00ff4a,#00ff5b,#00ff73,#00ff6e,#00ff70,#00ff7b,#00ff94,#00ffb2,#00ffb8,#00ff8e,#00ff85,#00ffa2,#00ffc5,#00fff6,#00ffdf,#00ffd7,#00ffef,#00fff6,#00fffb,#00ffe6,#00ddff,#00c9ff,#00a7ff,#00d4ff,#00b3ff,#00daff,#0097ff,#0093ff,#00afff,#00a2ff,#00c4ff,#00a6ff,#008cff,#004eff,#008eff)"></i><i style="background:linear-gradient(90deg,#0082ff,#0092ff,#007fff,#0073ff,#007aff,#0078ff,#0083ff,#0076ff,#0066ff,#007aff,#0055ff,#0072ff,#0094ff,#007cff,#0068ff,#0065ff,#0065ff,#0076ff,#0075ff,#006eff,#0051ff,#007dff,#008cff,#005dff,#0062ff,#0095ff,#0061ff,#007eff,#009dff,#0078ff,#006fff,#006aff,#0069ff,#007bff,#0091ff,#0089ff,#007dff,#0071ff,#0067ff,#005aff,#0083ff,#0061ff,#007dff,#009aff,#0085ff,#0079ff,#0092ff,#0088ff,#0075ff,#0073ff,#00bcff,#00baff,#0083ff,#007dff,#0080ff,#00a7ff,#008bff,#0084ff,#008eff,#00c3ff,#00ceff,#00c7ff,#00b4ff,#00a2ff,#00b1ff,#00cbff,#00b4ff,#00fffa,#00fff0,#00ffde,#00ffce,#00ffec,#00ffc9,#00ffb6,#00ffee,#00ffe0,#00ffb2,#00ff9b,#00ff58,#00ff74,#00ff73,#00ff2d,#00ff5a,#00ff26,#04ff00,#00ff1b,#00ff36,#00ff1c,#00ff10,#1cff00,#47ff00,#15ff00,#50ff00,#73ff00,#7eff00,#70ff00,#5eff00,#5fff00,#67ff00,#98ff00,#6eff00,#caff00,#beff00,#efff00,#fff200,#ffed00,#ff5e00,#ffe200,#ffaf00,#ffb100,#ffaf00,#ffb600,#ff5600,#ff9800,#ff8200,#ff8f00,#ffaf00,#ff5600,#ff5c00,#ff5100,#ff6c00,#ff8400,#ff8800,#ff9500,#ff7900,#ff5200,#ff8700,#ffc900,#ffbd00,#ff9a00,#ff5300,#ff8400,#ffa600,#ff9300,#ffaa00,#ffd200,#fffb00,#ffa800,#e3ff00,#ffbc00,#d2ff00,#ffe500,#e6ff00,#fffc00,#feff00,#d7ff00,#91ff00,#a7ff00,#7bff00,#5bff00,#56ff00,#1aff00,#8eff00,#68ff00,#2bff00,#7cff00,#08ff00,#00ff09,#11ff00,#00ff20,#00ff0f,#00ff26,#00ff3c,#00ff4b,#00ff86,#00ff68,#00ff2b,#00ffae,#00ff9d,#00ff9a,#00ffd6,#00ff9f,#00ff96,#00ffbd,#00ffb7,#00ffab,#00ffc1,#00ffda,#00ffe6,#00ffd5,#00e4ff,#00eaff,#00ffec,#00edff,#00e4ff,#00d8ff,#00f0ff,#00beff,#00aeff,#00b6ff,#00b7ff,#0098ff,#0089ff,#008fff,#0099ff,#0089ff,#0087ff,#0073ff,#008eff)"></i><i style="background:linear-gradient(90deg,#0083ff,#008aff,#0090ff,#00acff,#0094ff,#0070ff,#00b2ff,#009cff,#0096ff,#0089ff,#005eff,#0095ff,#0073ff,#00a1ff,#00a4ff,#008bff,#0067ff,#0049ff,#0083ff,#0089ff,#004fff,#005cff,#007fff,#007aff,#007fff,#0089ff,#0077ff,#0090ff,#0077ff,#005bff,#0078ff,#0079ff,#006eff,#006aff,#007aff,#0066ff,#0068ff,#0088ff,#0086ff,#0057ff,#009eff,#0093ff,#008aff,#0080ff,#00acff,#0057ff,#007aff,#006bff,#0080ff,#0081ff,#009fff,#00abff,#0077ff,#006fff,#0097ff,#0095ff,#0080ff,#00a2ff,#00c0ff,#00cfff,#00a9ff,#00cbff,#00c4ff,#00d1ff,#00dcff,#00faff,#00fffc,#00fff2,#00fdff,#00ffdf,#00ffc9,#00ffc7,#00ffe3,#00ffd5,#00ffad,#00ffd8,#00ffb8,#00ff88,#00ff73,#00ff80,#00ff79,#00ff5d,#00ff4e,#00ff46,#01ff00,#00ff29,#00ff04,#53ff00,#06ff00,#1dff00,#1fff00,#22ff00,#3bff00,#62ff00,#56ff00,#9dff00,#75ff00,#b3ff00,#94ff00,#b6ff00,#a1ff00,#bbff00,#b9ff00,#a5ff00,#dcff00,#ffee00,#ffe100,#ffc500,#ffa500,#ffc700,#ffeb00,#ffb400,#ff9000,#ff6b00,#ff9100,#ffa500,#ffd600,#ff9b00,#ffb900,#ff8100,#ff5200,#ff5900,#ffc800,#ff9600,#ffaa00,#ff8300,#ff8100,#ff7e00,#ff7300,#ffb800,#ff5400,#ff3200,#ff5600,#ff9400,#ff6a00,#ffcd00,#ffc100,#ffc200,#feff00,#ffef00,#e6ff00,#ffb000,#d5ff00,#eaff00,#b9ff00,#c4ff00,#7fff00,#adff00,#75ff00,#95ff00,#6fff00,#22ff00,#73ff00,#92ff00,#30ff00,#6cff00,#2fff00,#33ff00,#00ff03,#00ff53,#00ff0f,#00ff21,#00ff5a,#00ff47,#00ff7c,#00ff53,#00ff76,#00ff81,#00ff81,#00ff70,#00ff9f,#00ffc7,#00ff86,#00ffbf,#00ffae,#00ffb8,#00ffc3,#00feff,#00ffdf,#00ffe0,#00faff,#00fffc,#00cfff,#00d1ff,#00e3ff,#00deff,#00bbff,#00aeff,#009aff,#00ccff,#0089ff,#0080ff,#008cff,#00a0ff,#007eff,#00a2ff,#0070ff,#0082ff,#0078ff)"></i><i style="background:linear-gradient(90deg,#009bff,#0081ff,#008eff,#0069ff,#0072ff,#0071ff,#0089ff,#0099ff,#0076ff,#0067ff,#004cff,#0098ff,#0082ff,#0095ff,#009cff,#006dff,#0084ff,#0046ff,#0095ff,#0088ff,#0088ff,#0076ff,#007eff,#0090ff,#0065ff,#0084ff,#006eff,#0074ff,#006dff,#0074ff,#0061ff,#0062ff,#0079ff,#0073ff,#007fff,#005cff,#0076ff,#008bff,#0076ff,#004cff,#0092ff,#008fff,#007fff,#007dff,#0089ff,#006cff,#009bff,#0088ff,#007cff,#0076ff,#0089ff,#0088ff,#00a3ff,#008dff,#0097ff,#00a6ff,#0085ff,#00d0ff,#00a7ff,#00baff,#00adff,#00e2ff,#00d0ff,#00e0ff,#00b8ff,#00ddff,#00ffee,#00fffc,#00f2ff,#00fff1,#00ffb6,#00ffbd,#00ffc8,#00ffb7,#00ff90,#00ff9c,#00ffb3,#00ff6c,#00ff8d,#00ff67,#00ff93,#00ff79,#00ff6f,#00ff40,#00ff10,#00ff08,#06ff00,#21ff00,#32ff00,#00ff01,#40ff00,#06ff00,#39ff00,#67ff00,#58ff00,#adff00,#e7ff00,#c0ff00,#eeff00,#acff00,#c3ff00,#ffe500,#e3ff00,#f6ff00,#fff200,#bbff00,#ffd900,#ffed00,#ffe400,#ffbd00,#ffaf00,#ffb300,#ff7200,#ff7100,#ff7b00,#ff5e00,#ffbe00,#ffa200,#ff6700,#ffa300,#ff6600,#ff8200,#ff7700,#ff6b00,#ffb300,#ff9d00,#ff9800,#ff7e00,#ff5200,#ffcf00,#ff6500,#ff6c00,#ffae00,#ffa700,#ff6200,#ff7d00,#ffd800,#ffe500,#ffdb00,#e1ff00,#ffc500,#faff00,#a9ff00,#cbff00,#ffff00,#b6ff00,#a0ff00,#7aff00,#3aff00,#5dff00,#5aff00,#3aff00,#3aff00,#39ff00,#05ff00,#50ff00,#14ff00,#00ff35,#04ff00,#00ff49,#02ff00,#00ff2c,#00ff49,#00ff42,#00ff61,#00ff47,#00ff70,#00ffa7,#00ff9f,#00ff7d,#00ff8a,#00ff86,#00ff88,#00ffa9,#00ffb2,#00ff96,#00ffc7,#00ffd3,#00fffb,#00ffd7,#00ffe8,#00fffc,#00deff,#00ebff,#00fdff,#00c1ff,#00d5ff,#00b9ff,#00abff,#00c0ff,#0098ff,#00a1ff,#0091ff,#008aff,#008aff,#00a0ff,#00a0ff,#00aeff,#0088ff)"></i><i style="background:linear-gradient(90deg,#008eff,#0074ff,#0078ff,#006bff,#007aff,#005aff,#0066ff,#0075ff,#0071ff,#007cff,#0073ff,#0081ff,#006cff,#007cff,#0083ff,#0075ff,#0090ff,#0090ff,#0093ff,#0093ff,#0093ff,#0084ff,#007aff,#0090ff,#0065ff,#005aff,#008aff,#0085ff,#0075ff,#009dff,#009eff,#0068ff,#007aff,#0082ff,#0052ff,#0065ff,#00adff,#009eff,#0068ff,#0059ff,#00a3ff,#0090ff,#009cff,#0070ff,#008fff,#0078ff,#007dff,#0078ff,#008dff,#005aff,#009cff,#008bff,#0089ff,#009dff,#00a9ff,#00adff,#009aff,#0096ff,#00bdff,#00a6ff,#00c7ff,#00adff,#00c0ff,#00ccff,#00d7ff,#00f1ff,#00fff0,#00f2ff,#00ffeb,#00ffd6,#00ff90,#00fff4,#00ff9e,#00ffa9,#00ffa6,#00ffb0,#00ffa5,#00ff6d,#00ffa9,#00ff49,#0fff00,#00ff0d,#00ff09,#00ff1c,#00ff1a,#21ff00,#03ff00,#00ff1f,#30ff00,#90ff00,#1eff00,#4bff00,#5aff00,#3fff00,#64ff00,#84ff00,#b6ff00,#a7ff00,#9fff00,#a3ff00,#e8ff00,#f4ff00,#ffe800,#ffd900,#faff00,#aeff00,#ffff00,#ffe100,#ffac00,#ffd700,#ffc300,#ffe800,#ff9200,#ff5200,#ff6d00,#ff6c00,#ff9000,#ff6400,#ff3800,#ff6000,#ff6700,#ff9e00,#ffa100,#ff7700,#ffa100,#ffb600,#ff7c00,#ffbe00,#ffe100,#ffe600,#ff8900,#ff6900,#ff9500,#ffa500,#ff8f00,#ff9000,#ffc400,#ff9700,#ffc800,#ffb200,#e0ff00,#fffa00,#ffff00,#ffdc00,#c5ff00,#faff00,#bcff00,#7aff00,#49ff00,#a1ff00,#73ff00,#66ff00,#6eff00,#49ff00,#03ff00,#20ff00,#0dff00,#00ff44,#1dff00,#00ff2c,#00ff11,#00ff5a,#00ff38,#00ff0a,#00ff3e,#00ff6f,#00ff92,#00ff9c,#00ffa0,#00ff6d,#00ffab,#00ff71,#00ffa6,#00ff92,#00ffbe,#00ff90,#00ffc4,#00ffce,#00ffb1,#00ffb1,#00ffd9,#00ffd2,#00fbff,#00faff,#00d2ff,#00e7ff,#00e1ff,#00b3ff,#00d3ff,#00e2ff,#009cff,#00a7ff,#008fff,#00a9ff,#008cff,#00a2ff,#0091ff,#00a5ff,#0092ff)"></i><i style="background:linear-gradient(90deg,#0079ff,#0060ff,#0090ff,#0087ff,#0068ff,#007aff,#0091ff,#008dff,#007cff,#005fff,#0089ff,#0081ff,#005fff,#004aff,#0087ff,#0095ff,#004fff,#007dff,#005bff,#0070ff,#007aff,#007eff,#006dff,#0069ff,#0060ff,#0077ff,#0069ff,#0098ff,#006fff,#0067ff,#007fff,#007cff,#0084ff,#007eff,#0055ff,#0072ff,#009eff,#0056ff,#0082ff,#0095ff,#007fff,#009fff,#006fff,#005cff,#007cff,#006fff,#0074ff,#0066ff,#0094ff,#007bff,#0092ff,#0073ff,#007bff,#00beff,#00abff,#00a8ff,#00b0ff,#0096ff,#0092ff,#00ccff,#00d4ff,#00d4ff,#00f3ff,#00ffff,#00fff9,#00fbff,#00ffe0,#00ffe7,#00ffdd,#00ffad,#00ff8d,#00ffde,#00ff78,#00ffa2,#00ffb0,#00ff80,#00ff84,#00ff63,#00ff78,#00ff4c,#00ff41,#00ff4f,#01ff00,#00ff20,#40ff00,#3bff00,#28ff00,#51ff00,#00ff49,#40ff00,#1fff00,#57ff00,#00ff02,#62ff00,#70ff00,#a7ff00,#b1ff00,#91ff00,#8cff00,#7eff00,#fffe00,#ffce00,#ffce00,#fff100,#ffd200,#ffcd00,#ffc800,#ffcb00,#ffc200,#ffa000,#ff8a00,#ff4100,#ff7e00,#ff6600,#ff4600,#ffd600,#ffb100,#ffc200,#ff9600,#ff9400,#ff6f00,#ff3a00,#ff9600,#ffb800,#ff6400,#ffd100,#ffb400,#ffdb00,#ff8d00,#ff8200,#ff3000,#ff3900,#ff9d00,#ffc300,#ff8900,#ff8900,#ff9700,#ffd200,#fff200,#ff9100,#deff00,#e7ff00,#c1ff00,#e3ff00,#a2ff00,#78ff00,#78ff00,#96ff00,#72ff00,#78ff00,#3bff00,#75ff00,#3dff00,#12ff00,#13ff00,#05ff00,#0cff00,#04ff00,#13ff00,#08ff00,#12ff00,#00ff41,#00ff4b,#00ff57,#00ff57,#00ff6c,#00ffa5,#00ff51,#00ff7a,#00ff8a,#00ff7d,#00ff76,#00ff96,#00ffb5,#00ffc0,#00ffa7,#00ffbe,#00fbff,#00ffe7,#00ffdf,#00ffe5,#00ffe6,#00cbff,#00ebff,#00daff,#00cbff,#00ebff,#00abff,#00a1ff,#00b0ff,#00c3ff,#0094ff,#009dff,#0074ff,#007cff,#0096ff,#007cff,#0097ff,#0060ff)"></i><i style="background:linear-gradient(90deg,#0083ff,#0050ff,#005fff,#0059ff,#007cff,#008bff,#00a3ff,#008aff,#007dff,#007fff,#00a4ff,#004eff,#0072ff,#006fff,#007fff,#0089ff,#004fff,#0067ff,#006fff,#0067ff,#0077ff,#0096ff,#0074ff,#0062ff,#0070ff,#0077ff,#0061ff,#0073ff,#0061ff,#007aff,#007bff,#0068ff,#0068ff,#0074ff,#005dff,#008bff,#007cff,#00adff,#007eff,#0079ff,#0063ff,#0079ff,#007dff,#0050ff,#0071ff,#0079ff,#0094ff,#0088ff,#0088ff,#00a6ff,#00a7ff,#0058ff,#00b5ff,#0095ff,#00bfff,#00b9ff,#00b7ff,#00c4ff,#00e3ff,#00a2ff,#00feff,#00e5ff,#00d9ff,#00f2ff,#00deff,#00fffa,#00fffe,#00ffd5,#00ffc3,#00ffcd,#00ffb6,#00ffa7,#00ff79,#00ff60,#00ff44,#00ff67,#00ff65,#00ff37,#00ff59,#03ff00,#00ff4d,#00ff56,#00ff24,#00ff1f,#00ff17,#55ff00,#2bff00,#1dff00,#6bff00,#34ff00,#51ff00,#19ff00,#80ff00,#aaff00,#baff00,#b4ff00,#70ff00,#b6ff00,#cdff00,#ffbd00,#d8ff00,#ffee00,#ffd100,#ffd200,#ff7900,#ffbe00,#ffd300,#ff7400,#ff9a00,#ff9d00,#ff8100,#fff100,#ff5c00,#ff2200,#ff6500,#ff6900,#ff9300,#ffab00,#ff5700,#ff8b00,#ffc300,#ff5500,#ff7200,#ffbd00,#ff6100,#ff7100,#ff6d00,#ff7d00,#ffcc00,#ff6300,#ff9e00,#ff6700,#ff6c00,#ff7300,#ffe600,#ff8100,#ff8600,#ff9b00,#ffe200,#ffe900,#f9ff00,#f4ff00,#c1ff00,#dfff00,#d9ff00,#d4ff00,#52ff00,#a1ff00,#80ff00,#7aff00,#43ff00,#2dff00,#3bff00,#51ff00,#30ff00,#12ff00,#2bff00,#22ff00,#19ff00,#00ff32,#00ff4b,#00ff3b,#00ff12,#00ff38,#00ff24,#00ff5a,#00ff67,#00ffc0,#00ff6a,#00ff62,#00ffbb,#00ffba,#00ffb2,#00ffba,#00ffa9,#00ffcc,#00ffbc,#00f9ff,#00e7ff,#00ffe4,#00ffd2,#00ffcb,#00e4ff,#00d1ff,#00d5ff,#00aaff,#00d8ff,#00caff,#008bff,#0064ff,#00b8ff,#00a5ff,#00a3ff,#0094ff,#006cff,#00adff,#0087ff,#00a7ff,#0066ff)"></i><i style="background:linear-gradient(90deg,#005cff,#004aff,#008dff,#0079ff,#007fff,#0095ff,#006cff,#007aff,#009eff,#00a1ff,#0084ff,#0060ff,#008bff,#0072ff,#006bff,#007dff,#0080ff,#0079ff,#0054ff,#0096ff,#008cff,#0074ff,#0098ff,#00a7ff,#007fff,#0079ff,#0085ff,#00a1ff,#009cff,#0074ff,#0097ff,#008dff,#007eff,#0063ff,#008eff,#0091ff,#007dff,#0074ff,#0063ff,#008aff,#009aff,#0058ff,#006fff,#006bff,#0051ff,#0060ff,#0084ff,#0081ff,#007bff,#0090ff,#009dff,#0070ff,#0098ff,#009eff,#0097ff,#00afff,#00d8ff,#00e9ff,#00eaff,#00d8ff,#00ffff,#00d8ff,#00eeff,#00ffff,#00deff,#00ffdb,#00ffde,#00fbff,#00ffb9,#00ffbe,#00ffa8,#00ff9b,#00ff92,#00ff8b,#00ff47,#00ff54,#00ff2f,#00ff46,#00ff28,#00ff59,#00ff28,#00ff53,#00ff21,#25ff00,#11ff00,#37ff00,#4eff00,#33ff00,#68ff00,#33ff00,#83ff00,#57ff00,#8bff00,#cfff00,#96ff00,#9bff00,#5cff00,#beff00,#ffba00,#caff00,#bcff00,#ffde00,#ffe400,#ffd600,#ff8200,#ffbf00,#ffb700,#ffca00,#ffbf00,#ffc100,#ffbb00,#ffac00,#ff8300,#ff8d00,#ff9a00,#ff7900,#ffa700,#fcff00,#ffb600,#ff9800,#ff9000,#ff9700,#ff6e00,#ff8700,#ffa200,#ff9400,#ff9100,#ff5200,#ff8800,#ffb100,#ff8f00,#ff6200,#ff7d00,#ffce00,#ffa100,#ffa200,#ff9100,#ffe900,#ffd600,#c7ff00,#eaff00,#ebff00,#ebff00,#e6ff00,#9dff00,#e2ff00,#70ff00,#a4ff00,#7fff00,#51ff00,#3cff00,#3fff00,#35ff00,#30ff00,#69ff00,#4dff00,#3aff00,#3cff00,#37ff00,#00ff43,#00ff28,#00ff37,#00ff3e,#00ff31,#00ff46,#00ff4e,#00ff57,#00ff78,#00ff7d,#00ffb0,#00ff71,#00ffa7,#00ffc4,#00ffb7,#00ffe2,#00ffb4,#00ffc4,#00fff6,#00f7ff,#00ffd7,#00eaff,#00feff,#00d6ff,#00b5ff,#00c0ff,#009eff,#00ceff,#00d5ff,#00bcff,#00a9ff,#00acff,#008cff,#007eff,#0085ff,#009fff,#0094ff,#009bff,#006bff,#007bff)"></i><i style="background:linear-gradient(90deg,#005fff,#0076ff,#0085ff,#0066ff,#0090ff,#007bff,#0073ff,#006cff,#00a1ff,#0038ff,#0065ff,#0079ff,#00a8ff,#0078ff,#0074ff,#007fff,#0084ff,#0075ff,#0076ff,#007dff,#0057ff,#0062ff,#008eff,#007cff,#007dff,#006aff,#0082ff,#0078ff,#00acff,#008aff,#00a1ff,#0086ff,#006bff,#0059ff,#0061ff,#007dff,#0085ff,#0063ff,#004aff,#0067ff,#0064ff,#008eff,#0072ff,#0060ff,#0083ff,#0077ff,#0084ff,#0095ff,#0081ff,#009cff,#00b0ff,#008eff,#00b7ff,#00afff,#00ccff,#00caff,#00bdff,#00e8ff,#00f1ff,#00c3ff,#00efff,#00f3ff,#00fffd,#00ffbc,#00f8ff,#00ffd4,#00ffb8,#00ffb3,#00ffa1,#00ffcf,#00ff9b,#00ffa0,#00ff44,#00ff31,#00ff60,#00ff60,#00ff22,#00ff4c,#00ff0f,#00ff60,#00ff72,#00ff40,#00ff0b,#0aff00,#08ff00,#00ff08,#6aff00,#5aff00,#5dff00,#75ff00,#8fff00,#85ff00,#4eff00,#93ff00,#52ff00,#d8ff00,#b9ff00,#ffd400,#fffb00,#ffbe00,#f4ff00,#ffbe00,#ffe800,#ffbb00,#ffff00,#ffc900,#ff9d00,#ff9300,#ffb300,#ff9c00,#ff8300,#ff7900,#ff5f00,#ff5500,#ff8b00,#ff9800,#ff5c00,#ffed00,#ffa100,#ff5c00,#ff8200,#ffbc00,#ffe500,#ffc200,#ff8700,#ffc300,#ff8400,#ffcd00,#ff8700,#ff8000,#ff4e00,#ff9400,#ff9800,#ff9800,#fff900,#ffaf00,#ffc700,#ffe000,#ffe300,#bcff00,#ffd000,#ffda00,#a2ff00,#b1ff00,#a6ff00,#b0ff00,#aaff00,#d8ff00,#51ff00,#80ff00,#2bff00,#4aff00,#30ff00,#86ff00,#6aff00,#0aff00,#2dff00,#00ff00,#00ff0f,#15ff00,#00ff45,#00ff49,#00ff24,#00ff69,#00ff33,#00ff3b,#00ff4f,#00ff5d,#00ff93,#00ffb0,#00ffa6,#00ff73,#00ffb8,#00ff9c,#00fff7,#00ffdb,#00ffcf,#00fff4,#00fff5,#00ffc6,#00ffed,#00dbff,#00cbff,#00dbff,#00ccff,#00edff,#009fff,#00f5ff,#00b3ff,#008eff,#008eff,#00b3ff,#0097ff,#0068ff,#005aff,#0080ff,#009cff,#008cff,#0053ff)"></i><i style="background:linear-gradient(90deg,#005fff,#0096ff,#007bff,#008fff,#0090ff,#005fff,#008bff,#0070ff,#007cff,#0093ff,#0077ff,#0085ff,#0081ff,#007fff,#0085ff,#007cff,#0060ff,#007bff,#0093ff,#0069ff,#0071ff,#0085ff,#0060ff,#006cff,#007bff,#0062ff,#005eff,#0052ff,#007cff,#0074ff,#0061ff,#0074ff,#0074ff,#008aff,#0048ff,#008dff,#007aff,#0060ff,#0088ff,#0077ff,#0059ff,#0087ff,#0074ff,#007fff,#0076ff,#009dff,#007bff,#0089ff,#0085ff,#0088ff,#00b8ff,#0092ff,#0087ff,#009aff,#00baff,#00daff,#00ddff,#00bfff,#00fcff,#00dbff,#00dfff,#00e6ff,#00fbff,#00fffd,#00ffe3,#00ffe9,#00ff9f,#00fff3,#00ffb8,#00ff83,#00ff84,#00ff7c,#00ff82,#00ff8f,#00ff83,#00ff4b,#00ff68,#00ff56,#00ff13,#00ff22,#00ff0e,#0dff00,#00ff0d,#18ff00,#17ff00,#00ff00,#12ff00,#4fff00,#6bff00,#70ff00,#94ff00,#73ff00,#b8ff00,#93ff00,#76ff00,#a0ff00,#b5ff00,#fff700,#ffe800,#ff8800,#feff00,#ffd100,#ffb700,#ffad00,#ffb200,#ff9d00,#ff6b00,#ff4f00,#ffab00,#ff9e00,#ff8200,#ffa300,#ff6800,#ff7f00,#ff6600,#ff6900,#ff5200,#ffae00,#ff7d00,#ff2f00,#ff4500,#ff8100,#ff8c00,#ff7500,#ff7600,#ff7900,#ff7c00,#ff9100,#ff6500,#ffe200,#ff5700,#ffca00,#ff7a00,#ff9500,#fffc00,#ffa400,#ffd400,#e4ff00,#fffc00,#ffde00,#ffe500,#ffdf00,#b3ff00,#ffff00,#a1ff00,#67ff00,#91ff00,#61ff00,#6aff00,#71ff00,#0eff00,#39ff00,#57ff00,#48ff00,#0aff00,#29ff00,#17ff00,#03ff00,#00ff2d,#00ff69,#00ff5f,#00ff50,#00ff79,#00ff33,#00ff4b,#00ff99,#00ff7c,#00ff78,#00ff75,#00ff92,#00ffa8,#00ffc3,#00ffb2,#00ffc6,#00fdff,#00fff2,#00ffc7,#00ffd1,#00e9ff,#00e6ff,#00f7ff,#00d9ff,#00acff,#00b1ff,#00dfff,#00ceff,#00a3ff,#00ccff,#0094ff,#0091ff,#0095ff,#009dff,#0078ff,#009fff,#006cff,#007dff,#008fff,#007dff,#006aff)"></i><i style="background:linear-gradient(90deg,#007eff,#008aff,#006aff,#0072ff,#0085ff,#0077ff,#007cff,#0056ff,#005bff,#00a3ff,#0071ff,#009aff,#00a7ff,#00a9ff,#0073ff,#0081ff,#0054ff,#007aff,#006bff,#005eff,#008dff,#0062ff,#0075ff,#0097ff,#0076ff,#006cff,#0079ff,#0049ff,#0057ff,#007eff,#0088ff,#008bff,#0080ff,#0068ff,#0064ff,#006cff,#0068ff,#0087ff,#0089ff,#0071ff,#0091ff,#0074ff,#0081ff,#006eff,#0071ff,#006bff,#0088ff,#009fff,#00b0ff,#008aff,#00aaff,#009cff,#0094ff,#00ccff,#00d6ff,#00e7ff,#00fff4,#00e6ff,#00f9ff,#00fff5,#00fffa,#00fff3,#00ffe8,#00ffc9,#00ffdc,#00ffc9,#00ffc8,#00ffa9,#00ff85,#00ff98,#00ffa1,#00ff7b,#00ff8e,#00ff71,#00ff44,#00ff02,#00ff3a,#00ff47,#00ff03,#00ff17,#00ff1e,#1dff00,#39ff00,#45ff00,#52ff00,#67ff00,#36ff00,#4eff00,#8dff00,#79ff00,#a8ff00,#62ff00,#89ff00,#c9ff00,#a0ff00,#fffb00,#eeff00,#ebff00,#ffc900,#ffa900,#ffa900,#ff9300,#ff9f00,#ffab00,#ffab00,#ffc400,#ff7000,#ff6a00,#ffa500,#ff6200,#ffb000,#ffb100,#ff9000,#ffd400,#ff1c00,#ffa500,#ff6500,#ff7100,#ff5600,#ff5800,#ff7d00,#ff9300,#ffad00,#ff4400,#ff4900,#ff4800,#ff8700,#ff9000,#ffb800,#ff9e00,#ff3700,#ffc100,#ff9900,#ff7b00,#ff9800,#ffa800,#ffb000,#ff9100,#fff900,#fdff00,#a1ff00,#ceff00,#ecff00,#b5ff00,#d9ff00,#9cff00,#a5ff00,#6aff00,#78ff00,#43ff00,#32ff00,#3dff00,#53ff00,#45ff00,#0eff00,#0aff00,#27ff00,#00ff1d,#00ff15,#00ff22,#00ff19,#00ff6a,#00ff75,#00ff70,#00ff5d,#00ff7d,#00ffaf,#00ffab,#00ff6a,#00ff79,#00ffae,#00ffc6,#00ffba,#00ffbb,#00ffc4,#00ffa8,#00ffea,#00fff3,#00fcff,#00ffae,#00fffb,#00f2ff,#00ceff,#00e8ff,#00daff,#00b6ff,#00b8ff,#00caff,#00b9ff,#008dff,#00bbff,#006aff,#0096ff,#00afff,#007bff,#0091ff,#00a2ff,#004dff,#0052ff)"></i><i style="background:linear-gradient(90deg,#0085ff,#0054ff,#004eff,#00a2ff,#008eff,#008eff,#006dff,#007dff,#007dff,#0093ff,#0073ff,#00aaff,#0098ff,#0063ff,#005eff,#005dff,#0097ff,#008cff,#0081ff,#0088ff,#0061ff,#0076ff,#0050ff,#0086ff,#0079ff,#0071ff,#0092ff,#0068ff,#0064ff,#0073ff,#0045ff,#0061ff,#0095ff,#0080ff,#0056ff,#0076ff,#0074ff,#0068ff,#008eff,#0073ff,#006eff,#0086ff,#007dff,#0060ff,#008aff,#0089ff,#008bff,#008bff,#00a1ff,#00b3ff,#00adff,#00acff,#00adff,#00d6ff,#00dcff,#00dcff,#00f2ff,#00ebff,#00e0ff,#00ffe1,#00ffe3,#00ff8d,#00fff4,#00ffd1,#00fff0,#00ffc8,#00ffc1,#00ffbb,#00ffa0,#00ff90,#00ffad,#00ff0b,#00ff3f,#00ff44,#00ff5d,#00ff36,#00ff19,#00ff0a,#00ff10,#0cff00,#17ff00,#13ff00,#1cff00,#3eff00,#5bff00,#8bff00,#8cff00,#95ff00,#5fff00,#b6ff00,#99ff00,#8fff00,#80ff00,#f1ff00,#e0ff00,#efff00,#fff900,#efff00,#feff00,#ff7d00,#ffb300,#ffa300,#ffaa00,#ff7b00,#ff7500,#ff8200,#ff5a00,#ff6500,#ff6b00,#ff9000,#ffa300,#ff2e00,#ff8900,#ff8900,#ff8c00,#ff8300,#ff6b00,#ff7400,#ff7c00,#ff6900,#ff9e00,#ff9300,#ff7000,#ff8000,#ffc000,#ff6600,#ff6100,#ffa900,#ff5f00,#ffa700,#ff4500,#ff8d00,#ff3700,#ffa200,#ffa800,#ff9b00,#ffb900,#ffa600,#fffb00,#95ff00,#c0ff00,#eaff00,#b7ff00,#72ff00,#afff00,#8eff00,#9aff00,#75ff00,#78ff00,#41ff00,#6eff00,#55ff00,#42ff00,#2eff00,#0cff00,#2bff00,#0fff00,#3eff00,#00ff22,#00ff1f,#00ff49,#00ff22,#00ff84,#00ff96,#00ff7e,#00ff54,#00ff98,#00ffb1,#00ff81,#00ff89,#00ff86,#00ffcb,#00ff90,#00ffac,#00ffec,#00ffcd,#00ffd4,#00ffe9,#00ffed,#00f6ff,#00d6ff,#00eaff,#00bfff,#00e1ff,#00adff,#00bdff,#00b0ff,#00bcff,#009fff,#008bff,#00a3ff,#0098ff,#00aaff,#00a2ff,#0060ff,#0090ff,#008fff,#0059ff,#0071ff)"></i><i style="background:linear-gradient(90deg,#006cff,#008bff,#0090ff,#007dff,#0063ff,#0082ff,#0061ff,#009cff,#0076ff,#0084ff,#0073ff,#008bff,#0091ff,#006fff,#008bff,#0080ff,#0089ff,#0051ff,#006eff,#0094ff,#007fff,#0070ff,#007dff,#0093ff,#0067ff,#0092ff,#006dff,#0090ff,#0066ff,#0089ff,#005fff,#0067ff,#008dff,#0082ff,#0074ff,#008eff,#0090ff,#006dff,#0067ff,#0080ff,#0070ff,#0071ff,#0067ff,#0093ff,#00a9ff,#007cff,#0090ff,#0098ff,#00acff,#00b9ff,#00a4ff,#00bcff,#00a1ff,#00a2ff,#00f3ff,#00daff,#00fff6,#00e9ff,#00fff7,#00fffb,#00ffe5,#00ffbe,#00ffb8,#00ffb5,#00ffc9,#00ff70,#00ffaa,#00ff5e,#00ff6d,#00ff3c,#00ff4d,#00ff4c,#00ff35,#00ff20,#00ff22,#00ff0e,#05ff00,#35ff00,#40ff00,#1dff00,#19ff00,#53ff00,#6dff00,#23ff00,#4dff00,#61ff00,#45ff00,#98ff00,#a5ff00,#aaff00,#cdff00,#beff00,#ffee00,#bfff00,#e7ff00,#ffee00,#ffa400,#ffd500,#ffa200,#ffda00,#ff7b00,#ff9400,#ffa700,#ffbd00,#ff8b00,#ff3300,#ff7c00,#ff6200,#ff6500,#ff7d00,#ff2c00,#ff3500,#ff5400,#ff8a00,#ff6e00,#ff6d00,#ffa800,#ff1b00,#ff5800,#ff4100,#ffb600,#ffbd00,#ff3100,#ff7200,#ff6d00,#ff8c00,#ff3300,#ffe400,#ff6f00,#ff4700,#ff1100,#ff2200,#ffc200,#ff6700,#ffa500,#ff6e00,#ffb300,#f4ff00,#ddff00,#f0ff00,#ffdb00,#efff00,#d7ff00,#96ff00,#cfff00,#b5ff00,#a9ff00,#97ff00,#61ff00,#28ff00,#41ff00,#3dff00,#56ff00,#00ff02,#00ff1b,#1dff00,#00ff03,#00ff2c,#00ff09,#00ff1d,#00ff41,#00ff5a,#00ff51,#00ff49,#00ff78,#00ff8b,#00ff85,#00ff70,#00ffa5,#00ffe3,#00ffab,#00ffe4,#00ffed,#00ffca,#00f3ff,#00ffe5,#00fff4,#00cbff,#00fffe,#00efff,#00f3ff,#00f1ff,#00bbff,#00deff,#00a3ff,#00aeff,#00a5ff,#0089ff,#008fff,#0090ff,#0083ff,#0093ff,#0065ff,#006fff,#0064ff,#006aff,#009cff,#007fff,#005eff)"></i><i style="background:linear-gradient(90deg,#008fff,#0071ff,#00a3ff,#007bff,#007bff,#009dff,#0074ff,#0089ff,#005eff,#0072ff,#0089ff,#006aff,#0081ff,#0085ff,#0080ff,#0087ff,#005aff,#0079ff,#007dff,#008eff,#0077ff,#0084ff,#0072ff,#0059ff,#0070ff,#0072ff,#006dff,#0079ff,#0084ff,#008aff,#006fff,#00a9ff,#009cff,#0088ff,#006bff,#005cff,#009bff,#007eff,#008cff,#0088ff,#0079ff,#0050ff,#0073ff,#00c1ff,#0094ff,#009dff,#00b0ff,#0095ff,#009cff,#00baff,#00c4ff,#00e4ff,#00a6ff,#00daff,#00ffca,#00ffbf,#00ffd1,#00fffc,#00ffc7,#00ffce,#00ffd7,#00ffca,#00ff72,#00ff82,#00ffae,#00ff95,#00ff80,#00ff79,#00ff6f,#00ff2f,#00ff38,#00ff37,#00ff1d,#10ff00,#11ff00,#1aff00,#56ff00,#2cff00,#1dff00,#3eff00,#2aff00,#80ff00,#4cff00,#6bff00,#8fff00,#80ff00,#70ff00,#b9ff00,#a9ff00,#d7ff00,#ffeb00,#c5ff00,#ffee00,#ffdc00,#cbff00,#f3ff00,#ffb800,#ffe800,#ffbe00,#ff9700,#ffb300,#ff6e00,#ff9400,#ff6400,#ffad00,#ff7800,#ffb800,#ff9f00,#ff6b00,#ff7d00,#ff6000,#ff2400,#ffb400,#ff4000,#ff8b00,#ff7600,#ff0000,#ff5700,#ff4900,#ff7c00,#ff7b00,#ff0800,#ff3e00,#ff5b00,#ff9e00,#ff9400,#ff5e00,#ff8200,#ff9600,#ff2e00,#ff7e00,#ff2700,#ffd100,#ff5800,#ffab00,#ff6300,#fff100,#ffe700,#f1ff00,#efff00,#f7ff00,#fff400,#bbff00,#8eff00,#ceff00,#89ff00,#7bff00,#78ff00,#18ff00,#40ff00,#44ff00,#31ff00,#12ff00,#27ff00,#0aff00,#00ff0b,#1fff00,#00ff23,#03ff00,#00ff29,#00ff8e,#00ff61,#00ff52,#00ff42,#00ff62,#00ff3c,#00ff84,#00ff9c,#00ff96,#00ffc0,#00ff92,#00ffae,#00ffc2,#00ffad,#00ffd8,#00ffea,#00feff,#00e7ff,#00fff5,#00f0ff,#00e8ff,#00e9ff,#00bdff,#00bbff,#00a7ff,#00b2ff,#0091ff,#007fff,#00a3ff,#009eff,#0060ff,#0069ff,#007dff,#0080ff,#0069ff,#0064ff,#0078ff,#0076ff,#008dff)"></i><i style="background:linear-gradient(90deg,#00a5ff,#007aff,#007fff,#0069ff,#006fff,#0080ff,#0082ff,#004cff,#007fff,#0076ff,#006fff,#004aff,#005cff,#0074ff,#0088ff,#008cff,#007fff,#0081ff,#0065ff,#0087ff,#0075ff,#006bff,#008fff,#0096ff,#0083ff,#0098ff,#0095ff,#0077ff,#0076ff,#0077ff,#0090ff,#008bff,#0086ff,#0076ff,#0068ff,#0056ff,#007eff,#006cff,#00a4ff,#0089ff,#0099ff,#00a1ff,#009aff,#009fff,#00a4ff,#00b7ff,#00d0ff,#00ceff,#00caff,#00d6ff,#00d4ff,#00ffe1,#00fff8,#00faff,#00f8ff,#00ffad,#00ffdd,#00ffab,#00ffaf,#00ff7e,#00ff5e,#00ff6f,#00ff60,#00ff80,#00ff41,#00ff30,#00ff4a,#1bff00,#00ff26,#0cff00,#0bff00,#0cff00,#39ff00,#02ff00,#46ff00,#15ff00,#57ff00,#71ff00,#63ff00,#5bff00,#77ff00,#b9ff00,#83ff00,#8fff00,#adff00,#67ff00,#b9ff00,#fff900,#fffb00,#ffd900,#fffc00,#feff00,#fff900,#fff000,#d2ff00,#ffef00,#ffe400,#ff9000,#ff6a00,#ff5b00,#ff4600,#ff7d00,#ffb400,#ff8b00,#ff8000,#ffc600,#ff6400,#ff8200,#ff5500,#ff4700,#ff7a00,#ff7e00,#ffed00,#ff6700,#ff4200,#ff3b00,#ff4200,#ff7f00,#ff1500,#ff4d00,#ff1c00,#ff4600,#ff2e00,#ff1d00,#ff7d00,#ff8400,#ffb800,#ff4d00,#ff6400,#ff3d00,#ff5500,#ff2e00,#ff8500,#ffb000,#ff8f00,#ff8e00,#ffff00,#fff300,#ffc400,#b0ff00,#a0ff00,#cdff00,#b5ff00,#aeff00,#4aff00,#79ff00,#86ff00,#86ff00,#56ff00,#6cff00,#57ff00,#5eff00,#29ff00,#00ff20,#23ff00,#00ff14,#0aff00,#00ff2c,#00ff37,#00ff1a,#00ff33,#00ff7a,#00ff45,#00ff6d,#00ff68,#00ff65,#00ffa2,#00ffbd,#00ff99,#00ff93,#00ff9e,#00ffa4,#00ffc3,#00ffac,#00ffb5,#00ffc1,#00ffc9,#00d2ff,#00fffc,#00e1ff,#00dfff,#00c5ff,#00d3ff,#00d9ff,#00c9ff,#00c7ff,#00a3ff,#00c1ff,#00b2ff,#00aaff,#00aaff,#009eff,#009cff,#0099ff,#00a5ff,#0067ff,#0089ff,#0071ff,#009dff)"></i><i style="background:linear-gradient(90deg,#009fff,#0056ff,#0082ff,#005dff,#006bff,#00a2ff,#0075ff,#0077ff,#006cff,#007fff,#007fff,#006eff,#007eff,#0098ff,#0095ff,#0095ff,#0053ff,#0079ff,#0079ff,#0074ff,#0060ff,#0070ff,#008dff,#007dff,#005bff,#0075ff,#0094ff,#0090ff,#0094ff,#009aff,#0085ff,#0063ff,#0072ff,#0082ff,#008eff,#0075ff,#0079ff,#0097ff,#005fff,#0088ff,#0080ff,#009cff,#00a8ff,#0093ff,#00cbff,#00dcff,#00a6ff,#00c9ff,#00e6ff,#00f6ff,#00ffe5,#00ffcc,#00ff9f,#00ffc0,#00ffbf,#00ffb6,#00ff7c,#00ffa9,#00ff93,#00ff66,#00ff4b,#00ff78,#00ff32,#00ff64,#00ff42,#00ff2c,#14ff00,#53ff00,#1fff00,#41ff00,#1bff00,#3dff00,#4fff00,#9dff00,#9dff00,#4aff00,#a8ff00,#46ff00,#85ff00,#abff00,#b5ff00,#e6ff00,#ebff00,#ebff00,#c1ff00,#ffea00,#ff9d00,#ff5300,#ffbd00,#ffce00,#ffad00,#ff6b00,#ffba00,#ffe200,#ff6c00,#ff9f00,#ff6f00,#ffb800,#ffb500,#ff4000,#ff5b00,#ff3600,#ff5300,#ff3000,#ff1d00,#ff6600,#ff9400,#ff9d00,#ff2000,#ff6a00,#ff6600,#ff7200,#ff6900,#ff8600,#ff7a00,#ff7700,#ff4400,#ff9f00,#ff5500,#ff4500,#ff0900,#ff7900,#ff6000,#ff3200,#ff5500,#ff5300,#ff5b00,#ff2e00,#ff4700,#ff1b00,#ff4f00,#ff8300,#ff6b00,#ff7000,#ff7f00,#ffa700,#e2ff00,#ffe500,#ffe900,#d3ff00,#c1ff00,#c6ff00,#9fff00,#cfff00,#75ff00,#98ff00,#b0ff00,#50ff00,#3fff00,#5eff00,#51ff00,#3bff00,#0cff00,#00ff08,#18ff00,#08ff00,#00ff21,#00ff29,#00ff3e,#00ff24,#00ff62,#00ff3c,#00ff5d,#00ff75,#00ff75,#00ff70,#00ff8b,#00ffb0,#00ff89,#00ffbd,#00ffa6,#00ffd0,#00ffc4,#00ffed,#00ffe8,#00fff8,#00e6ff,#00ebff,#00ffd6,#00fdff,#00c2ff,#00ccff,#00eaff,#00d2ff,#00ccff,#00b2ff,#00abff,#00b5ff,#009bff,#009eff,#009fff,#0099ff,#009dff,#0077ff,#009eff,#0065ff,#0099ff,#0086ff,#0056ff)"></i><i style="background:linear-gradient(90deg,#005fff,#008cff,#008fff,#0095ff,#0087ff,#005fff,#0073ff,#006fff,#008eff,#009fff,#0095ff,#0082ff,#0074ff,#007bff,#0071ff,#007cff,#0076ff,#006dff,#005bff,#0093ff,#006bff,#0085ff,#00a3ff,#0085ff,#0063ff,#008eff,#0062ff,#005fff,#0098ff,#0080ff,#0082ff,#0075ff,#0063ff,#0071ff,#0077ff,#0069ff,#0088ff,#0088ff,#007dff,#0096ff,#0095ff,#00a6ff,#00c6ff,#00b1ff,#00f9ff,#00e7ff,#00fffa,#00ffed,#00ffda,#00ffdb,#00ffa5,#00ff98,#00ffb0,#00ff90,#00ff50,#00ffc0,#00ff44,#00ff1f,#00ff1d,#00ff46,#0bff00,#07ff00,#00ff3b,#00ff58,#00ff09,#0cff00,#70ff00,#52ff00,#3dff00,#34ff00,#7eff00,#46ff00,#b2ff00,#a2ff00,#e2ff00,#a7ff00,#ccff00,#e7ff00,#a2ff00,#ffdd00,#ffd400,#faff00,#ffda00,#ff9800,#ff7700,#ff8e00,#ff8300,#ffb300,#ff2900,#ff8f00,#ff3b00,#ff1200,#ff4d00,#ff7900,#ff4400,#ff2e00,#ff8500,#ff8100,#ff5e00,#ff4b00,#ff6500,#ff6700,#ff4e00,#ff9100,#ff7400,#ff1800,#ff6200,#ff7900,#ff4200,#ff6600,#ff3600,#ff0a00,#ff3e00,#ff5300,#ff7400,#ff9f00,#ff4900,#ff4b00,#ff4400,#ff8400,#ff6300,#ff5d00,#ff4300,#ff2a00,#ff7100,#ff1f00,#ffe300,#ff5b00,#ff5600,#ff6500,#ff6900,#ff9d00,#ff4000,#ff9c00,#ff9b00,#ffab00,#fffd00,#ffee00,#cfff00,#ffe900,#9aff00,#f0ff00,#b5ff00,#4eff00,#8aff00,#6eff00,#67ff00,#4eff00,#45ff00,#25ff00,#06ff00,#5cff00,#0bff00,#00ff1a,#02ff00,#00ff31,#00ff20,#00ff33,#00ff3a,#00ff48,#00ff67,#00ff5d,#00ff58,#00ff94,#00ff7c,#00ffac,#00ff93,#00ffa0,#00ffbb,#00ff9b,#00ff9b,#00ffdd,#00ffe5,#00fff3,#00ffff,#00f8ff,#00ffec,#00fdff,#00fbff,#00dcff,#00deff,#00bfff,#00bfff,#00afff,#00c2ff,#0080ff,#00a8ff,#00a9ff,#0077ff,#0077ff,#0084ff,#0071ff,#007dff,#0072ff,#008bff,#0081ff,#005fff,#0053ff,#0082ff)"></i><i style="background:linear-gradient(90deg,#006aff,#007bff,#005fff,#0082ff,#0089ff,#006eff,#007bff,#005eff,#007fff,#0054ff,#0094ff,#0059ff,#0093ff,#0094ff,#0069ff,#0087ff,#0068ff,#009eff,#0075ff,#007dff,#008cff,#005fff,#008aff,#0086ff,#0091ff,#0072ff,#0070ff,#007aff,#007eff,#0076ff,#007cff,#0069ff,#0079ff,#0063ff,#004eff,#0073ff,#006bff,#00aaff,#0074ff,#00b2ff,#00a8ff,#00c3ff,#00cfff,#00fffb,#00fff0,#00ffcc,#00ffba,#00ffb7,#00ff80,#00ff95,#00ff66,#00ff99,#00ff85,#00ff0a,#00ff0b,#00ff30,#01ff00,#0eff00,#1bff00,#05ff00,#41ff00,#22ff00,#40ff00,#63ff00,#61ff00,#8fff00,#6dff00,#9cff00,#68ff00,#68ff00,#c8ff00,#fff800,#d3ff00,#c9ff00,#fbff00,#ffe400,#ffa900,#ffbc00,#ffb900,#ff5f00,#ffc000,#ff9200,#ff7500,#ff4100,#ffa400,#ff4600,#ff6a00,#ff3e00,#ff8300,#ff8500,#ff6400,#ff4200,#ff5100,#ff1a00,#ff3a00,#ff0200,#ff4700,#ff1100,#ff0000,#ff2600,#ff0000,#ff1500,#ff8a00,#ff2f00,#ff8000,#ff3f00,#ff5400,#ff2800,#ff3c00,#ff1a00,#ff3f00,#ff5500,#ff2d00,#ff7700,#ff1f00,#ff7000,#ff4600,#ff1500,#ff3a00,#ff6c00,#ff5a00,#ff7100,#ff4900,#ff3a00,#ff2700,#ff5b00,#ff5800,#ff9600,#ff7300,#ff6f00,#ffa900,#ff9d00,#ffa500,#ffba00,#ffe600,#fff800,#fffd00,#fff100,#e4ff00,#aeff00,#70ff00,#c1ff00,#a8ff00,#8dff00,#90ff00,#a1ff00,#40ff00,#58ff00,#21ff00,#20ff00,#41ff00,#29ff00,#21ff00,#07ff00,#09ff00,#00ff3e,#00ff2a,#00ff29,#00ff4c,#00ff41,#00ff6e,#00ff57,#00ff39,#00ff8a,#00ff8b,#00ffb6,#00ffad,#00ffad,#00ff71,#00ffba,#00ffd5,#00ffd2,#00ffde,#00fcff,#00e7ff,#00d3ff,#00e2ff,#00e0ff,#00bcff,#00a8ff,#00a8ff,#00abff,#00b8ff,#009bff,#00b3ff,#008aff,#008fff,#0088ff,#0061ff,#006cff,#0061ff,#007fff,#0076ff,#00a1ff,#0086ff,#009dff,#0062ff,#0073ff,#0069ff)"></i><i style="background:linear-gradient(90deg,#0079ff,#006bff,#007dff,#0086ff,#0079ff,#0083ff,#0087ff,#0072ff,#0069ff,#006bff,#007dff,#009aff,#0075ff,#0076ff,#0093ff,#0083ff,#0093ff,#0087ff,#0063ff,#0086ff,#0059ff,#0069ff,#0086ff,#00aaff,#006aff,#007eff,#007bff,#0089ff,#0091ff,#006fff,#0089ff,#0091ff,#0085ff,#0094ff,#006bff,#0093ff,#00a1ff,#00aeff,#00c3ff,#00ecff,#00e1ff,#00ffdb,#00ffd7,#00ffc6,#00ffa8,#00ffdb,#00ff8d,#00ff74,#00ff41,#00ff0c,#00ff13,#00ff40,#00ff2b,#79ff00,#3eff00,#3aff00,#04ff00,#3aff00,#5bff00,#27ff00,#8bff00,#8aff00,#75ff00,#9bff00,#79ff00,#b4ff00,#72ff00,#bbff00,#f1ff00,#b1ff00,#f0ff00,#f3ff00,#ffc600,#ffa300,#ff6800,#ffed00,#ff5700,#ff8a00,#ff8e00,#ff3800,#ff8400,#ff1c00,#ff3200,#ff3a00,#ff7f00,#ff4d00,#ff1600,#ff0000,#ff7800,#ff4000,#ff1800,#ff3f00,#ff8700,#ff5400,#ff7000,#ff3800,#ff0a00,#ff4e00,#ff4f00,#ff6e00,#ff8100,#ff0a00,#ff4d00,#ff5700,#ffa300,#ff5100,#ff4600,#ff3600,#ff6600,#ff5a00,#ff5b00,#ff4900,#ff5600,#ff9500,#ff3400,#ff7300,#ff3f00,#ff4f00,#ff4a00,#ff0800,#ff8f00,#ff2700,#ff1c00,#ffac00,#ff4100,#ff0300,#ff4100,#ff9400,#ffa000,#ff7100,#ffb700,#ffe700,#ff7b00,#ffac00,#ffbf00,#ffd000,#ffe300,#c7ff00,#5aff00,#bcff00,#d0ff00,#c0ff00,#99ff00,#61ff00,#45ff00,#31ff00,#2eff00,#2dff00,#1fff00,#1dff00,#1cff00,#0dff00,#00ff40,#00ff0a,#00ff25,#00ff53,#00ff7d,#00ff35,#00ff47,#00ff8c,#00ff85,#00ff65,#00ff66,#00ff9b,#00ff8c,#00ff92,#00ffba,#00ffd1,#00ffd8,#00ffc6,#00ffd0,#00ffdb,#00ffee,#00e3ff,#00cfff,#00e7ff,#00fffd,#00e5ff,#009bff,#00a6ff,#0096ff,#00a9ff,#009cff,#0085ff,#008fff,#00cfff,#00baff,#007cff,#008dff,#008bff,#008fff,#0080ff,#006cff,#0093ff,#0081ff,#0078ff,#008bff,#0058ff,#0074ff)"></i><i style="background:linear-gradient(90deg,#0051ff,#0093ff,#007dff,#0087ff,#007aff,#0057ff,#006aff,#0070ff,#0045ff,#0071ff,#0081ff,#0071ff,#0073ff,#006cff,#0064ff,#0081ff,#0066ff,#007fff,#0072ff,#0087ff,#0056ff,#008cff,#00f3ff,#00f4ff,#00e7ff,#00fff2,#00ffc7,#00ffe7,#00ffd4,#00ffc9,#00ffcc,#00fffc,#00fffa,#00e3ff,#00fffc,#00fff6,#00ffae,#00ffcd,#00ffa5,#00ff6f,#00ff87,#00ff5e,#00ff62,#00ff4c,#00ff49,#00ff3f,#21ff00,#00ff0e,#62ff00,#27ff00,#54ff00,#51ff00,#3eff00,#75ff00,#beff00,#abff00,#47ff00,#8fff00,#b7ff00,#cfff00,#93ff00,#e3ff00,#f5ff00,#ccff00,#b1ff00,#c3ff00,#b9ff00,#fffe00,#adff00,#c3ff00,#e4ff00,#ffbb00,#fff900,#f3ff00,#ffe800,#c4ff00,#ffe500,#ffde00,#fff000,#fdff00,#ffbd00,#ffc800,#ffed00,#fff300,#fff600,#bcff00,#ffce00,#f6ff00,#ffef00,#ffe100,#b4ff00,#ffd300,#ffc400,#ffe900,#ffb600,#ffb200,#fff100,#ffa700,#fff800,#ffd800,#dcff00,#faff00,#ffc700,#ffea00,#ffcb00,#ffad00,#ffa600,#ffa400,#ffe100,#ffa500,#ffe200,#ffbf00,#d6ff00,#fff100,#ffb300,#ffe900,#fdff00,#fff600,#aaff00,#ffac00,#fff300,#f6ff00,#ffa800,#ffb400,#ffcc00,#edff00,#ffd100,#ffe700,#f3ff00,#ffd500,#eeff00,#e9ff00,#7bff00,#98ff00,#87ff00,#67ff00,#7fff00,#67ff00,#3aff00,#51ff00,#3dff00,#64ff00,#0aff00,#15ff00,#00ff00,#08ff00,#15ff00,#00ff0c,#00ff34,#00ff44,#00ff64,#00ff34,#00ff8b,#00ff7b,#00ff57,#00ff77,#00ff86,#00ff96,#00ff98,#00ffd1,#00ffa1,#00ffdd,#00ffad,#00ffc4,#00ffb8,#00ffe4,#00ffed,#00ffe3,#00ffd8,#00ffea,#00fcff,#00fff8,#00d4ff,#00d5ff,#00ceff,#00e0ff,#00baff,#00aaff,#00bdff,#00b6ff,#00a5ff,#0099ff,#00a0ff,#009eff,#006cff,#0092ff,#0097ff,#0085ff,#0085ff,#0071ff,#0080ff,#0083ff,#007eff,#006fff,#0057ff,#009bff,#005bff,#0066ff,#0086ff)"></i><i style="background:linear-gradient(90deg,#007cff,#006eff,#0081ff,#0087ff,#0072ff,#009fff,#008dff,#00a3ff,#0076ff,#0082ff,#0083ff,#0089ff,#0082ff,#0082ff,#0057ff,#009dff,#0086ff,#007cff,#0092ff,#0049ff,#007fff,#00e9ff,#00ff71,#00ff44,#00ff45,#00ff15,#00ff0e,#00ff22,#00ff3d,#0aff00,#00ff2f,#00ff2c,#00ff31,#00ff28,#00ff48,#00ff57,#00ff06,#06ff00,#05ff00,#4cff00,#2fff00,#76ff00,#40ff00,#7bff00,#b0ff00,#8bff00,#b4ff00,#c0ff00,#ffee00,#88ff00,#e1ff00,#deff00,#e0ff00,#cdff00,#ffc300,#ffef00,#dbff00,#f2ff00,#fffb00,#c3ff00,#e0ff00,#ffcc00,#d7ff00,#d6ff00,#efff00,#bfff00,#ffe700,#edff00,#c8ff00,#cfff00,#bbff00,#bdff00,#7aff00,#90ff00,#daff00,#c0ff00,#b2ff00,#97ff00,#d9ff00,#b3ff00,#d4ff00,#deff00,#9cff00,#87ff00,#cdff00,#5dff00,#b0ff00,#7fff00,#6aff00,#b1ff00,#6dff00,#8eff00,#c2ff00,#7dff00,#87ff00,#79ff00,#57ff00,#60ff00,#63ff00,#64ff00,#3eff00,#2dff00,#4bff00,#5bff00,#81ff00,#61ff00,#95ff00,#81ff00,#77ff00,#85ff00,#7aff00,#2bff00,#aeff00,#7aff00,#53ff00,#5fff00,#5cff00,#54ff00,#4aff00,#78ff00,#23ff00,#32ff00,#33ff00,#63ff00,#5dff00,#93ff00,#96ff00,#6dff00,#29ff00,#49ff00,#03ff00,#0eff00,#01ff00,#1bff00,#33ff00,#00ff0f,#00ff33,#00ff1f,#00ff17,#00ff1c,#00ff38,#00ff58,#00ff42,#00ff1d,#00ff7d,#00ff85,#00ff8a,#00ff5d,#00ff86,#00ff61,#00ffaa,#00ff76,#00ffa1,#00ffc7,#00ffb8,#00ff9c,#00ffca,#00ffd2,#00ffdf,#00ffbb,#00ffce,#00fcff,#00fff1,#00ffeb,#00f1ff,#00ffef,#00daff,#00e7ff,#00dbff,#00b3ff,#00d6ff,#00d4ff,#00dbff,#00f8ff,#00bdff,#00b7ff,#009eff,#00a0ff,#00a3ff,#0092ff,#0082ff,#00c2ff,#009aff,#00a5ff,#0083ff,#0073ff,#007dff,#0083ff,#0099ff,#008fff,#00a5ff,#0088ff,#008fff,#0092ff,#0093ff,#0092ff,#008eff,#0094ff,#0065ff)"></i><i style="background:linear-gradient(90deg,#0077ff,#0073ff,#0064ff,#006aff,#0077ff,#0095ff,#008dff,#00a0ff,#006bff,#007aff,#0063ff,#0063ff,#0068ff,#0098ff,#0092ff,#007aff,#0081ff,#0063ff,#0074ff,#0073ff,#0075ff,#00acff,#00ffdc,#00ffbc,#00ff8f,#00ffad,#00ff9e,#00ff91,#00ffa9,#00ffa5,#00ffa9,#00ff90,#00ffc1,#00ffcf,#00ffd5,#00ffd7,#00ffa3,#00ffb7,#00ff86,#00ff9a,#00ff82,#00ff5e,#00ff45,#00ff77,#00ff5e,#00ff52,#00ff3d,#00ff39,#00ff1d,#00ff38,#00ff22,#1aff00,#00ff24,#01ff00,#00ff01,#01ff00,#00ff1a,#00ff18,#00ff0a,#00ff0a,#20ff00,#00ff22,#00ff29,#00ff0e,#1bff00,#00ff17,#00ff31,#00ff1b,#00ff19,#00ff38,#00ff2b,#00ff18,#00ff37,#00ff43,#00ff3a,#00ff42,#07ff00,#00ff27,#00ff21,#00ff51,#00ff5a,#00ff11,#00ff1b,#00ff2b,#09ff00,#00ff10,#00ff17,#00ff4d,#00ff30,#00ff39,#00ff5d,#00ff1f,#00ff26,#00ff39,#00ff50,#00ff2f,#00ff59,#00ff3f,#00ff4d,#00ff77,#00ff9e,#00ff7c,#00ff41,#00ff57,#00ff19,#00ff27,#00ff32,#00ff3d,#00ff19,#00ff24,#00ff04,#00ff28,#00ff3f,#00ff57,#00ff6b,#00ff30,#00ff7e,#00ff50,#00ff57,#00ff43,#00ff62,#00ff4d,#00ff5f,#00ff56,#00ff6e,#00ff5f,#00ff7a,#00ff64,#00ff69,#00ff5e,#00ff44,#00ff4a,#00ff68,#00ff72,#00ff72,#00ffda,#00ff88,#00ffa2,#00ff8a,#00ff97,#00ff96,#00ffb3,#00ffd1,#00ffbc,#00ffa9,#00ffda,#00ffac,#00ffd8,#00ffb6,#00ffd7,#00fdff,#00ffd5,#00deff,#00f9ff,#00ffed,#00e4ff,#00d8ff,#00fbff,#00f0ff,#00e8ff,#00fffb,#00fff8,#00daff,#00e0ff,#00caff,#00d5ff,#00bcff,#00ccff,#009bff,#009eff,#00ddff,#00adff,#00bcff,#00cdff,#009dff,#00b2ff,#0092ff,#008bff,#0062ff,#0084ff,#0082ff,#008bff,#0086ff,#0083ff,#007dff,#006eff,#0086ff,#0084ff,#009dff,#00aaff,#00a4ff,#007dff,#006bff,#0095ff,#009dff,#0074ff,#0083ff,#0081ff,#0077ff)"></i><i style="background:linear-gradient(90deg,#0079ff,#0070ff,#0078ff,#0076ff,#006eff,#0092ff,#0085ff,#00a9ff,#0063ff,#0073ff,#0082ff,#006eff,#0078ff,#0080ff,#0079ff,#009dff,#0054ff,#008cff,#0081ff,#0089ff,#0092ff,#0089ff,#0093ff,#008bff,#0099ff,#006dff,#00b4ff,#007cff,#00a2ff,#00abff,#0099ff,#00a8ff,#00b9ff,#0088ff,#00a2ff,#00a9ff,#009cff,#00b4ff,#0084ff,#00a6ff,#00beff,#00c2ff,#007eff,#00afff,#0097ff,#00bbff,#00d8ff,#00b7ff,#00c0ff,#00d4ff,#009aff,#00ddff,#00e1ff,#00e0ff,#00daff,#00b9ff,#00c8ff,#00dcff,#00d2ff,#00edff,#00e0ff,#00fbff,#00eaff,#00b6ff,#00ecff,#00fcff,#00fcff,#00deff,#00d6ff,#00d8ff,#00fbff,#00bcff,#00d7ff,#00e9ff,#00e0ff,#00f1ff,#00d2ff,#00feff,#00fffd,#00f8ff,#00f7ff,#00f5ff,#00fffa,#00daff,#00feff,#00e5ff,#00edff,#00ffd9,#00fdff,#00eaff,#00faff,#00e9ff,#00ffe9,#00fff7,#00e0ff,#00fff7,#00fff3,#00ffe1,#00cfff,#00ecff,#00e6ff,#00eaff,#00f8ff,#00ffe4,#00f5ff,#00ffe9,#00ffed,#00bcff,#00ffec,#00e6ff,#00ccff,#00fff0,#00ffe9,#00fbff,#00caff,#00d8ff,#00f4ff,#00fffd,#00ffed,#00ffe9,#00f2ff,#00fbff,#00fdff,#00eaff,#00f4ff,#00f3ff,#00fffa,#00fbff,#00f9ff,#00e2ff,#00fff9,#00daff,#00efff,#00d9ff,#00c5ff,#00dbff,#00c1ff,#00bbff,#00e3ff,#00ddff,#00e9ff,#00c7ff,#00d9ff,#00d8ff,#00e1ff,#00c3ff,#00b9ff,#00d6ff,#00ebff,#00b0ff,#0092ff,#00beff,#008fff,#008bff,#00b2ff,#009cff,#00a8ff,#00b3ff,#00aaff,#00c5ff,#00b6ff,#00b7ff,#009eff,#00b9ff,#0089ff,#0094ff,#005aff,#00a2ff,#007bff,#008aff,#008fff,#009cff,#008dff,#009dff,#0093ff,#0098ff,#0082ff,#0088ff,#008eff,#0093ff,#0080ff,#0061ff,#006eff,#0090ff,#008bff,#0066ff,#0074ff,#006eff,#008aff,#00a6ff,#0076ff,#0093ff,#0082ff,#007dff,#0068ff,#006aff,#0062ff,#0070ff,#003fff)"></i><i style="background:linear-gradient(90deg,#0082ff,#0075ff,#00a6ff,#0084ff,#0078ff,#006aff,#0081ff,#0082ff,#0092ff,#005aff,#007dff,#006cff,#0083ff,#0076ff,#0074ff,#0078ff,#0057ff,#0082ff,#0080ff,#0077ff,#0061ff,#0077ff,#0076ff,#0088ff,#0099ff,#0087ff,#00a2ff,#0063ff,#0087ff,#006dff,#0097ff,#008aff,#0071ff,#006dff,#009bff,#008eff,#0074ff,#007fff,#0078ff,#0098ff,#0087ff,#007eff,#0086ff,#0081ff,#007bff,#007eff,#0080ff,#005aff,#0091ff,#0075ff,#0077ff,#006cff,#0095ff,#0060ff,#008eff,#0082ff,#006dff,#006dff,#0089ff,#0086ff,#0087ff,#00a4ff,#0070ff,#008eff,#0072ff,#0069ff,#0085ff,#00a8ff,#005bff,#00a3ff,#0088ff,#005fff,#007eff,#0078ff,#0077ff,#006bff,#007cff,#0083ff,#0072ff,#005fff,#0068ff,#007fff,#0050ff,#006bff,#004bff,#0094ff,#0089ff,#0070ff,#0081ff,#0078ff,#0074ff,#007fff,#004eff,#0081ff,#0094ff,#0087ff,#0085ff,#00a3ff,#0084ff,#0073ff,#0092ff,#007fff,#0087ff,#0098ff,#0084ff,#009fff,#007aff,#006cff,#0081ff,#007bff,#0086ff,#0084ff,#00a0ff,#0084ff,#007dff,#005bff,#0094ff,#0074ff,#0073ff,#0075ff,#0071ff,#007eff,#006cff,#0060ff,#009cff,#0061ff,#0069ff,#0067ff,#0073ff,#006dff,#0082ff,#0090ff,#008bff,#0084ff,#006bff,#0088ff,#0092ff,#008eff,#0081ff,#0096ff,#008eff,#0072ff,#0067ff,#0065ff,#006eff,#0067ff,#0059ff,#0077ff,#006dff,#007bff,#006aff,#0062ff,#0078ff,#0083ff,#0071ff,#009bff,#0066ff,#0094ff,#0069ff,#0087ff,#0074ff,#0086ff,#0060ff,#008eff,#004fff,#0068ff,#0067ff,#008cff,#0097ff,#0075ff,#0070ff,#0058ff,#00a1ff,#004dff,#003eff,#0064ff,#007bff,#00a5ff,#0099ff,#008dff,#0072ff,#0078ff,#007aff,#005fff,#0085ff,#005eff,#006cff,#007eff,#007fff,#0068ff,#006dff,#009eff,#0078ff,#00a9ff,#008bff,#0095ff,#0071ff,#0086ff,#003dff)"></i><i style="background:linear-gradient(90deg,#005eff,#0074ff,#006aff,#008eff,#0092ff,#0059ff,#0089ff,#007eff,#009bff,#006aff,#0071ff,#0072ff,#0087ff,#0091ff,#005eff,#006fff,#0034ff,#0096ff,#0082ff,#007fff,#0095ff,#0082ff,#005eff,#009eff,#0089ff,#005bff,#0064ff,#0064ff,#0090ff,#00a8ff,#00a6ff,#008aff,#0075ff,#0062ff,#0070ff,#0090ff,#0080ff,#00a8ff,#0052ff,#00aeff,#007eff,#007dff,#007aff,#0056ff,#0077ff,#0084ff,#0086ff,#0070ff,#0071ff,#005eff,#0069ff,#006aff,#007dff,#005fff,#0069ff,#00a5ff,#007fff,#0098ff,#007bff,#0070ff,#0085ff,#007fff,#0067ff,#0070ff,#0071ff,#006cff,#0081ff,#0097ff,#008dff,#0088ff,#0070ff,#0078ff,#00abff,#0098ff,#0099ff,#006bff,#0054ff,#0084ff,#0070ff,#0070ff,#0079ff,#0097ff,#006eff,#0089ff,#006cff,#0092ff,#0094ff,#0076ff,#0079ff,#0081ff,#0068ff,#0053ff,#0056ff,#008dff,#0068ff,#0094ff,#0071ff,#008fff,#005fff,#0077ff,#0067ff,#0092ff,#0085ff,#0086ff,#0072ff,#0092ff,#0067ff,#0082ff,#0072ff,#007aff,#0077ff,#0085ff,#0083ff,#0082ff,#0084ff,#0041ff,#0055ff,#005dff,#0076ff,#007fff,#0080ff,#0087ff,#0082ff,#007cff,#0056ff,#008cff,#007eff,#0066ff,#0061ff,#0093ff,#0099ff,#0093ff,#0073ff,#007fff,#006bff,#00a1ff,#0072ff,#006bff,#008bff,#0072ff,#007fff,#0064ff,#009fff,#007dff,#0083ff,#005aff,#007cff,#0063ff,#005bff,#008dff,#0075ff,#0072ff,#0071ff,#006aff,#0079ff,#006fff,#005cff,#0081ff,#0086ff,#008aff,#005dff,#0092ff,#009aff,#0087ff,#0089ff,#0064ff,#0073ff,#0096ff,#0079ff,#0063ff,#008bff,#006fff,#0062ff,#0062ff,#006cff,#0088ff,#00a3ff,#007cff,#0064ff,#005cff,#007bff,#0098ff,#008dff,#0079ff,#0061ff,#00a1ff,#0094ff,#0078ff,#008aff,#008eff,#0089ff,#0094ff,#0089ff,#007bff,#0097ff,#0090ff,#0091ff,#0057ff,#0092ff)"></i><i style="background:linear-gradient(90deg,#0080ff,#007fff,#0053ff,#007fff,#0066ff,#007eff,#0071ff,#0074ff,#0099ff,#007eff,#006eff,#0083ff,#007eff,#0093ff,#0089ff,#0081ff,#0067ff,#009eff,#0069ff,#00abff,#0084ff,#006dff,#0073ff,#0078ff,#0083ff,#005cff,#005cff,#0094ff,#0077ff,#007fff,#0078ff,#008fff,#0079ff,#006eff,#0070ff,#0085ff,#0083ff,#0071ff,#006bff,#0085ff,#0078ff,#0070ff,#006eff,#005bff,#0094ff,#008bff,#005fff,#0064ff,#0069ff,#0063ff,#007bff,#0073ff,#0076ff,#005eff,#005fff,#006dff,#007cff,#0086ff,#0082ff,#007dff,#0089ff,#008bff,#0074ff,#0066ff,#0085ff,#0082ff,#0085ff,#007bff,#007aff,#008dff,#0071ff,#0086ff,#0085ff,#006bff,#0094ff,#0061ff,#008dff,#0091ff,#0089ff,#008cff,#0060ff,#0082ff,#0081ff,#0087ff,#006fff,#0091ff,#008cff,#0088ff,#0073ff,#0074ff,#006cff,#006bff,#008dff,#008fff,#0076ff,#008dff,#0068ff,#0097ff,#0056ff,#007eff,#0072ff,#0074ff,#008dff,#007dff,#0093ff,#006aff,#0077ff,#0069ff,#0074ff,#007cff,#0073ff,#0083ff,#008eff,#008cff,#006eff,#007dff,#005eff,#0087ff,#0085ff,#007eff,#0078ff,#006aff,#0089ff,#0080ff,#0087ff,#008bff,#0066ff,#0076ff,#005cff,#007eff,#0086ff,#0076ff,#0086ff,#009dff,#0085ff,#0088ff,#0085ff,#0074ff,#006cff,#0078ff,#008aff,#0086ff,#0067ff,#006fff,#008eff,#00abff,#0089ff,#0067ff,#007aff,#0095ff,#007cff,#0081ff,#0077ff,#0071ff,#0081ff,#0077ff,#0076ff,#0065ff,#008fff,#004eff,#0061ff,#0083ff,#0072ff,#0079ff,#0064ff,#0069ff,#006fff,#0076ff,#0086ff,#007aff,#0065ff,#0081ff,#006bff,#007eff,#009aff,#00a6ff,#0090ff,#009eff,#0064ff,#0067ff,#0072ff,#0079ff,#0085ff,#0079ff,#003dff,#006fff,#0098ff,#0066ff,#0092ff,#0074ff,#0065ff,#006aff,#0073ff,#00aaff,#009dff,#0097ff,#008cff,#005dff,#0094ff)"></i><i style="background:linear-gradient(90deg,#006eff,#006cff,#0072ff,#007cff,#0080ff,#007eff,#007dff,#005fff,#0091ff,#0064ff,#007aff,#005aff,#006dff,#00a3ff,#008fff,#007cff,#0083ff,#0071ff,#0059ff,#0077ff,#0093ff,#0089ff,#007dff,#007fff,#0089ff,#0075ff,#006bff,#0092ff,#0069ff,#0073ff,#0071ff,#0086ff,#008cff,#009eff,#0091ff,#009aff,#0096ff,#0056ff,#006fff,#008eff,#0083ff,#0082ff,#005eff,#005fff,#006dff,#0060ff,#0073ff,#007fff,#0078ff,#007cff,#0067ff,#0098ff,#008cff,#0065ff,#0056ff,#007fff,#0088ff,#0070ff,#0092ff,#005aff,#0073ff,#0095ff,#005aff,#007aff,#0082ff,#0071ff,#0054ff,#0066ff,#007fff,#0069ff,#0085ff,#008bff,#0083ff,#0083ff,#006eff,#008fff,#0091ff,#0073ff,#006fff,#005aff,#007dff,#0061ff,#0075ff,#00a3ff,#007eff,#0083ff,#0072ff,#005bff,#0074ff,#0088ff,#0078ff,#0060ff,#005dff,#007aff,#0077ff,#0067ff,#0080ff,#008cff,#0081ff,#0060ff,#006bff,#005aff,#0084ff,#0056ff,#0098ff,#006aff,#0080ff,#0099ff,#0090ff,#0062ff,#0089ff,#008aff,#007bff,#005dff,#006cff,#006bff,#0089ff,#0081ff,#0076ff,#006dff,#00a5ff,#00a1ff,#0087ff,#0061ff,#0071ff,#0084ff,#007eff,#0071ff,#0087ff,#0082ff,#007dff,#0093ff,#00a5ff,#00a2ff,#008fff,#006cff,#0093ff,#00aaff,#0099ff,#007eff,#0070ff,#0074ff,#008dff,#0063ff,#0070ff,#007eff,#005eff,#0076ff,#0097ff,#009cff,#0072ff,#006aff,#0086ff,#0066ff,#007fff,#008bff,#0074ff,#0092ff,#0087ff,#0056ff,#0087ff,#0084ff,#008fff,#007cff,#0068ff,#007eff,#009aff,#00beff,#0078ff,#0084ff,#0070ff,#0085ff,#0065ff,#0079ff,#0070ff,#0078ff,#006eff,#008cff,#0064ff,#008dff,#0074ff,#0065ff,#0079ff,#0074ff,#006eff,#0081ff,#0089ff,#007eff,#0091ff,#0096ff,#0058ff,#0075ff,#0069ff,#0071ff,#00a9ff,#005eff,#006eff,#00a0ff,#00a8ff)"></i><i style="background:linear-gradient(90deg,#0091ff,#005fff,#0077ff,#0074ff,#006dff,#0064ff,#007bff,#0069ff,#0070ff,#0062ff,#006bff,#0072ff,#0088ff,#00a1ff,#0066ff,#0080ff,#007eff,#0062ff,#0072ff,#0088ff,#0091ff,#0075ff,#0076ff,#008cff,#007cff,#0083ff,#007eff,#008aff,#0068ff,#0087ff,#0062ff,#0069ff,#0091ff,#0079ff,#007fff,#0099ff,#0074ff,#0077ff,#00b5ff,#0068ff,#0065ff,#0077ff,#006aff,#006fff,#0079ff,#007aff,#0060ff,#0071ff,#006cff,#0070ff,#005fff,#007bff,#008aff,#0085ff,#007dff,#00a4ff,#006aff,#00a7ff,#0091ff,#0078ff,#0059ff,#009fff,#0075ff,#007eff,#005bff,#0090ff,#0065ff,#0074ff,#0082ff,#0069ff,#0088ff,#0075ff,#0060ff,#0090ff,#005fff,#006cff,#006dff,#0061ff,#0074ff,#0073ff,#0083ff,#0091ff,#005fff,#0095ff,#0070ff,#007fff,#007cff,#007bff,#006fff,#0092ff,#0064ff,#008eff,#0074ff,#0091ff,#0093ff,#007eff,#0058ff,#0075ff,#009bff,#0095ff,#007bff,#0088ff,#0074ff,#0080ff,#0081ff,#008cff,#0095ff,#007fff,#0084ff,#0066ff,#007aff,#0086ff,#007aff,#008cff,#006cff,#003bff,#006fff,#005cff,#0081ff,#009cff,#0064ff,#007dff,#007fff,#0065ff,#004dff,#007cff,#0088ff,#00a0ff,#0099ff,#0082ff,#0072ff,#00acff,#0073ff,#007aff,#0076ff,#0068ff,#006cff,#007eff,#00a7ff,#0089ff,#0061ff,#006bff,#007bff,#008dff,#006cff,#0060ff,#0073ff,#0074ff,#0083ff,#007cff,#008cff,#0068ff,#006aff,#0083ff,#0088ff,#0079ff,#0088ff,#0085ff,#009aff,#0080ff,#0070ff,#007bff,#00abff,#0084ff,#007bff,#006eff,#008fff,#007fff,#0066ff,#006fff,#0096ff,#00a3ff,#0074ff,#008eff,#005fff,#006cff,#006aff,#0064ff,#0071ff,#006aff,#0067ff,#0062ff,#0059ff,#0056ff,#0070ff,#0081ff,#0080ff,#0082ff,#008aff,#007eff,#0067ff,#005eff,#0085ff,#0068ff,#0060ff,#007eff,#0086ff,#0074ff,#00a1ff)"></i></div></div>
<svg width="2021" height="2514" viewBox="0 0 2021 2514" font-family="Liberation Serif, serif">
<defs><linearGradient id="cb" x1="0" y1="0" x2="0" y2="1"><stop offset="0" stop-color="#ff0000"/><stop offset="0.25" stop-color="#ffff00"/><stop offset="0.5" stop-color="#00ff00"/><stop offset="0.75" stop-color="#00ffff"/><stop offset="1" stop-color="#0000ff"/></linearGradient></defs>
<rect x="1876" y="121" width="100" height="480" fill="url(#cb)"/>
<rect x="1876" y="600" width="100" height="3.5" fill="#000"/>
<clipPath id="cB"><rect x="266" y="599" width="1586" height="1123.5"/></clipPath><g clip-path="url(#cB)">
<path d="M428 1712H1852" stroke="#ff8000" stroke-width="12.5" fill="none"/>
<path d="M560.0 1689.0 610.0 1684.0 650.0 1676.0 676.0 1669.0 700.0 1656.0 727.0 1645.0 768.0 1618.0 795.0 1591.0 822.0 1567.0 843.0 1548.0" fill="none" stroke="#ff8000" stroke-width="2.2" stroke-linejoin="round" stroke-linecap="round"/>
<path d="M265.4 1712.3 276.1 1696.2 286.9 1704.3 300.4 1688.1 308.4 1650.4 313.8 1685.4 317.8 1661.2 324.6 1709.6 335.3 1688.1 346.1 1712.3 359.6 1704.3 373.0 1688.1 383.8 1637.0 393.2 1643.7 399.9 1610.1 409.3 1607.4 416.1 1553.6 424.1 1509.2 432.2 1540.1 447.0 1513.2 455.1 1529.4 463.1 1585.9 472.6 1593.9 479.3 1502.5 487.4 1537.4 494.9 1560.3 502.2 1511.9 511.6 1507.8 519.1 1483.6 526.4 1507.8 535.8 1489.0 543.9 1386.8 551.9 1429.8 560.0 1435.2 567.5 1335.7 576.1 1385.4 584.2 1345.1 593.6 1392.2 600.4 1411.0 609.8 1398.9 617.8 1355.8 625.9 1365.2 634.0 1412.3 642.1 1373.3 650.1 1300.7 658.2 1333.0 667.6 1319.5 676.1 1319.5 684.2 1263.0 692.3 1311.4 698.5 1343.7 707.1 1268.4 717.8 1257.6 725.9 1308.7 734.0 1245.5 743.4 1316.8 751.5 1236.1 760.9 1220.0 769.0 1213.2 778.4 1244.2 785.1 1269.7 794.5 1257.6 803.9 1214.6 812.0 1238.8 821.4 1261.7 829.5 1222.6 837.6 1240.1 847.0 1195.7 856.4 1222.6 865.8 1228.0 873.9 1198.4 883.3 1185.0 891.4 1182.3 900.3 1222.6 910.2 1182.3 919.6 1180.9 929.1 1222.6 937.1 1237.4 945.2 1246.9 954.6 1193.0 964.0 1214.6 972.1 1220.0 982.9 1202.5 992.3 1206.5 1001.7 1236.1 1011.1 1244.2 1019.2 1271.1 1028.6 1284.5 1036.7 1214.6 1047.4 1292.6 1056.9 1257.6 1066.3 1218.6 1074.8 1265.7 1084.2 1265.7 1093.6 1295.3 1103.0 1312.8 1113.0 1277.8 1121.9 1322.2 1131.3 1283.2 1140.7 1311.4 1150.7 1339.7 1160.1 1322.2 1170.3 1284.5 1179.7 1359.9 1189.7 1378.7 1198.6 1392.2 1208.0 1402.9 1218.7 1404.3 1228.2 1405.6 1238.1 1376.0 1247.5 1419.1 1257.8 1440.6 1267.2 1450.0 1276.6 1435.2 1281.2 1416.4 1288.7 1464.8 1298.1 1467.5 1307.5 1405.6 1317.5 1478.3 1327.7 1467.5 1337.1 1459.4 1346.5 1472.9 1356.0 1480.9 1366.7 1513.2 1378.8 1470.2 1388.3 1502.5 1399.0 1524.0 1408.4 1537.4 1419.2 1545.5 1428.6 1554.9 1439.4 1526.7 1450.1 1540.1 1460.9 1564.3 1470.8 1564.3 1480.2 1593.9 1490.9 1577.8 1501.7 1596.6 1512.5 1556.3 1523.2 1618.2 1534.0 1575.1 1544.8 1604.7 1554.2 1593.9 1566.3 1618.2 1575.7 1583.2 1587.8 1575.1 1597.2 1612.8 1608.0 1591.3 1618.7 1642.4 1629.5 1602.0 1640.3 1612.8 1651.0 1628.9 1661.8 1639.7 1672.6 1647.8 1684.7 1637.0 1695.4 1642.4 1706.2 1631.6 1717.0 1685.4 1727.7 1682.7 1738.5 1672.0 1749.2 1669.3 1760.0 1701.6 1770.8 1661.2 1782.9 1688.1 1793.6 1685.4 1804.4 1674.7 1817.8 1661.2 1831.3 1677.4 1842.1 1680.0 1848.8 1674.7" fill="none" stroke="#000" stroke-width="10" stroke-linejoin="round" stroke-linecap="round"/>
<path d="M265.4 1704.3 276.1 1715.0 292.3 1693.5 308.4 1709.6 323.2 1677.4 335.3 1709.6 346.1 1641.0 354.2 1685.4 367.6 1685.4 378.4 1709.6 394.5 1658.5 399.9 1704.3 410.7 1712.3 421.4 1696.2 432.2 1715.0 447.0 1647.8 456.4 1677.4 467.2 1672.0 479.3 1627.6 487.4 1654.5 494.9 1612.8 503.5 1634.3 511.6 1607.4 519.6 1596.6 527.7 1591.3 535.8 1561.7 542.5 1588.6 551.9 1585.9 560.0 1550.9 567.5 1515.9 576.1 1509.2 585.6 1550.9 592.3 1486.3 600.4 1482.3 609.8 1464.8 619.2 1451.3 625.9 1432.5 634.0 1408.3 642.1 1433.9 650.1 1401.6 658.2 1409.6 667.6 1429.8 674.8 1402.9 684.2 1355.8 692.3 1415.0 700.4 1338.3 708.4 1303.4 716.5 1324.9 725.9 1273.8 734.0 1296.6 743.4 1265.7 751.5 1264.3 760.9 1269.7 769.0 1254.9 777.5 1197.2 785.6 1252.4 795.0 1222.8 803.0 1198.6 812.5 1214.7 821.9 1177.0 830.0 1209.3 838.0 1144.8 846.1 1123.2 856.9 1120.5 864.9 1160.9 873.0 1053.3 882.4 1043.9 891.8 1088.3 899.9 1128.6 909.3 1006.2 918.7 1049.2 928.2 1041.2 937.6 1093.6 947.0 1010.2 954.3 964.5 963.1 1014.3 973.9 1039.8 983.3 1019.6 991.9 1042.5 1000.8 1004.8 1010.2 1030.4 1019.6 1056.0 1029.1 1056.0 1037.7 1008.9 1046.5 1082.9 1056.0 1056.0 1065.4 1076.1 1074.8 1031.7 1084.2 1045.2 1093.6 1104.4 1103.0 1096.3 1113.0 1051.9 1122.4 1105.7 1131.8 1080.2 1142.1 1093.6 1151.5 1058.7 1160.9 1115.2 1170.3 1136.7 1178.8 1241.6 1188.3 1195.9 1199.0 1179.7 1208.4 1101.7 1217.8 1209.3 1227.3 1225.5 1238.0 1233.5 1247.4 1179.7 1256.9 1222.8 1266.3 1271.2 1277.0 1273.9 1289.1 1271.2 1298.6 1325.0 1308.0 1300.8 1318.7 1306.2 1328.2 1306.2 1337.6 1303.5 1346.5 1350.4 1356.0 1358.5 1366.7 1381.4 1378.8 1404.3 1388.3 1380.0 1399.0 1386.8 1408.4 1454.0 1419.2 1409.6 1428.6 1432.5 1439.4 1459.4 1450.1 1424.4 1460.9 1420.4 1470.8 1459.4 1480.2 1432.5 1490.9 1518.6 1501.7 1483.6 1512.5 1485.0 1523.2 1529.4 1534.0 1505.2 1544.8 1537.4 1554.2 1557.6 1566.3 1524.0 1575.7 1526.7 1587.8 1534.8 1597.2 1546.9 1608.0 1548.2 1618.7 1561.7 1629.5 1602.0 1640.3 1542.8 1651.0 1569.7 1661.8 1607.4 1672.6 1607.4 1684.7 1623.5 1695.4 1615.5 1706.2 1616.8 1717.0 1587.2 1727.7 1626.2 1738.5 1631.6 1749.2 1645.1 1760.0 1661.2 1770.8 1666.6 1782.9 1674.7 1793.6 1663.9 1804.4 1666.6 1817.8 1677.4 1831.3 1698.9 1842.1 1685.4 1848.8 1688.1" fill="none" stroke="#008000" stroke-width="9.5" stroke-linejoin="round" stroke-linecap="round"/>
<path d="M268.0 1721.0 276.8 1682.8 285.5 1667.8 294.2 1693.8 303.0 1671.0 311.8 1679.6 320.5 1685.0 329.2 1708.9 338.0 1692.6 346.8 1684.4 355.5 1697.6 364.2 1681.1 373.0 1699.9 381.8 1674.0 390.5 1676.7 399.2 1691.7 408.0 1698.9 416.8 1670.1 425.5 1696.7 434.2 1705.7 443.0 1651.2 451.8 1648.8 460.5 1678.6 469.2 1686.0 478.0 1663.0 486.8 1645.2 495.5 1645.3 504.2 1629.6 513.0 1657.9 521.8 1647.0 530.5 1639.7 539.2 1659.9 548.0 1640.1 556.8 1592.5 565.5 1581.8 574.2 1593.9 583.0 1549.1 591.8 1595.4 600.5 1577.0 609.2 1562.8 618.0 1536.9 626.8 1527.8 635.5 1501.7 644.2 1503.1 653.0 1450.3 661.8 1503.5 670.5 1475.4 679.2 1431.4 688.0 1465.6 696.8 1385.1 705.5 1441.8 714.2 1406.2 723.0 1403.1 731.8 1388.6 740.5 1355.1 749.2 1332.9 758.0 1351.9 766.8 1289.1 775.5 1307.5 784.2 1314.0 793.0 1300.9 801.8 1266.1 810.5 1247.7 819.2 1240.2 828.0 1268.3 836.8 1240.7 845.5 1186.0 854.2 1170.9 863.0 1151.7 871.8 1203.4 880.5 1202.7 889.2 1133.8 898.0 1140.5 906.8 1138.4 915.5 1055.4 924.2 1111.8 933.0 1068.5 941.8 1116.6 950.5 1058.4 959.2 1096.9 968.0 1040.9 976.8 1033.7 985.5 1088.3 994.2 1013.0 1003.0 1009.2 1011.8 1014.9 1020.5 1021.4 1029.2 1021.4 1038.0 1035.9 1046.8 1050.9 1055.5 1062.8 1064.2 1002.6 1073.0 958.1 1081.8 1018.8 1090.5 1007.3 1099.2 962.7 1108.0 1017.0 1116.8 1017.6 1125.5 1025.8 1134.2 1079.1 1143.0 1090.3 1151.8 1060.8 1160.5 1087.5 1169.2 1036.9 1178.0 1052.8 1186.8 1066.4 1195.5 1058.5 1204.2 1069.6 1213.0 1066.8 1221.8 1113.8 1230.5 1129.3 1239.2 1100.1 1248.0 1123.6 1256.8 1155.2 1265.5 1145.1 1274.2 1180.2 1283.0 1117.6 1291.8 1152.4 1300.5 1231.8 1309.2 1196.8 1318.0 1243.8 1326.8 1165.7 1335.5 1260.9 1344.2 1263.4 1353.0 1254.2 1361.8 1303.7 1370.5 1243.4 1379.2 1277.1 1388.0 1265.2 1396.8 1278.7 1405.5 1355.4 1414.2 1346.2 1423.0 1287.5 1431.8 1317.1 1440.5 1378.3 1449.2 1364.4 1458.0 1406.0 1466.8 1379.7 1475.5 1376.0 1484.2 1393.4 1493.0 1443.3 1501.8 1434.6 1510.5 1405.8 1519.2 1447.4 1528.0 1402.7 1536.8 1462.5 1545.5 1477.1 1554.2 1456.0 1563.0 1477.0 1571.8 1497.2 1580.5 1456.2 1589.2 1510.6 1598.0 1506.1 1606.8 1518.9 1615.5 1539.8 1624.2 1565.4 1633.0 1515.8 1641.8 1573.5 1650.5 1542.6 1659.2 1575.2 1668.0 1576.6 1676.8 1593.1 1685.5 1573.1 1694.2 1637.0 1703.0 1561.5 1711.8 1634.1 1720.5 1609.0 1729.2 1598.9 1738.0 1662.0 1746.8 1630.5 1755.5 1626.7 1764.2 1679.6 1773.0 1635.2 1781.8 1656.0 1790.5 1648.8 1799.2 1612.0 1808.0 1643.4 1816.8 1657.2 1825.5 1668.1 1834.2 1689.3 1843.0 1676.8" fill="none" stroke="#000" stroke-width="2.9" stroke-linejoin="round" stroke-linecap="round" stroke-linejoin="miter"/>
<path d="M268.0 1652.2 276.8 1677.5 285.5 1672.4 294.2 1676.6 303.0 1677.1 311.8 1695.0 320.5 1704.8 329.2 1674.0 338.0 1721.0 346.8 1675.5 355.5 1679.4 364.2 1700.0 373.0 1685.6 381.8 1703.1 390.5 1706.4 399.2 1671.5 408.0 1684.4 416.8 1652.6 425.5 1652.0 434.2 1674.8 443.0 1680.3 451.8 1653.0 460.5 1714.5 469.2 1702.9 478.0 1682.3 486.8 1671.0 495.5 1673.7 504.2 1671.8 513.0 1658.6 521.8 1670.9 530.5 1658.3 539.2 1654.8 548.0 1661.2 556.8 1656.9 565.5 1651.4 574.2 1614.6 583.0 1617.0 591.8 1568.1 600.5 1591.4 609.2 1547.2 618.0 1604.5 626.8 1564.4 635.5 1582.1 644.2 1549.8 653.0 1519.5 661.8 1534.7 670.5 1522.9 679.2 1499.5 688.0 1461.9 696.8 1507.7 705.5 1501.8 714.2 1483.9 723.0 1464.2 731.8 1468.6 740.5 1436.8 749.2 1416.8 758.0 1450.0 766.8 1363.9 775.5 1435.4 784.2 1386.5 793.0 1381.8 801.8 1319.2 810.5 1379.6 819.2 1355.9 828.0 1335.7 836.8 1317.5 845.5 1332.7 854.2 1272.6 863.0 1328.0 871.8 1307.4 880.5 1270.5 889.2 1278.5 898.0 1280.2 906.8 1194.8 915.5 1184.7 924.2 1253.3 933.0 1165.1 941.8 1148.3 950.5 1194.2 959.2 1122.1 968.0 1182.4 976.8 1145.5 985.5 1125.2 994.2 1096.5 1003.0 1087.3 1011.8 1084.1 1020.5 1115.4 1029.2 1022.2 1038.0 1054.6 1046.8 1081.5 1055.5 1076.6 1064.2 1016.9 1073.0 1032.0 1081.8 1068.7 1090.5 1051.8 1099.2 1002.3 1108.0 1094.3 1116.8 1063.2 1125.5 1018.9 1134.2 1083.7 1143.0 993.3 1151.8 1067.8 1160.5 1074.7 1169.2 1075.7 1178.0 1043.4 1186.8 1061.3 1195.5 1076.7 1204.2 1058.1 1213.0 1096.1 1221.8 1065.2 1230.5 1060.0 1239.2 1070.0 1248.0 1130.2 1256.8 1078.0 1265.5 1108.8 1274.2 1102.1 1283.0 1109.5 1291.8 1156.2 1300.5 1136.8 1309.2 1186.3 1318.0 1164.0 1326.8 1231.0 1335.5 1182.7 1344.2 1209.0 1353.0 1262.1 1361.8 1221.9 1370.5 1253.5 1379.2 1201.2 1388.0 1255.7 1396.8 1222.0 1405.5 1263.7 1414.2 1313.6 1423.0 1294.6 1431.8 1308.2 1440.5 1300.1 1449.2 1375.6 1458.0 1358.6 1466.8 1375.6 1475.5 1368.4 1484.2 1380.2 1493.0 1384.1 1501.8 1388.2 1510.5 1416.5 1519.2 1404.5 1528.0 1439.6 1536.8 1449.3 1545.5 1442.1 1554.2 1454.6 1563.0 1496.6 1571.8 1433.8 1580.5 1506.1 1589.2 1537.6 1598.0 1478.8 1606.8 1500.3 1615.5 1511.9 1624.2 1541.8 1633.0 1566.2 1641.8 1550.3 1650.5 1553.2 1659.2 1558.6 1668.0 1563.4 1676.8 1546.9 1685.5 1600.3 1694.2 1622.9 1703.0 1598.9 1711.8 1630.8 1720.5 1643.7 1729.2 1581.1 1738.0 1613.9 1746.8 1635.9 1755.5 1635.2 1764.2 1598.0 1773.0 1613.8 1781.8 1622.2 1790.5 1637.0 1799.2 1667.5 1808.0 1653.5 1816.8 1672.9 1825.5 1621.1 1834.2 1682.5 1843.0 1691.3" fill="none" stroke="#000" stroke-width="2.9" stroke-linejoin="round" stroke-linecap="round" stroke-linejoin="miter"/>
<path d="M268.0 1661.0 276.8 1674.7 285.5 1672.3 294.2 1708.7 303.0 1667.8 311.8 1685.7 320.5 1701.2 329.2 1708.4 338.0 1694.2 346.8 1721.0 355.5 1673.8 364.2 1692.2 373.0 1700.7 381.8 1712.2 390.5 1705.7 399.2 1672.5 408.0 1721.0 416.8 1689.2 425.5 1700.3 434.2 1690.6 443.0 1664.6 451.8 1680.1 460.5 1704.8 469.2 1702.2 478.0 1668.4 486.8 1687.2 495.5 1721.0 504.2 1682.2 513.0 1676.1 521.8 1688.8 530.5 1694.3 539.2 1679.8 548.0 1663.7 556.8 1641.7 565.5 1686.3 574.2 1676.0 583.0 1703.9 591.8 1638.4 600.5 1654.5 609.2 1671.8 618.0 1633.2 626.8 1681.9 635.5 1633.5 644.2 1656.3 653.0 1609.3 661.8 1618.4 670.5 1605.0 679.2 1619.7 688.0 1638.3 696.8 1579.8 705.5 1569.1 714.2 1604.3 723.0 1606.8 731.8 1562.8 740.5 1568.1 749.2 1554.3 758.0 1571.3 766.8 1521.0 775.5 1561.4 784.2 1497.1 793.0 1524.7 801.8 1513.5 810.5 1508.1 819.2 1538.9 828.0 1522.5 836.8 1508.6 845.5 1484.9 854.2 1461.6 863.0 1459.1 871.8 1443.9 880.5 1409.7 889.2 1387.3 898.0 1395.6 906.8 1410.3 915.5 1389.6 924.2 1336.1 933.0 1386.3 941.8 1362.9 950.5 1315.6 959.2 1288.5 968.0 1298.1 976.8 1278.7 985.5 1253.2 994.2 1266.5 1003.0 1254.8 1011.8 1178.7 1020.5 1188.4 1029.2 1183.8 1038.0 1220.3 1046.8 1185.1 1055.5 1160.8 1064.2 1177.0 1073.0 1134.9 1081.8 1086.5 1090.5 1149.8 1099.2 1134.2 1108.0 1125.3 1116.8 1134.7 1125.5 1114.4 1134.2 1126.1 1143.0 1104.8 1151.8 1110.7 1160.5 1060.0 1169.2 1081.3 1178.0 1112.9 1186.8 1108.6 1195.5 1091.6 1204.2 1079.8 1213.0 1188.6 1221.8 1127.6 1230.5 1140.8 1239.2 1121.0 1248.0 1145.9 1256.8 1163.1 1265.5 1193.8 1274.2 1142.7 1283.0 1143.9 1291.8 1181.0 1300.5 1179.0 1309.2 1207.4 1318.0 1215.5 1326.8 1180.7 1335.5 1210.3 1344.2 1251.9 1353.0 1220.4 1361.8 1216.9 1370.5 1250.7 1379.2 1257.4 1388.0 1268.7 1396.8 1268.5 1405.5 1308.3 1414.2 1283.8 1423.0 1276.2 1431.8 1341.5 1440.5 1350.4 1449.2 1390.4 1458.0 1354.3 1466.8 1380.9 1475.5 1381.6 1484.2 1365.8 1493.0 1404.1 1501.8 1457.8 1510.5 1408.8 1519.2 1435.1 1528.0 1473.1 1536.8 1443.0 1545.5 1426.1 1554.2 1434.3 1563.0 1437.1 1571.8 1440.8 1580.5 1475.2 1589.2 1502.7 1598.0 1487.1 1606.8 1496.9 1615.5 1559.4 1624.2 1505.6 1633.0 1574.5 1641.8 1518.9 1650.5 1533.5 1659.2 1555.5 1668.0 1548.1 1676.8 1598.1 1685.5 1618.5 1694.2 1561.4 1703.0 1580.0 1711.8 1593.0 1720.5 1620.4 1729.2 1620.0 1738.0 1613.8 1746.8 1607.8 1755.5 1663.2 1764.2 1635.7 1773.0 1631.5 1781.8 1670.8 1790.5 1675.1 1799.2 1646.5 1808.0 1657.4 1816.8 1637.3 1825.5 1645.2 1834.2 1646.4 1843.0 1660.2" fill="none" stroke="#000" stroke-width="2.9" stroke-linejoin="round" stroke-linecap="round" stroke-linejoin="miter"/>
<path d="M268.1 1715.0 277.5 1688.1 286.9 1666.6 297.7 1701.6 305.7 1717.7 317.8 1698.9 327.3 1690.8 338.0 1715.0 348.8 1690.8 362.2 1704.3 373.0 1717.7 383.8 1642.4 394.5 1715.0 405.3 1717.7 414.7 1688.1 424.1 1661.2 432.2 1690.8 448.3 1696.2 464.5 1677.4 480.6 1690.8 494.1 1661.2 502.2 1677.4 510.2 1682.7 519.6 1639.7 527.7 1696.2 539.8 1677.4 550.6 1663.9 566.7 1698.9 574.8 1669.3 590.9 1696.2 600.4 1642.4 609.8 1693.5 620.5 1682.7 636.7 1669.3 647.4 1690.8 658.2 1669.3 669.0 1666.6 676.1 1669.3 684.2 1689.5 692.3 1669.3 700.4 1647.8 708.4 1666.6 717.8 1666.6 727.3 1666.6 735.3 1631.6 743.4 1618.2 751.5 1684.1 759.6 1643.7 769.0 1643.7 777.0 1696.2 785.1 1642.4 794.5 1620.9 803.9 1604.7 812.0 1602.0 821.4 1669.3 829.5 1607.4 837.6 1576.5 847.0 1587.2 856.4 1591.3 865.8 1556.3 873.9 1540.1 883.3 1591.3 891.4 1589.9 900.3 1542.8 908.9 1537.4 918.8 1511.9 927.7 1511.9 937.1 1567.0 945.2 1518.6 954.6 1486.3 964.0 1486.3 972.1 1433.9 982.9 1490.4 991.5 1513.2 1000.4 1464.8 1009.8 1454.0 1019.2 1407.0 1028.1 1408.3 1036.7 1454.0 1046.1 1439.2 1055.5 1385.4 1064.9 1408.3 1074.8 1381.4 1084.2 1402.9 1093.6 1396.2 1103.0 1420.4 1113.0 1405.6 1121.9 1380.0 1131.3 1384.1 1140.7 1397.5 1150.7 1413.7 1160.1 1382.7 1170.3 1419.1 1179.7 1358.5 1189.7 1357.2 1198.6 1415.0 1208.0 1359.9 1218.7 1386.8 1228.2 1482.3 1238.1 1474.2 1247.5 1443.3 1257.8 1405.6 1267.2 1427.1 1276.6 1417.7 1288.7 1405.6 1298.1 1433.9 1307.5 1408.3 1317.5 1506.5 1327.7 1475.6 1337.1 1435.2 1346.5 1480.9 1356.0 1435.2 1366.7 1433.9 1378.8 1502.5 1388.3 1479.6 1399.0 1509.2 1408.4 1509.2 1419.2 1537.4 1428.6 1513.2 1439.4 1489.0 1450.1 1514.6 1460.9 1537.4 1470.8 1513.2 1480.2 1532.1 1490.9 1540.1 1501.7 1583.2 1512.5 1509.2 1523.2 1545.5 1534.0 1541.5 1544.8 1569.7 1554.2 1634.3 1566.3 1564.3 1575.7 1561.7 1587.8 1564.3 1597.2 1563.0 1608.0 1565.7 1618.7 1585.9 1629.5 1588.6 1640.3 1612.8 1651.0 1557.6 1661.8 1642.4 1672.6 1618.2 1684.7 1612.8 1695.4 1634.3 1706.2 1696.2 1717.0 1637.0 1727.7 1663.9 1738.5 1666.6 1749.2 1641.0 1760.0 1645.1 1770.8 1677.4 1782.9 1720.4 1793.6 1631.6 1804.4 1647.8 1817.8 1674.7 1831.3 1688.1 1842.1 1607.4 1848.8 1688.1" fill="none" stroke="#ff0000" stroke-width="10" stroke-linejoin="round" stroke-linecap="round"/>
<path d="M268.0 1714.8 276.8 1696.6 285.5 1684.7 294.2 1698.9 303.0 1711.8 311.8 1654.9 320.5 1683.8 329.2 1681.0 338.0 1709.8 346.8 1703.4 355.5 1681.1 364.2 1694.1 373.0 1673.7 381.8 1662.4 390.5 1713.9 399.2 1717.1 408.0 1672.3 416.8 1692.5 425.5 1679.2 434.2 1658.7 443.0 1668.1 451.8 1721.0 460.5 1680.4 469.2 1663.8 478.0 1696.6 486.8 1706.8 495.5 1709.2 504.2 1687.7 513.0 1702.8 521.8 1694.6 530.5 1721.0 539.2 1685.6 548.0 1708.0 556.8 1721.0 565.5 1674.4 574.2 1707.5 583.0 1696.2 591.8 1686.7 600.5 1691.6 609.2 1683.3 618.0 1673.5 626.8 1653.8 635.5 1658.3 644.2 1678.6 653.0 1694.7 661.8 1671.4 670.5 1662.6 679.2 1628.9 688.0 1662.4 696.8 1687.3 705.5 1654.7 714.2 1647.1 723.0 1669.7 731.8 1633.0 740.5 1624.8 749.2 1606.6 758.0 1613.5 766.8 1584.7 775.5 1610.1 784.2 1578.9 793.0 1563.1 801.8 1573.8 810.5 1579.0 819.2 1567.2 828.0 1524.7 836.8 1506.6 845.5 1519.8 854.2 1485.8 863.0 1510.3 871.8 1482.4 880.5 1491.6 889.2 1457.2 898.0 1458.4 906.8 1469.9 915.5 1450.3 924.2 1382.8 933.0 1412.5 941.8 1448.3 950.5 1424.7 959.2 1402.7 968.0 1398.8 976.8 1362.3 985.5 1387.8 994.2 1357.3 1003.0 1344.5 1011.8 1313.0 1020.5 1357.7 1029.2 1322.2 1038.0 1351.4 1046.8 1286.8 1055.5 1285.1 1064.2 1283.7 1073.0 1263.0 1081.8 1309.7 1090.5 1251.7 1099.2 1272.5 1108.0 1213.2 1116.8 1242.5 1125.5 1185.1 1134.2 1197.1 1143.0 1247.3 1151.8 1246.9 1160.5 1247.9 1169.2 1213.4 1178.0 1187.1 1186.8 1244.7 1195.5 1233.8 1204.2 1274.2 1213.0 1197.2 1221.8 1224.3 1230.5 1166.6 1239.2 1248.9 1248.0 1241.9 1256.8 1261.6 1265.5 1244.2 1274.2 1260.4 1283.0 1240.6 1291.8 1273.0 1300.5 1286.4 1309.2 1308.0 1318.0 1300.5 1326.8 1317.3 1335.5 1316.2 1344.2 1325.8 1353.0 1302.8 1361.8 1298.9 1370.5 1354.5 1379.2 1327.9 1388.0 1339.3 1396.8 1380.0 1405.5 1399.9 1414.2 1330.2 1423.0 1351.2 1431.8 1430.1 1440.5 1414.8 1449.2 1392.7 1458.0 1418.1 1466.8 1460.6 1475.5 1423.3 1484.2 1450.9 1493.0 1407.4 1501.8 1419.4 1510.5 1505.1 1519.2 1473.6 1528.0 1495.9 1536.8 1542.9 1545.5 1508.6 1554.2 1494.9 1563.0 1535.5 1571.8 1504.4 1580.5 1521.2 1589.2 1530.5 1598.0 1502.1 1606.8 1563.9 1615.5 1566.2 1624.2 1546.7 1633.0 1569.9 1641.8 1561.8 1650.5 1600.2 1659.2 1575.5 1668.0 1555.2 1676.8 1613.7 1685.5 1614.7 1694.2 1588.9 1703.0 1604.9 1711.8 1631.1 1720.5 1634.1 1729.2 1636.0 1738.0 1625.0 1746.8 1635.8 1755.5 1680.7 1764.2 1657.1 1773.0 1674.7 1781.8 1658.7 1790.5 1670.2 1799.2 1624.2 1808.0 1640.8 1816.8 1621.6 1825.5 1648.1 1834.2 1637.9 1843.0 1702.2" fill="none" stroke="#000" stroke-width="2.9" stroke-linejoin="round" stroke-linecap="round" stroke-linejoin="miter"/>
<path d="M268.0 1699.5 276.8 1701.7 285.5 1703.0 294.2 1674.7 303.0 1681.4 311.8 1703.7 320.5 1654.9 329.2 1695.5 338.0 1697.6 346.8 1690.5 355.5 1667.0 364.2 1701.6 373.0 1720.0 381.8 1698.1 390.5 1678.6 399.2 1694.3 408.0 1682.4 416.8 1703.7 425.5 1682.9 434.2 1706.5 443.0 1673.1 451.8 1668.0 460.5 1721.0 469.2 1700.7 478.0 1703.7 486.8 1703.7 495.5 1709.6 504.2 1690.7 513.0 1669.0 521.8 1661.9 530.5 1694.7 539.2 1686.2 548.0 1662.9 556.8 1670.2 565.5 1701.2 574.2 1695.8 583.0 1677.5 591.8 1683.6 600.5 1710.7 609.2 1705.4 618.0 1674.0 626.8 1705.0 635.5 1704.9 644.2 1694.0 653.0 1698.9 661.8 1706.7 670.5 1700.4 679.2 1693.2 688.0 1701.3 696.8 1680.0 705.5 1721.0 714.2 1675.9 723.0 1668.6 731.8 1674.3 740.5 1721.0 749.2 1694.6 758.0 1678.8 766.8 1659.7 775.5 1672.0 784.2 1674.6 793.0 1681.2 801.8 1664.2 810.5 1661.1 819.2 1689.7 828.0 1671.4 836.8 1632.7 845.5 1673.8 854.2 1635.5 863.0 1620.6 871.8 1627.8 880.5 1646.3 889.2 1614.5 898.0 1629.0 906.8 1625.4 915.5 1625.8 924.2 1632.7 933.0 1594.2 941.8 1597.0 950.5 1581.5 959.2 1580.0 968.0 1561.9 976.8 1581.3 985.5 1536.2 994.2 1570.1 1003.0 1532.0 1011.8 1542.2 1020.5 1544.9 1029.2 1536.4 1038.0 1519.4 1046.8 1537.7 1055.5 1530.8 1064.2 1489.1 1073.0 1508.3 1081.8 1503.9 1090.5 1532.5 1099.2 1517.6 1108.0 1491.7 1116.8 1509.2 1125.5 1469.3 1134.2 1489.5 1143.0 1523.8 1151.8 1477.4 1160.5 1491.8 1169.2 1545.3 1178.0 1471.5 1186.8 1460.7 1195.5 1473.1 1204.2 1481.4 1213.0 1501.2 1221.8 1481.0 1230.5 1490.8 1239.2 1471.2 1248.0 1488.4 1256.8 1497.0 1265.5 1493.3 1274.2 1514.4 1283.0 1510.5 1291.8 1471.7 1300.5 1507.3 1309.2 1559.2 1318.0 1550.0 1326.8 1504.5 1335.5 1532.5 1344.2 1535.5 1353.0 1542.2 1361.8 1552.9 1370.5 1566.2 1379.2 1510.5 1388.0 1522.9 1396.8 1558.8 1405.5 1524.0 1414.2 1526.0 1423.0 1588.4 1431.8 1611.8 1440.5 1578.8 1449.2 1568.8 1458.0 1543.8 1466.8 1560.0 1475.5 1575.6 1484.2 1568.7 1493.0 1566.9 1501.8 1604.9 1510.5 1606.1 1519.2 1592.7 1528.0 1618.3 1536.8 1617.4 1545.5 1597.7 1554.2 1585.6 1563.0 1609.1 1571.8 1636.1 1580.5 1616.3 1589.2 1606.6 1598.0 1653.0 1606.8 1633.9 1615.5 1590.4 1624.2 1647.2 1633.0 1649.9 1641.8 1675.4 1650.5 1665.3 1659.2 1600.6 1668.0 1657.2 1676.8 1667.7 1685.5 1672.4 1694.2 1687.1 1703.0 1646.2 1711.8 1672.7 1720.5 1681.0 1729.2 1690.0 1738.0 1677.8 1746.8 1684.5 1755.5 1650.0 1764.2 1659.8 1773.0 1663.7 1781.8 1659.2 1790.5 1664.3 1799.2 1674.6 1808.0 1664.4 1816.8 1679.9 1825.5 1652.6 1834.2 1663.7 1843.0 1678.3" fill="none" stroke="#000" stroke-width="2.9" stroke-linejoin="round" stroke-linecap="round" stroke-linejoin="miter"/>
<path d="M268.0 1696.3 276.8 1703.1 285.5 1705.1 294.2 1690.7 303.0 1673.2 311.8 1694.1 320.5 1720.0 329.2 1680.0 338.0 1702.0 346.8 1695.5 355.5 1660.3 364.2 1654.9 373.0 1677.9 381.8 1674.2 390.5 1717.7 399.2 1665.6 408.0 1715.5 416.8 1689.1 425.5 1679.0 434.2 1697.3 443.0 1720.8 451.8 1686.3 460.5 1675.3 469.2 1721.0 478.0 1693.5 486.8 1665.1 495.5 1657.9 504.2 1653.2 513.0 1680.4 521.8 1679.6 530.5 1689.2 539.2 1654.9 548.0 1715.5 556.8 1689.1 565.5 1680.1 574.2 1686.7 583.0 1716.4 591.8 1689.0 600.5 1689.0 609.2 1707.5 618.0 1698.2 626.8 1683.6 635.5 1704.3 644.2 1685.2 653.0 1643.4 661.8 1711.7 670.5 1694.6 679.2 1653.1 688.0 1709.3 696.8 1707.2 705.5 1687.4 714.2 1698.7 723.0 1656.6 731.8 1689.6 740.5 1674.5 749.2 1719.5 758.0 1721.0 766.8 1669.1 775.5 1702.4 784.2 1714.8 793.0 1685.7 801.8 1705.6 810.5 1721.0 819.2 1721.0 828.0 1696.5 836.8 1721.0 845.5 1715.7 854.2 1637.6 863.0 1686.3 871.8 1672.0 880.5 1665.6 889.2 1707.5 898.0 1714.3 906.8 1672.2 915.5 1706.1 924.2 1620.8 933.0 1630.1 941.8 1669.0 950.5 1683.9 959.2 1656.6 968.0 1618.9 976.8 1616.9 985.5 1614.2 994.2 1626.5 1003.0 1638.6 1011.8 1634.3 1020.5 1646.8 1029.2 1624.5 1038.0 1654.0 1046.8 1643.3 1055.5 1638.1 1064.2 1599.6 1073.0 1611.0 1081.8 1613.5 1090.5 1632.4 1099.2 1617.9 1108.0 1623.8 1116.8 1626.7 1125.5 1621.2 1134.2 1576.2 1143.0 1600.5 1151.8 1587.1 1160.5 1639.7 1169.2 1598.6 1178.0 1618.1 1186.8 1626.9 1195.5 1616.8 1204.2 1620.8 1213.0 1604.2 1221.8 1591.8 1230.5 1623.2 1239.2 1584.0 1248.0 1599.2 1256.8 1612.5 1265.5 1583.0 1274.2 1602.0 1283.0 1595.8 1291.8 1630.4 1300.5 1606.0 1309.2 1587.0 1318.0 1626.7 1326.8 1629.0 1335.5 1660.0 1344.2 1619.1 1353.0 1595.9 1361.8 1629.4 1370.5 1644.7 1379.2 1645.7 1388.0 1642.0 1396.8 1594.8 1405.5 1627.1 1414.2 1619.7 1423.0 1676.5 1431.8 1637.3 1440.5 1633.4 1449.2 1640.6 1458.0 1644.4 1466.8 1618.3 1475.5 1649.5 1484.2 1672.7 1493.0 1628.0 1501.8 1660.0 1510.5 1643.1 1519.2 1633.3 1528.0 1668.3 1536.8 1654.9 1545.5 1691.6 1554.2 1667.2 1563.0 1685.8 1571.8 1648.6 1580.5 1640.1 1589.2 1692.4 1598.0 1705.6 1606.8 1703.8 1615.5 1678.3 1624.2 1656.3 1633.0 1654.1 1641.8 1664.8 1650.5 1666.9 1659.2 1682.1 1668.0 1653.8 1676.8 1670.5 1685.5 1647.2 1694.2 1677.8 1703.0 1706.0 1711.8 1678.8 1720.5 1647.0 1729.2 1663.2 1738.0 1658.8 1746.8 1659.5 1755.5 1668.2 1764.2 1696.4 1773.0 1693.9 1781.8 1695.5 1790.5 1693.1 1799.2 1717.2 1808.0 1690.6 1816.8 1676.6 1825.5 1692.1 1834.2 1669.7 1843.0 1656.9" fill="none" stroke="#000" stroke-width="2.9" stroke-linejoin="round" stroke-linecap="round" stroke-linejoin="miter"/>
</g>
<text x="605" y="766" font-size="73" fill="#008000">4.8 ps</text>
<text x="535" y="1012.7" font-size="73" fill="#008000">4.8 ps</text>
<text x="535" y="1146.5" font-size="73">0.4 ps</text>
<text x="932" y="882.4" font-size="73" fill="#ff0000">360 ps</text>
<path d="M795.7 789L842 801.2" stroke="#000" stroke-width="4.5" stroke-linecap="round"/>
<path d="M847.7 782.4L836.7 822.8L915.5 823.6Z" fill="#000" stroke="#000" stroke-width="1.5" stroke-linejoin="round"/>
<path d="M721 1138V1060" stroke="#000" stroke-width="3.8" stroke-linecap="round"/>
<path d="M721 988L700.5 1066.6H741.8Z" fill="#000" stroke="#000" stroke-width="1.5" stroke-linejoin="round"/>
<rect x="1248" y="641.3" width="551" height="384" fill="#fff" stroke="#000" stroke-width="4.1"/>
<path d="M1272.7 641.3v10M1272.7 1025.3v-10M1334.3 641.3v6M1334.3 1025.3v-6M1395.6 641.3v10M1395.6 1025.3v-10M1457.3 641.3v6M1457.3 1025.3v-6M1607 641.3v6M1607 1025.3v-6M1634.5 641.3v10M1634.5 1025.3v-10M1713.6 641.3v6M1713.6 1025.3v-6M1741 641.3v10M1741 1025.3v-10" stroke="#000" stroke-width="3.9" stroke-linecap="round" fill="none"/>
<path d="M1514 652.3l9 -21M1523.5 652.3l9 -21" stroke="#000" stroke-width="4.6" fill="none"/>
<path d="M1514 1036.3l9 -21M1523.5 1036.3l9 -21" stroke="#000" stroke-width="4.6" fill="none"/>
<clipPath id="cI"><rect x="1249" y="643" width="549" height="381"/></clipPath><g clip-path="url(#cI)">
<path d="M1249.7 999.9 1253.6 1001.8 1257.5 1013.5 1261.4 999.9 1264.4 1009.6 1268.2 1007.7 1271.2 990.1 1274.1 960.9 1277.0 931.7 1279.9 873.2 1282.5 834.3 1285.2 799.2 1287.7 791.4 1290.3 787.5 1292.6 803.1 1295.5 816.8 1299.4 823.6 1302.3 851.8 1307.2 851.8 1312.1 861.6 1317.5 881.0 1322.8 886.9 1328.1 871.3 1334.5 894.7 1340.9 884.0 1347.1 892.7 1354.0 899.5 1362.7 916.1 1368.6 923.9 1375.4 931.7 1383.2 922.9 1391.9 922.9 1399.7 938.5 1409.1 926.8 1418.2 928.8 1428.6 912.2 1438.7 932.7 1450.4 944.4 1461.1 956.0 1474.4 928.8 1486.4 943.4 1499.1 949.2 1511.8 957.0 1518.6 955.1" fill="none" stroke="#000" stroke-width="3.2" stroke-linejoin="round" stroke-linecap="round"/>
<path d="M1528.5 953.1 1531.9 960.9 1535.3 959.0 1538.2 952.6 1541.2 944.4 1544.6 945.2 1548.0 947.3 1552.9 970.6 1557.7 943.4 1562.6 949.2 1566.0 940.8 1569.4 936.6 1573.3 947.1 1577.2 955.1 1581.1 951.2 1585.5 961.4 1589.9 970.6 1592.8 974.2 1595.7 968.7 1598.7 962.0 1601.6 961.9 1604.5 958.6 1607.4 956.0 1612.3 970.6 1616.7 969.0 1621.0 971.6 1624.9 978.4 1628.8 966.8 1633.7 964.8 1637.1 969.4 1640.5 984.3 1643.5 974.1 1646.4 970.6 1650.3 980.4 1655.1 964.8 1660.0 988.2 1664.9 972.6 1668.3 973.1 1671.7 986.2 1675.1 990.6 1678.5 997.9 1683.4 981.4 1687.3 982.0 1691.2 986.2 1694.6 984.6 1698.0 981.4 1702.9 997.9 1706.8 1008.4 1710.6 1007.7 1713.6 982.3 1718.4 980.4 1723.3 1007.7 1727.2 990.1 1732.1 990.1 1736.0 994.2 1739.9 1007.7 1744.8 1006.4 1749.6 1007.7 1753.5 999.9 1755.5 1016.4 1758.4 1011.2 1761.3 1001.8 1764.2 1010.0 1767.1 1016.4 1771.0 1001.8 1776.8 1001.8 1782.7 999.9 1786.1 999.7 1789.5 998.9" fill="none" stroke="#000" stroke-width="3.1" stroke-linejoin="round" stroke-linecap="round"/>
<path d="M1249.7 997.9 1254.6 999.9 1259.5 1007.7 1265.3 996.0 1269.2 974.5 1272.1 951.2 1275.1 912.2 1278.0 873.2 1280.9 844.0 1283.8 814.8 1286.8 801.2 1289.7 796.3 1294.5 795.3 1298.4 775.8 1302.7 769.0 1307.2 783.6 1312.1 799.2 1317.5 811.9 1322.8 797.3 1328.1 811.9 1334.5 797.3 1340.9 785.6 1346.2 787.5 1352.0 809.0 1359.8 819.7 1366.6 819.7 1374.4 817.7 1383.2 824.5 1391.9 842.1 1399.7 840.1 1409.1 826.5 1418.2 841.1 1428.6 841.1 1438.7 857.7 1450.4 841.1 1461.1 848.9 1474.4 851.8 1486.4 858.6 1499.7 839.2 1512.7 869.4 1518.6 869.4" fill="none" stroke="#008000" stroke-width="3.2" stroke-linejoin="round" stroke-linecap="round"/>
<path d="M1528.5 870.3 1531.5 854.5 1534.4 851.8 1538.2 861.6 1542.1 838.2 1547.0 859.6 1549.9 852.8 1553.8 869.4 1557.7 869.4 1560.6 852.8 1565.5 856.7 1568.4 846.0 1572.3 861.6 1577.2 863.5 1581.1 856.7 1584.0 869.4 1587.0 864.8 1589.9 860.6 1593.8 875.2 1598.6 866.4 1602.0 879.0 1605.5 882.0 1610.3 864.5 1613.2 875.4 1616.2 888.8 1619.1 888.2 1622.0 884.0 1625.9 872.3 1630.8 905.4 1635.6 881.0 1640.5 906.4 1644.4 881.0 1649.3 906.4 1653.2 914.2 1658.1 889.8 1661.9 912.2 1665.8 939.5 1669.7 912.2 1673.6 923.9 1677.1 900.5 1681.4 931.7 1686.3 941.4 1691.2 951.2 1694.1 953.1 1697.0 960.9 1700.0 962.5 1702.9 962.9 1706.8 945.3 1709.7 954.1 1712.6 970.6 1716.0 959.2 1719.4 955.1 1722.3 980.4 1727.2 964.8 1732.1 981.4 1736.9 970.6 1740.3 990.6 1743.8 997.9 1747.2 995.6 1750.6 989.2 1755.5 994.0 1758.9 995.1 1762.3 1009.6 1765.7 1006.8 1769.1 990.1 1773.9 1002.6 1778.8 1008.6 1782.7 1011.3 1786.6 1007.7 1789.5 1017.4" fill="none" stroke="#008000" stroke-width="3.1" stroke-linejoin="round" stroke-linecap="round"/>
<path d="M1249.7 1007.7 1251.7 1017.4 1254.6 999.9 1258.5 1015.5 1261.4 1001.8 1264.4 1015.5 1267.3 990.1 1273.1 976.5 1276.0 941.4 1279.0 902.5 1281.9 873.2 1284.8 844.0 1287.7 824.5 1289.7 814.8 1294.5 814.8 1298.4 805.1 1305.3 796.3 1311.1 785.6 1317.9 787.5 1322.8 785.6 1328.1 767.1 1334.5 795.3 1340.9 785.6 1346.2 782.7 1353.4 760.3 1360.8 779.7 1367.0 806.0 1374.4 776.8 1383.2 784.6 1391.9 795.3 1399.7 785.6 1409.1 795.3 1418.2 788.5 1428.6 763.2 1438.7 770.0 1450.4 797.3 1461.1 797.3 1474.4 764.2 1486.4 792.4 1499.7 786.6 1512.7 811.9 1518.6 809.0" fill="none" stroke="#ff0000" stroke-width="3.2" stroke-linejoin="round" stroke-linecap="round"/>
<path d="M1528.5 807.0 1531.5 790.5 1534.4 785.6 1539.2 814.8 1542.2 805.2 1545.1 803.1 1549.9 779.7 1554.8 791.4 1559.7 814.8 1563.1 791.2 1566.5 770.0 1569.4 785.9 1572.3 807.0 1577.2 787.5 1580.6 787.5 1584.0 785.6 1587.0 800.8 1589.9 814.8 1592.8 818.1 1595.7 812.9 1599.6 804.6 1603.5 784.6 1606.5 792.2 1609.4 799.2 1613.2 816.8 1616.2 810.8 1619.1 807.0 1623.0 829.4 1625.9 820.0 1628.8 822.6 1631.8 836.2 1636.6 817.7 1640.5 830.4 1645.4 847.9 1649.3 834.3 1652.2 855.5 1655.1 865.5 1658.5 852.7 1661.9 842.1 1664.8 868.6 1667.8 892.7 1670.7 855.7 1675.6 877.1 1678.5 869.2 1681.4 869.4 1685.3 894.7 1688.2 889.6 1691.2 885.9 1696.0 922.9 1700.9 906.4 1704.8 908.3 1708.7 941.4 1712.6 932.2 1716.5 923.9 1720.9 932.0 1725.3 951.2 1728.7 948.4 1732.1 933.6 1736.9 968.7 1740.3 967.9 1743.8 976.5 1748.6 953.1 1751.6 986.2 1755.5 970.6 1758.4 985.6 1761.3 990.1 1764.2 992.6 1767.1 1007.7 1770.0 1005.8 1773.0 990.1 1776.9 990.4 1780.8 1001.8 1783.7 989.2 1786.6 979.4 1789.5 1007.7" fill="none" stroke="#ff0000" stroke-width="3.1" stroke-linejoin="round" stroke-linecap="round"/>
</g>
<path d="M1265.5 696H1374" stroke="#000" stroke-width="4"/>
<path d="M1537.5 685H1647" stroke="#008000" stroke-width="4.2"/>
<path d="M1537.5 744.7H1647" stroke="#ff0000" stroke-width="4.2"/>
<text transform="translate(1386,711.5) scale(1,1.04)" font-size="46.6">515nm</text>
<text transform="translate(1659,700.2) scale(1,1.04)" font-size="46.6">548nm</text>
<text transform="translate(1659,760.2) scale(1,1.04)" font-size="46.6">583nm</text>
<text transform="translate(1273.3,1081.8) scale(1,1.11)" font-size="58.5" text-anchor="middle">0</text>
<text transform="translate(1394.7,1081.8) scale(1,1.11)" font-size="58.5" text-anchor="middle">5</text>
<text transform="translate(1520.6,1081.8) scale(1,1.11)" font-size="58.5" text-anchor="middle">10</text>
<text transform="translate(1635.2,1081.8) scale(1,1.11)" font-size="58.5" text-anchor="middle">100</text>
<text transform="translate(1741.9,1081.8) scale(1,1.11)" font-size="58.5" text-anchor="middle">1000</text>
<text transform="translate(1524.5,1162.2) scale(1,1.07)" font-size="71.7" text-anchor="middle">time / ps</text>
<text transform="translate(1151.7,780.6) scale(1,1.03)" font-size="69">FI</text>
<clipPath id="cC"><rect x="266" y="1723" width="1586" height="563"/></clipPath><g clip-path="url(#cC)">
<path d="M268.1 2278.3 286.9 2258.1 292.3 2232.6 300.4 2244.7 308.4 2223.1 316.5 2247.4 323.2 2243.3 331.3 2260.8 340.7 2281.0 351.5 2282.3 358.2 2251.4 364.9 2255.4 371.7 2281.0 378.4 2266.2 382.4 2231.2 387.8 2193.5 391.8 2174.7 399.9 2169.3 408.0 2138.4 413.4 2077.8 424.1 2065.7 430.9 2096.7 437.6 2090.0 447.0 2071.1 455.1 2110.1 463.1 2172.0 472.6 2145.1 479.3 2072.5 487.4 2059.0 494.1 2112.8 502.2 2080.5 510.2 2024.0 519.6 2013.3 526.4 2061.7 535.8 2021.3 542.5 1921.8 550.6 1950.0 560.0 1939.3 567.3 1876.1 576.1 1905.7 582.9 1873.4 592.3 1894.9 600.4 1911.0 608.4 1890.9 616.5 1792.6 624.6 1866.6 632.6 1835.7 641.5 1800.7 649.6 1833.0 656.9 1802.1 667.6 1807.4 674.8 1764.4 682.9 1780.5 692.3 1763.0 700.4 1845.1 709.8 1773.8 717.8 1757.7 725.9 1811.5 734.0 1736.1 744.8 1736.1 751.5 1794.0 760.9 1767.1 769.0 1741.5 778.4 1749.6 785.1 1794.0 794.5 1792.6 803.9 1798.0 812.0 1763.0 820.1 1784.6 829.5 1790.0 837.6 1767.1 847.0 1792.6 855.1 1849.1 865.8 1849.1 873.9 1746.9 882.0 1810.1 891.4 1779.2 900.3 1835.7 908.9 1795.3 918.8 1763.0 927.7 1814.2 937.1 1841.1 945.2 1925.8 954.6 1799.4 964.0 1876.1 972.1 1865.3 982.9 1876.1 991.5 1842.4 1000.4 1862.6 1009.8 1881.4 1017.8 1943.3 1028.1 1909.7 1036.7 1924.5 1044.8 1962.2 1055.5 2048.3 1064.9 1943.3 1074.8 1898.9 1082.9 2010.6 1093.6 2033.5 1103.0 1997.1 1113.0 1977.0 1121.9 2005.2 1131.3 2022.7 1140.7 2001.2 1150.7 2025.4 1160.1 2003.9 1169.0 2026.7 1179.7 2038.8 1189.7 1997.1 1198.6 2032.1 1208.0 2071.1 1218.7 2056.3 1228.2 2100.7 1238.9 2103.4 1247.5 2145.1 1257.8 2096.7 1267.2 2150.5 1276.6 2098.0 1288.7 2103.4 1298.1 2135.7 1307.5 2098.0 1317.0 2134.3 1326.4 2139.7 1337.1 2096.7 1346.5 2147.8 1356.0 2185.5 1365.4 2193.5 1376.1 2196.2 1388.3 2190.9 1399.0 2177.4 1408.4 2161.3 1417.8 2185.5 1428.6 2147.8 1439.4 2211.0 1451.5 2208.3 1460.9 2161.3 1469.4 2172.0 1480.2 2208.3 1490.9 2205.7 1501.7 2193.5 1512.5 2186.8 1523.2 2268.9 1534.0 2220.4 1544.8 2177.4 1554.2 2242.0 1564.9 2254.1 1575.7 2231.2 1587.8 2220.4 1597.2 2244.7 1608.0 2247.4 1618.7 2236.6 1629.5 2207.0 1640.3 2209.7 1651.0 2255.4 1661.8 2247.4 1672.6 2266.2 1684.7 2285.0 1695.4 2268.9 1706.2 2247.4 1717.0 2268.9 1727.7 2231.2 1738.5 2247.4 1749.2 2250.0 1760.0 2260.8 1770.8 2282.3 1782.9 2293.1 1793.6 2266.2 1804.4 2290.4 1815.2 2271.6 1825.9 2282.3 1836.7 2279.6 1847.4 2278.3" fill="none" stroke="#000" stroke-width="13" stroke-linejoin="round" stroke-linecap="round"/>
<path d="M268.1 2271.6 276.1 2263.5 286.9 2279.6 300.4 2282.3 313.8 2281.0 330.0 2279.6 346.1 2244.7 354.2 2279.6 362.2 2282.3 375.7 2255.4 383.8 2274.3 394.5 2281.0 410.7 2282.3 426.8 2279.6 448.3 2278.3 464.5 2254.1 475.2 2254.1 486.0 2268.9 494.1 2244.7 502.2 2258.1 512.9 2247.4 526.4 2217.8 534.4 2223.1 542.5 2255.4 549.2 2225.8 558.7 2201.6 569.4 2215.1 577.5 2197.6 593.6 2197.6 601.7 2180.1 608.4 2174.7 616.5 2186.8 623.2 2163.9 636.7 2157.2 648.8 2142.4 658.2 2149.1 667.6 2139.7 674.8 2147.8 682.9 2114.2 692.3 2123.6 700.4 2096.7 709.8 2098.0 717.8 2103.4 725.9 2057.7 735.3 2072.5 743.4 2073.8 751.5 2034.8 759.6 2041.5 767.6 2021.3 777.0 2028.1 786.5 2017.3 794.5 1985.0 803.9 1985.0 812.0 2007.9 821.4 1978.3 829.5 1952.7 837.6 1972.9 847.0 1936.6 856.4 1925.8 864.5 1919.1 873.9 1935.2 882.0 1903.0 891.4 1907.0 900.3 1909.7 908.9 1898.9 918.8 1905.7 927.7 1878.7 937.1 1874.7 945.2 1854.5 954.6 1870.7 964.0 1857.2 972.1 1854.5 982.9 1861.3 991.5 1863.9 1000.4 1861.3 1009.8 1854.5 1017.8 1837.0 1028.1 1847.8 1036.7 1838.4 1046.1 1855.9 1055.5 1831.7 1064.9 1859.9 1074.8 1876.1 1084.2 1846.5 1093.6 1845.1 1103.0 1863.9 1113.0 1857.2 1121.9 1877.4 1131.3 1866.6 1140.7 1868.0 1151.5 1877.4 1160.1 1897.6 1169.0 1907.0 1179.7 1912.4 1189.7 1955.4 1198.6 1951.4 1208.0 1920.4 1218.7 1946.0 1228.2 1936.6 1237.6 1950.0 1247.5 1935.2 1257.8 1978.3 1267.2 1974.3 1276.6 1971.6 1288.7 1990.4 1298.1 2005.2 1307.5 2025.4 1317.5 2006.5 1327.7 2016.0 1337.1 2037.5 1346.5 2042.9 1356.0 2046.9 1366.7 2052.3 1378.8 2045.6 1388.3 2076.5 1399.0 2064.4 1408.4 2077.8 1419.2 2071.1 1428.6 2114.2 1439.4 2098.0 1450.1 2095.3 1460.9 2111.5 1470.8 2120.9 1480.2 2112.8 1490.9 2135.7 1501.7 2149.1 1512.5 2154.5 1523.2 2130.3 1532.6 2130.3 1543.4 2155.9 1554.2 2150.5 1564.9 2158.6 1575.7 2150.5 1586.5 2170.7 1597.2 2162.6 1608.0 2169.3 1618.7 2185.5 1629.5 2198.9 1640.3 2200.3 1651.0 2186.8 1661.8 2198.9 1672.6 2207.0 1684.7 2211.0 1695.4 2196.2 1706.2 2229.9 1717.0 2221.8 1727.7 2237.9 1738.5 2231.2 1749.2 2223.1 1760.0 2243.3 1770.8 2236.6 1782.9 2236.6 1793.6 2247.4 1804.4 2250.0 1817.8 2243.3 1828.6 2266.2 1842.1 2255.4 1848.8 2258.1" fill="none" stroke="#00ff00" stroke-width="12" stroke-linejoin="round" stroke-linecap="round"/>
<path d="M268.1 2277.0 313.8 2274.3 340.7 2271.6 367.6 2272.9 394.5 2268.9 416.1 2260.8 426.8 2266.2 443.0 2260.8 459.1 2266.2 475.2 2259.5 491.4 2259.5 510.2 2254.1 526.4 2258.1 542.5 2248.7 553.3 2255.4 564.0 2251.4 574.8 2243.3 585.6 2246.0 600.4 2237.9 617.8 2240.6 631.3 2239.3 644.8 2231.2 658.2 2232.6 666.3 2229.9 670.8 2225.8 682.9 2216.4 692.3 2220.4 700.4 2217.8 709.8 2208.3 717.8 2204.3 725.9 2203.0 735.3 2193.5 743.4 2186.8 751.5 2184.1 759.6 2190.9 767.6 2182.8 777.0 2169.3 786.5 2165.3 794.5 2166.6 803.9 2157.2 812.0 2147.8 821.4 2143.8 829.5 2135.7 837.6 2127.6 847.0 2108.8 856.4 2110.1 864.5 2099.4 873.9 2090.0 882.0 2079.2 891.4 2072.5 900.3 2063.0 908.9 2052.3 918.8 2041.5 927.7 2032.1 937.1 2022.7 945.2 2016.0 954.6 1999.8 964.0 1999.8 972.1 1991.7 982.9 1975.6 991.5 1967.5 1000.4 1963.5 1009.8 1959.5 1017.8 1952.7 1028.1 1943.3 1036.7 1927.2 1046.1 1931.2 1055.5 1920.4 1064.9 1916.4 1074.8 1901.6 1084.2 1908.3 1093.6 1911.0 1103.0 1901.6 1113.0 1903.0 1121.9 1897.6 1131.3 1896.2 1140.7 1894.9 1151.5 1898.9 1160.1 1901.6 1169.0 1900.3 1179.7 1892.2 1189.7 1900.3 1198.6 1907.0 1208.0 1908.3 1218.7 1908.3 1228.2 1925.8 1237.6 1924.5 1247.5 1927.2 1257.8 1929.9 1267.2 1928.5 1276.6 1944.7 1288.7 1947.4 1298.1 1948.7 1307.5 1963.5 1317.5 1967.5 1327.7 1968.9 1337.1 1981.0 1346.5 1983.7 1356.0 1989.1 1366.7 1997.1 1378.8 1993.1 1388.3 2010.6 1399.0 2018.7 1408.4 2021.3 1419.2 2033.5 1431.3 2040.2 1439.4 2049.6 1450.1 2052.3 1460.9 2052.3 1470.8 2067.1 1481.5 2075.2 1490.9 2087.3 1501.7 2081.9 1512.5 2092.6 1523.2 2104.8 1534.0 2110.1 1544.8 2116.9 1554.2 2123.6 1564.9 2135.7 1575.7 2138.4 1586.5 2138.4 1597.2 2149.1 1608.0 2154.5 1618.7 2157.2 1629.5 2162.6 1640.3 2168.0 1651.0 2174.7 1661.8 2185.5 1672.6 2182.8 1684.7 2193.5 1695.4 2200.3 1706.2 2208.3 1717.0 2207.0 1727.7 2215.1 1738.5 2223.1 1749.2 2227.2 1760.0 2236.6 1770.8 2239.3 1782.9 2243.3 1793.6 2244.7 1804.4 2244.7 1817.8 2251.4 1828.6 2260.8 1842.1 2255.4 1848.8 2254.1" fill="none" stroke="#808080" stroke-width="11" stroke-linejoin="round" stroke-linecap="round"/>
<path d="M268.1 2266.2 276.1 2260.8 286.9 2250.0 295.0 2266.2 303.0 2258.1 311.1 2268.9 321.9 2255.4 332.6 2266.2 346.1 2260.8 354.2 2268.9 362.2 2259.5 370.3 2268.9 383.8 2263.5 394.5 2270.2 410.7 2268.9 426.8 2263.5 443.0 2274.3 456.4 2275.6 469.9 2263.5 480.6 2274.3 494.1 2266.2 510.2 2275.6 526.4 2266.2 542.5 2274.3 556.0 2271.6 566.7 2266.2 577.5 2275.6 590.9 2270.2 609.8 2271.6 623.2 2266.2 647.4 2275.6 666.3 2264.8 674.8 2274.3 682.9 2274.3 692.3 2274.3 700.4 2270.2 709.8 2264.8 717.8 2268.9 725.9 2262.2 735.3 2266.2 744.8 2268.9 751.5 2267.5 759.6 2263.5 767.6 2262.2 777.0 2263.5 785.1 2250.0 794.5 2255.4 803.9 2252.7 812.0 2248.7 821.4 2251.4 829.5 2242.0 837.6 2247.4 847.0 2236.6 856.4 2225.8 864.5 2227.2 873.9 2219.1 882.0 2228.5 891.4 2223.1 900.3 2220.4 908.9 2212.4 918.8 2201.6 927.7 2204.3 937.1 2198.9 945.2 2197.6 954.6 2186.8 964.0 2180.1 972.1 2170.7 982.9 2185.5 991.5 2172.0 1000.4 2168.0 1009.8 2157.2 1017.8 2155.9 1028.1 2143.8 1036.7 2145.1 1046.1 2141.1 1055.5 2157.2 1064.9 2139.7 1074.8 2134.3 1084.2 2112.8 1093.6 2138.4 1103.0 2116.9 1113.0 2114.2 1121.9 2122.2 1131.3 2122.2 1140.7 2119.6 1151.5 2120.9 1160.1 2111.5 1169.0 2120.9 1179.7 2129.0 1189.7 2120.9 1198.6 2126.3 1208.0 2114.2 1218.7 2120.9 1228.2 2120.9 1237.6 2129.0 1247.5 2124.9 1257.8 2123.6 1267.2 2134.3 1276.6 2124.9 1288.7 2118.2 1298.1 2142.4 1307.5 2143.8 1317.5 2145.1 1327.7 2149.1 1337.1 2141.1 1346.5 2149.1 1356.0 2155.9 1366.7 2151.8 1378.8 2162.6 1388.3 2155.9 1399.0 2172.0 1408.4 2169.3 1419.2 2174.7 1431.3 2180.1 1439.4 2177.4 1450.1 2173.4 1460.9 2184.1 1470.8 2186.8 1480.2 2177.4 1490.9 2196.2 1501.7 2193.5 1512.5 2197.6 1523.2 2209.7 1534.0 2203.0 1544.8 2211.0 1554.2 2215.1 1566.3 2204.3 1575.7 2207.0 1587.8 2217.8 1597.2 2213.7 1608.0 2223.1 1618.7 2220.4 1629.5 2225.8 1640.3 2223.1 1651.0 2217.8 1661.8 2239.3 1672.6 2240.6 1684.7 2237.9 1695.4 2242.0 1706.2 2252.7 1717.0 2244.7 1727.7 2251.4 1738.5 2251.4 1749.2 2250.0 1760.0 2256.8 1770.8 2250.0 1782.9 2255.4 1793.6 2255.4 1804.4 2258.1 1817.8 2252.7 1828.6 2263.5 1836.7 2263.5 1848.8 2251.4" fill="none" stroke="#ff0000" stroke-width="11.5" stroke-linejoin="round" stroke-linecap="round"/>
</g>
<path d="M1462 1782.5H1610" stroke="#000" stroke-width="13" stroke-linecap="round"/>
<path d="M1462 1865.3H1610" stroke="#00ff00" stroke-width="12.5" stroke-linecap="round"/>
<path d="M1462 1948H1610" stroke="#808080" stroke-width="11.5" stroke-linecap="round"/>
<path d="M1462 2031H1610" stroke="#ff0000" stroke-width="11.5" stroke-linecap="round"/>
<text transform="translate(1625.9,1805.0) scale(1,1.054)" font-size="66.4">0.68 ps</text>
<text transform="translate(1625.9,1887.9) scale(1,1.054)" font-size="66.4">3.0 ps</text>
<text transform="translate(1625.9,1970.8) scale(1,1.054)" font-size="66.4">270 ps</text>
<text transform="translate(1625.9,2053.7) scale(1,1.054)" font-size="66.4">830 ps</text>
<path d="M292.1 595.5v15.5M292.1 1722.5v-15.5M292.1 1722.5v15.5M292.1 2285.5v-15.5M424.3 595.5v30.8M424.3 1722.5v-30.8M424.3 1722.5v30.8M424.3 2285.5v-30.8M556.5 595.5v15.5M556.5 1722.5v-15.5M556.5 1722.5v15.5M556.5 2285.5v-15.5M688.7 595.5v30.8M688.7 1722.5v-30.8M688.7 1722.5v30.8M688.7 2285.5v-30.8M820.9 595.5v15.5M820.9 1722.5v-15.5M820.9 1722.5v15.5M820.9 2285.5v-15.5M953.1 595.5v30.8M953.1 1722.5v-30.8M953.1 1722.5v30.8M953.1 2285.5v-30.8M1085.3 595.5v15.5M1085.3 1722.5v-15.5M1085.3 1722.5v15.5M1085.3 2285.5v-15.5M1217.5 595.5v30.8M1217.5 1722.5v-30.8M1217.5 1722.5v30.8M1217.5 2285.5v-30.8M1349.7 595.5v15.5M1349.7 1722.5v-15.5M1349.7 1722.5v15.5M1349.7 2285.5v-15.5M1481.9 595.5v30.8M1481.9 1722.5v-30.8M1481.9 1722.5v30.8M1481.9 2285.5v-30.8M1614.1 595.5v15.5M1614.1 1722.5v-15.5M1614.1 1722.5v15.5M1614.1 2285.5v-15.5M1746.3 595.5v30.8M1746.3 1722.5v-30.8M1746.3 1722.5v30.8M1746.3 2285.5v-30.8M265.5 713.6h15M1852.5 713.6h-15M265.5 910.3h29.8M1852.5 910.3h-29.8M265.5 1107.0h15M1852.5 1107.0h-15M265.5 1303.7h29.8M1852.5 1303.7h-29.8M265.5 1500.3h15M1852.5 1500.3h-15M265.5 1697.0h29.8M1852.5 1697.0h-29.8M265.5 1801.0h29.8M1852.5 1801.0h-29.8M265.5 1918.3h15M1852.5 1918.3h-15M265.5 2035.6h29.8M1852.5 2035.6h-29.8M265.5 2152.9h15M1852.5 2152.9h-15M265.5 2270.2h29.8M1852.5 2270.2h-29.8" stroke="#000" stroke-width="7" stroke-linecap="round" fill="none"/>
<path d="M265.5 117.0H1852.5V2285.5H265.5Z M265.5 1722.5H1852.5" stroke="#000" stroke-width="7" fill="none" stroke-linejoin="round"/>
<path d="M265.5 595.75H1852.5" stroke="#000" stroke-width="8" fill="none"/>
<text transform="translate(424.9,2377.6) scale(1,1.06)" font-size="74" text-anchor="middle">450</text>
<text transform="translate(689.4,2377.6) scale(1,1.06)" font-size="74" text-anchor="middle">500</text>
<text transform="translate(953.8,2377.6) scale(1,1.06)" font-size="74" text-anchor="middle">550</text>
<text transform="translate(1218.2,2377.6) scale(1,1.06)" font-size="74" text-anchor="middle">600</text>
<text transform="translate(1482.6,2377.6) scale(1,1.06)" font-size="74" text-anchor="middle">650</text>
<text transform="translate(1747.0,2377.6) scale(1,1.06)" font-size="74" text-anchor="middle">700</text>
<text transform="translate(234.2,933.5) scale(1,1.06)" font-size="74" text-anchor="end">30</text>
<text transform="translate(234.2,1824.2) scale(1,1.06)" font-size="74" text-anchor="end">30</text>
<text transform="translate(234.2,1326.9) scale(1,1.06)" font-size="74" text-anchor="end">15</text>
<text transform="translate(234.2,2058.8) scale(1,1.06)" font-size="74" text-anchor="end">15</text>
<text transform="translate(234.2,1720.2) scale(1,1.06)" font-size="74" text-anchor="end">0</text>
<text transform="translate(234.2,2293.4) scale(1,1.06)" font-size="74" text-anchor="end">0</text>
<text x="1059.5" y="2493.5" font-size="88" text-anchor="middle">λ / nm</text>
<text transform="translate(344.0,222.8) scale(1,1.04)" font-size="75.5">A</text>
<text transform="translate(350.8,692.9) scale(1,0.985)" font-size="75.4">B</text>
<text transform="translate(336.7,1851.3) scale(1,1.033)" font-size="75.3">C</text>
<text transform="translate(1861.9,88.7) scale(1,1.051)" font-size="67.8">+28</text>
<text transform="translate(1937.2,682.6) scale(1,1.067)" font-size="67.5" text-anchor="middle">0</text>
<text transform="translate(85.3,350.5) rotate(-90)" font-size="90" text-anchor="middle">time</text>
<text transform="translate(105.5,1128.9) rotate(-90)" font-size="90" text-anchor="middle">FI</text>
<text transform="translate(104.7,2046.5) rotate(-90)" font-size="90" text-anchor="middle">EAS</text>
</svg></div></body></html>
